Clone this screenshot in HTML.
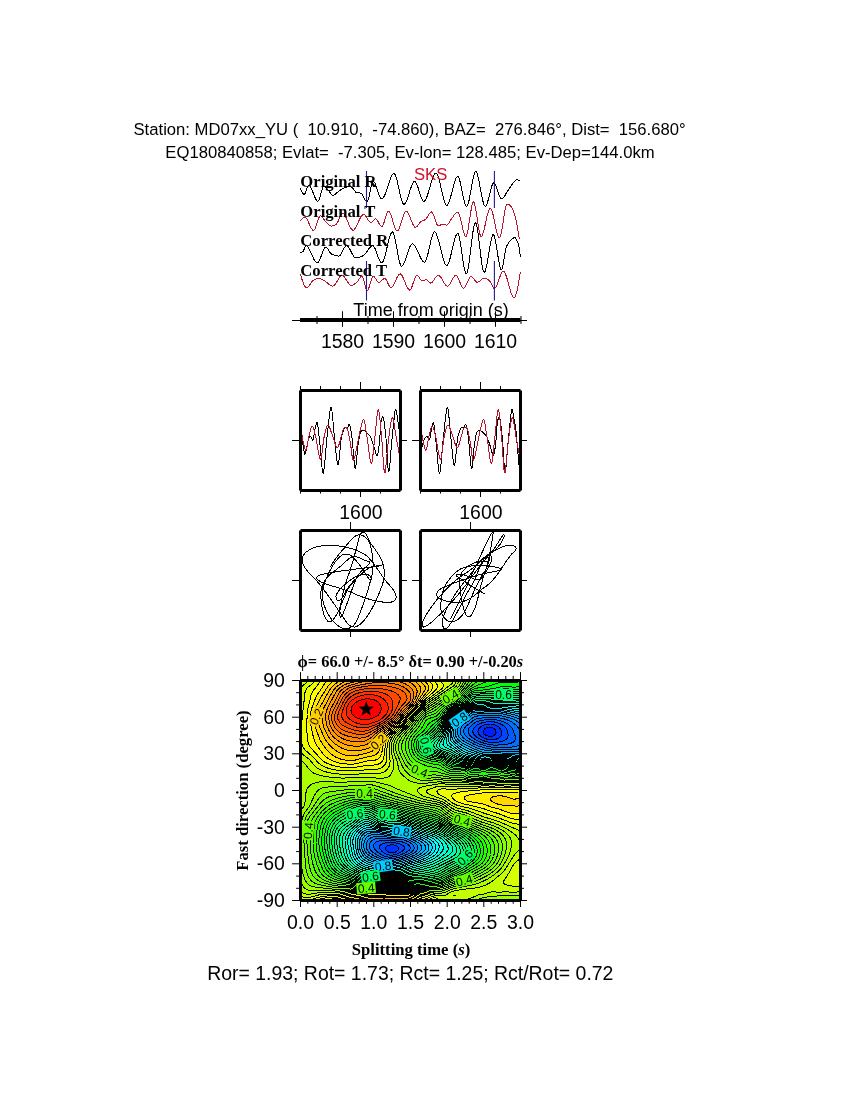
<!DOCTYPE html>
<html><head><meta charset="utf-8"><title>SWS</title><style>html,body{margin:0;padding:0;background:#fff}body{width:850px;height:1100px;position:relative;overflow:hidden}</style></head><body>
<svg width="850" height="1100" viewBox="0 0 850 1100" style="position:absolute;left:0;top:0">
<rect width="850" height="1100" fill="#fff"/>
<text x="409.6" y="135.4" font-family='"Liberation Sans",sans-serif' font-size="16.67" font-weight="normal" text-anchor="middle" fill="#000" xml:space="preserve" style="white-space:pre" >Station: MD07xx_YU (  10.910,  -74.860), BAZ=  276.846°, Dist=  156.680°</text>
<text x="410" y="157.6" font-family='"Liberation Sans",sans-serif' font-size="16.67" font-weight="normal" text-anchor="middle" fill="#000" xml:space="preserve" style="white-space:pre" >EQ180840858; Evlat=  -7.305, Ev-lon= 128.485; Ev-Dep=144.0km</text>
<path d="M300.3 187.6L300.8 189.2L301.3 190.6L301.8 191.8L302.3 192.7L302.8 193.4L303.3 193.9L303.8 194.2L304.3 194.3L304.8 193.9L305.3 192.9L305.8 191.7L306.3 190.2L306.8 188.8L307.3 187.4L307.8 186.2L308.3 185.5L308.8 185.3L309.3 185.5L309.8 185.9L310.3 186.6L310.8 187.4L311.3 188.4L311.8 189.5L312.3 190.7L312.8 192.0L313.3 193.3L313.8 194.5L314.3 195.8L314.8 197.0L315.3 198.1L315.8 199.1L316.3 199.9L316.8 200.6L317.3 201.0L317.8 201.2L318.3 201.0L318.8 200.3L319.3 199.2L319.8 197.7L320.3 196.0L320.8 194.2L321.3 192.3L321.8 190.5L322.3 188.9L322.8 187.5L323.3 186.6L323.8 186.0L324.3 186.0L324.8 186.3L325.3 186.7L325.8 187.2L326.3 187.9L326.8 188.5L327.3 189.2L327.8 189.8L328.3 190.4L328.8 191.0L329.3 191.6L329.8 192.2L330.3 192.9L330.8 193.5L331.3 194.1L331.8 194.6L332.3 195.0L332.8 195.2L333.3 195.3L333.8 195.2L334.3 195.0L334.8 194.7L335.3 194.3L335.8 193.8L336.3 193.4L336.8 192.9L337.3 192.4L337.8 192.0L338.3 191.6L338.8 191.3L339.3 190.9L339.8 190.5L340.3 190.2L340.8 189.8L341.3 189.4L341.8 189.1L342.3 188.8L342.8 188.5L343.3 188.2L343.8 188.0L344.3 187.8L344.8 187.6L345.3 187.4L345.8 187.2L346.3 187.1L346.8 186.9L347.3 186.8L347.8 186.6L348.3 186.5L348.8 186.5L349.3 186.4L349.8 186.4L350.3 186.5L350.8 186.8L351.3 187.1L351.8 187.5L352.3 188.0L352.8 188.5L353.3 189.0L353.8 189.5L354.3 190.2L354.8 191.0L355.3 191.7L355.8 192.2L356.3 192.4L356.8 192.5L357.3 192.6L357.8 192.7L358.3 192.7L358.8 192.8L359.3 192.8L359.8 192.9L360.3 193.0L360.8 193.1L361.3 193.3L361.8 193.8L362.3 194.7L362.8 195.7L363.3 196.8L363.8 197.9L364.3 198.7L364.8 199.5L365.3 200.3L365.8 201.0L366.3 201.6L366.8 201.9L367.3 201.7L367.8 200.8L368.3 199.4L368.8 197.6L369.3 195.4L369.8 193.1L370.3 190.7L370.8 188.3L371.3 186.2L371.8 184.3L372.3 182.7L372.8 181.8L373.3 181.4L373.8 181.6L374.3 182.1L374.8 182.9L375.3 183.9L375.8 185.1L376.3 186.5L376.8 188.0L377.3 189.6L377.8 191.1L378.3 192.7L378.8 194.2L379.3 195.5L379.8 196.7L380.3 197.7L380.8 198.4L381.3 198.9L381.8 199.0L382.3 198.8L382.8 198.4L383.3 197.8L383.8 197.0L384.3 196.1L384.8 195.0L385.3 193.7L385.8 192.4L386.3 191.0L386.8 189.5L387.3 188.0L387.8 186.4L388.3 184.9L388.8 183.3L389.3 181.8L389.8 180.4L390.3 179.0L390.8 177.8L391.3 176.6L391.8 175.7L392.3 174.8L392.8 174.2L393.3 173.7L393.8 173.5L394.3 173.6L394.8 174.1L395.3 175.0L395.8 176.2L396.3 177.7L396.8 179.5L397.3 181.5L397.8 183.6L398.3 185.9L398.8 188.2L399.3 190.5L399.8 192.8L400.3 195.0L400.8 197.1L401.3 199.0L401.8 200.7L402.3 202.1L402.8 203.2L403.3 204.0L403.8 204.3L404.3 204.2L404.8 203.8L405.3 203.2L405.8 202.4L406.3 201.4L406.8 200.2L407.3 198.8L407.8 197.4L408.3 195.9L408.8 194.3L409.3 192.7L409.8 191.1L410.3 189.5L410.8 188.0L411.3 186.6L411.8 185.3L412.3 184.1L412.8 183.1L413.3 182.3L413.8 181.8L414.3 181.5L414.8 181.4L415.3 181.7L415.8 182.3L416.3 183.2L416.8 184.3L417.3 185.5L417.8 186.9L418.3 188.5L418.8 190.1L419.3 191.7L419.8 193.3L420.3 194.9L420.8 196.3L421.3 197.7L421.8 198.9L422.3 199.9L422.8 200.6L423.3 201.1L423.8 201.3L424.3 201.2L424.8 200.8L425.3 200.1L425.8 199.3L426.3 198.2L426.8 197.0L427.3 195.6L427.8 194.2L428.3 192.6L428.8 190.9L429.3 189.2L429.8 187.5L430.3 185.8L430.8 184.0L431.3 182.4L431.8 180.8L432.3 179.2L432.8 177.8L433.3 176.5L433.8 175.4L434.3 174.5L434.8 173.8L435.3 173.3L435.8 173.0L436.3 173.1L436.8 173.5L437.3 174.3L437.8 175.4L438.3 176.8L438.8 178.5L439.3 180.3L439.8 182.4L440.3 184.5L440.8 186.7L441.3 189.0L441.8 191.2L442.3 193.5L442.8 195.6L443.3 197.7L443.8 199.6L444.3 201.2L444.8 202.7L445.3 203.9L445.8 204.8L446.3 205.3L446.8 205.4L447.3 205.2L447.8 204.6L448.3 203.7L448.8 202.6L449.3 201.3L449.8 199.8L450.3 198.1L450.8 196.3L451.3 194.5L451.8 192.5L452.3 190.6L452.8 188.6L453.3 186.7L453.8 184.8L454.3 183.1L454.8 181.5L455.3 180.0L455.8 178.8L456.3 177.8L456.8 177.0L457.3 176.6L457.8 176.5L458.3 176.9L458.8 177.8L459.3 179.1L459.8 180.7L460.3 182.7L460.8 184.9L461.3 187.3L461.8 189.8L462.3 192.3L462.8 194.8L463.3 197.3L463.8 199.5L464.3 201.6L464.8 203.4L465.3 204.9L465.8 205.9L466.3 206.5L466.8 206.5L467.3 206.0L467.8 204.9L468.3 203.4L468.8 201.4L469.3 199.2L469.8 196.6L470.3 193.9L470.8 191.1L471.3 188.2L471.8 185.3L472.3 182.5L472.8 179.9L473.3 177.5L473.8 175.5L474.3 173.7L474.8 172.5L475.3 171.7L475.8 171.5L476.3 171.9L476.8 172.8L477.3 174.1L477.8 175.8L478.3 177.9L478.8 180.2L479.3 182.7L479.8 185.4L480.3 188.1L480.8 190.8L481.3 193.5L481.8 196.1L482.3 198.6L482.8 200.8L483.3 202.7L483.8 204.3L484.3 205.4L484.8 206.1L485.3 206.3L485.8 206.0L486.3 205.2L486.8 204.2L487.3 202.8L487.8 201.2L488.3 199.4L488.8 197.4L489.3 195.4L489.8 193.4L490.3 191.4L490.8 189.5L491.3 187.7L491.8 186.1L492.3 184.8L492.8 183.8L493.3 183.1L493.8 182.9L494.3 183.1L494.8 183.6L495.3 184.4L495.8 185.5L496.3 186.7L496.8 188.1L497.3 189.6L497.8 191.1L498.3 192.6L498.8 194.1L499.3 195.4L499.8 196.7L500.3 197.7L500.8 198.4L501.3 198.9L501.8 199.0L502.3 198.8L502.8 198.5L503.3 198.0L503.8 197.4L504.3 196.6L504.8 195.8L505.3 194.9L505.8 194.0L506.3 193.1L506.8 192.2L507.3 191.4L507.8 190.7L508.3 190.1L508.8 189.4L509.3 188.7L509.8 187.9L510.3 187.1L510.8 186.3L511.3 185.5L511.8 184.8L512.3 184.0L512.8 183.3L513.3 182.6L513.8 182.0L514.3 181.5L514.8 181.0L515.3 180.6L515.8 180.2L516.3 180.0L516.8 179.9L517.3 179.9L517.8 180.0L518.3 180.1L518.8 180.3L519.3 180.6L519.8 180.9L520.3 181.3L520.4 181.4" stroke="#000" stroke-width="1" fill="none" stroke-linejoin="round" shape-rendering="crispEdges"/>
<path d="M300.4 221.2L300.9 220.4L301.4 219.8L301.9 219.2L302.4 218.7L302.9 218.3L303.4 217.9L303.9 217.7L304.4 217.6L304.9 217.5L305.4 217.6L305.9 217.9L306.4 218.4L306.9 219.1L307.4 220.0L307.9 221.0L308.4 222.0L308.9 223.2L309.4 224.3L309.9 225.4L310.4 226.5L310.9 227.5L311.4 228.4L311.9 229.2L312.4 229.8L312.9 230.2L313.4 230.4L313.9 230.3L314.4 229.7L314.9 228.9L315.4 227.7L315.9 226.4L316.4 224.9L316.9 223.3L317.4 221.7L317.9 220.2L318.4 218.8L318.9 217.7L319.4 216.7L319.9 216.1L320.4 215.9L320.9 216.0L321.4 216.3L321.9 216.7L322.4 217.3L322.9 217.9L323.4 218.6L323.9 219.3L324.4 220.1L324.9 220.7L325.4 221.4L325.9 221.9L326.4 222.4L326.9 222.9L327.4 223.4L327.9 223.9L328.4 224.4L328.9 224.9L329.4 225.3L329.9 225.6L330.4 225.8L330.9 226.0L331.4 226.0L331.9 226.0L332.4 225.9L332.9 225.7L333.4 225.6L333.9 225.4L334.4 225.1L334.9 224.9L335.4 224.6L335.9 224.3L336.4 224.0L336.9 223.5L337.4 222.7L337.9 221.7L338.4 220.6L338.9 219.4L339.4 218.1L339.9 216.8L340.4 215.7L340.9 214.7L341.4 213.8L341.9 213.3L342.4 213.0L342.9 213.1L343.4 213.4L343.9 213.8L344.4 214.5L344.9 215.3L345.4 216.2L345.9 217.2L346.4 218.4L346.9 219.5L347.4 220.7L347.9 222.0L348.4 223.2L348.9 224.4L349.4 225.5L349.9 226.6L350.4 227.6L350.9 228.4L351.4 229.1L351.9 229.7L352.4 230.0L352.9 230.2L353.4 230.1L353.9 229.9L354.4 229.4L354.9 228.8L355.4 228.1L355.9 227.3L356.4 226.3L356.9 225.3L357.4 224.2L357.9 223.1L358.4 222.0L358.9 220.8L359.4 219.7L359.9 218.7L360.4 217.7L360.9 216.8L361.4 216.0L361.9 215.4L362.4 214.9L362.9 214.5L363.4 214.4L363.9 214.5L364.4 214.7L364.9 215.1L365.4 215.7L365.9 216.4L366.4 217.1L366.9 217.9L367.4 218.7L367.9 219.5L368.4 220.3L368.9 221.0L369.4 221.6L369.9 222.0L370.4 222.4L370.9 222.5L371.4 222.4L371.9 222.1L372.4 221.7L372.9 221.2L373.4 220.6L373.9 220.0L374.4 219.5L374.9 219.1L375.4 218.9L375.9 219.0L376.4 219.3L376.9 219.8L377.4 220.5L377.9 221.3L378.4 222.2L378.9 223.2L379.4 224.1L379.9 224.9L380.4 225.6L380.9 226.1L381.4 226.4L381.9 226.5L382.4 226.1L382.9 225.3L383.4 224.2L383.9 222.8L384.4 221.3L384.9 219.7L385.4 218.0L385.9 216.4L386.4 214.9L386.9 213.5L387.4 212.4L387.9 211.6L388.4 211.2L388.9 211.3L389.4 211.7L389.9 212.5L390.4 213.5L390.9 214.9L391.4 216.4L391.9 218.0L392.4 219.7L392.9 221.5L393.4 223.3L393.9 225.0L394.4 226.6L394.9 228.0L395.4 229.2L395.9 230.2L396.4 230.8L396.9 231.1L397.4 231.0L397.9 230.6L398.4 229.9L398.9 228.9L399.4 227.7L399.9 226.4L400.4 225.0L400.9 223.4L401.4 221.8L401.9 220.2L402.4 218.6L402.9 217.0L403.4 215.6L403.9 214.3L404.4 213.2L404.9 212.3L405.4 211.6L405.9 211.3L406.4 211.2L406.9 211.5L407.4 212.0L407.9 212.6L408.4 213.5L408.9 214.5L409.4 215.7L409.9 216.9L410.4 218.2L410.9 219.5L411.4 220.8L411.9 222.1L412.4 223.3L412.9 224.4L413.4 225.3L413.9 226.2L414.4 226.8L414.9 227.2L415.4 227.3L415.9 227.2L416.4 226.9L416.9 226.5L417.4 226.0L417.9 225.4L418.4 224.8L418.9 224.1L419.4 223.4L419.9 222.7L420.4 222.1L420.9 221.6L421.4 221.3L421.9 221.0L422.4 220.8L422.9 220.6L423.4 220.4L423.9 220.2L424.4 220.1L424.9 219.8L425.4 219.5L425.9 219.1L426.4 218.5L426.9 217.8L427.4 217.0L427.9 216.1L428.4 215.3L428.9 214.4L429.4 213.6L429.9 213.0L430.4 212.5L430.9 212.1L431.4 212.0L431.9 212.2L432.4 212.8L432.9 213.7L433.4 214.8L433.9 216.1L434.4 217.5L434.9 219.0L435.4 220.5L435.9 221.9L436.4 223.2L436.9 224.2L437.4 225.1L437.9 225.6L438.4 225.7L438.9 225.6L439.4 225.5L439.9 225.3L440.4 225.0L440.9 224.8L441.4 224.6L441.9 224.4L442.4 224.2L442.9 224.2L443.4 224.2L443.9 224.3L444.4 224.5L444.9 224.6L445.4 224.8L445.9 224.9L446.4 225.0L446.9 225.0L447.4 224.8L447.9 224.3L448.4 223.8L448.9 223.0L449.4 222.2L449.9 221.4L450.4 220.5L450.9 219.7L451.4 218.9L451.9 218.2L452.4 217.6L452.9 216.9L453.4 216.2L453.9 215.5L454.4 214.8L454.9 214.1L455.4 213.5L455.9 213.0L456.4 212.5L456.9 212.2L457.4 212.0L457.9 212.0L458.4 212.5L458.9 213.5L459.4 214.8L459.9 216.4L460.4 218.4L460.9 220.5L461.4 222.7L461.9 224.9L462.4 227.2L462.9 229.3L463.4 231.3L463.9 233.1L464.4 234.6L464.9 235.7L465.4 236.3L465.9 236.5L466.4 235.9L466.9 234.6L467.4 232.7L467.9 230.2L468.4 227.4L468.9 224.2L469.4 220.9L469.9 217.6L470.4 214.3L470.9 211.1L471.4 208.3L471.9 205.8L472.4 203.9L472.9 202.6L473.4 202.0L473.9 202.3L474.4 203.3L474.9 205.1L475.4 207.4L475.9 210.1L476.4 213.2L476.9 216.5L477.4 219.9L477.9 223.3L478.4 226.5L478.9 229.5L479.4 232.1L479.9 234.2L480.4 235.7L480.9 236.4L481.4 236.4L481.9 235.9L482.4 235.0L482.9 233.7L483.4 232.1L483.9 230.2L484.4 228.2L484.9 226.0L485.4 223.7L485.9 221.4L486.4 219.1L486.9 216.9L487.4 214.9L487.9 213.0L488.4 211.3L488.9 210.0L489.4 209.0L489.9 208.4L490.4 208.2L490.9 208.6L491.4 209.4L491.9 210.6L492.4 212.2L492.9 214.1L493.4 216.2L493.9 218.5L494.4 220.9L494.9 223.3L495.4 225.8L495.9 228.2L496.4 230.4L496.9 232.5L497.4 234.3L497.9 235.8L498.4 237.0L498.9 237.7L499.4 238.0L499.9 237.6L500.4 236.4L500.9 234.7L501.4 232.4L501.9 229.6L502.4 226.6L502.9 223.4L503.4 220.2L503.9 216.9L504.4 213.8L504.9 211.0L505.4 208.5L505.9 206.5L506.4 205.1L506.9 204.4L507.4 204.3L507.9 204.4L508.4 204.5L508.9 204.7L509.4 205.0L509.9 205.4L510.4 205.9L510.9 206.4L511.4 207.1L511.9 208.0L512.4 208.9L512.9 210.0L513.4 211.2L513.9 212.6L514.4 214.2L514.9 215.9L515.4 217.8L515.9 219.8L516.4 222.1L516.9 224.6L517.4 227.3L517.9 230.2L518.4 233.3L518.9 236.6L519.3 239.5" stroke="#b8142e" stroke-width="1" fill="none" stroke-linejoin="round" shape-rendering="crispEdges"/>
<path d="M300.4 252.5L300.9 252.5L301.4 252.3L301.9 252.1L302.4 251.9L302.9 251.6L303.4 251.0L303.9 249.9L304.4 248.6L304.9 247.2L305.4 246.2L305.9 245.6L306.4 245.7L306.9 245.9L307.4 246.3L307.9 246.9L308.4 247.6L308.9 248.5L309.4 249.4L309.9 250.4L310.4 251.5L310.9 252.6L311.4 253.7L311.9 254.9L312.4 256.0L312.9 257.1L313.4 258.2L313.9 259.2L314.4 260.1L314.9 260.9L315.4 261.6L315.9 262.2L316.4 262.5L316.9 262.8L317.4 262.8L317.9 262.5L318.4 262.0L318.9 261.2L319.4 260.3L319.9 259.2L320.4 258.0L320.9 256.7L321.4 255.4L321.9 254.1L322.4 252.7L322.9 251.5L323.4 250.3L323.9 249.3L324.4 248.4L324.9 247.8L325.4 247.3L325.9 247.2L326.4 247.3L326.9 247.7L327.4 248.3L327.9 249.1L328.4 249.9L328.9 250.8L329.4 251.7L329.9 252.5L330.4 253.2L330.9 253.7L331.4 254.0L331.9 254.3L332.4 254.5L332.9 254.7L333.4 254.9L333.9 255.1L334.4 255.2L334.9 255.4L335.4 255.5L335.9 255.6L336.4 255.7L336.9 255.8L337.4 255.9L337.9 256.0L338.4 256.0L338.9 256.0L339.4 255.9L339.9 255.5L340.4 255.0L340.9 254.3L341.4 253.4L341.9 252.5L342.4 251.5L342.9 250.5L343.4 249.5L343.9 248.5L344.4 247.7L344.9 246.9L345.4 246.3L345.9 245.8L346.4 245.6L346.9 245.6L347.4 245.9L347.9 246.3L348.4 246.9L348.9 247.6L349.4 248.4L349.9 249.3L350.4 250.2L350.9 251.2L351.4 252.3L351.9 253.3L352.4 254.2L352.9 255.1L353.4 255.9L353.9 256.6L354.4 257.2L354.9 257.6L355.4 257.9L355.9 257.9L356.4 257.9L356.9 257.8L357.4 257.7L357.9 257.7L358.4 257.5L358.9 257.4L359.4 257.2L359.9 257.1L360.4 256.9L360.9 256.7L361.4 256.5L361.9 256.3L362.4 256.1L362.9 255.8L363.4 255.6L363.9 255.3L364.4 254.9L364.9 254.4L365.4 253.8L365.9 253.2L366.4 252.5L366.9 251.7L367.4 251.0L367.9 250.2L368.4 249.5L368.9 248.7L369.4 248.1L369.9 247.4L370.4 246.9L370.9 246.4L371.4 246.0L371.9 245.7L372.4 245.6L372.9 245.7L373.4 246.0L373.9 246.6L374.4 247.4L374.9 248.3L375.4 249.5L375.9 250.7L376.4 252.1L376.9 253.5L377.4 254.9L377.9 256.3L378.4 257.7L378.9 258.9L379.4 260.1L379.9 261.0L380.4 261.8L380.9 262.4L381.4 262.7L381.9 262.8L382.4 262.4L382.9 261.7L383.4 260.7L383.9 259.4L384.4 257.9L384.9 256.2L385.4 254.3L385.9 252.3L386.4 250.2L386.9 248.0L387.4 245.8L387.9 243.7L388.4 241.6L388.9 239.7L389.4 237.8L389.9 236.2L390.4 234.7L390.9 233.6L391.4 232.7L391.9 232.1L392.4 231.9L392.9 232.2L393.4 233.0L393.9 234.3L394.4 236.1L394.9 238.1L395.4 240.5L395.9 243.0L396.4 245.8L396.9 248.5L397.4 251.3L397.9 254.1L398.4 256.7L398.9 259.2L399.4 261.3L399.9 263.2L400.4 264.7L400.9 265.7L401.4 266.3L401.9 266.2L402.4 265.9L402.9 265.4L403.4 264.6L403.9 263.6L404.4 262.5L404.9 261.2L405.4 259.8L405.9 258.3L406.4 256.8L406.9 255.2L407.4 253.6L407.9 252.1L408.4 250.6L408.9 249.2L409.4 247.9L409.9 246.7L410.4 245.7L410.9 244.9L411.4 244.3L411.9 243.9L412.4 243.8L412.9 243.9L413.4 244.2L413.9 244.7L414.4 245.2L414.9 245.9L415.4 246.7L415.9 247.6L416.4 248.6L416.9 249.6L417.4 250.7L417.9 251.8L418.4 252.9L418.9 254.1L419.4 255.2L419.9 256.3L420.4 257.3L420.9 258.3L421.4 259.2L421.9 260.0L422.4 260.7L422.9 261.2L423.4 261.7L423.9 262.0L424.4 262.1L424.9 262.0L425.4 261.4L425.9 260.5L426.4 259.2L426.9 257.7L427.4 256.0L427.9 254.0L428.4 251.9L428.9 249.7L429.4 247.5L429.9 245.2L430.4 243.0L430.9 240.8L431.4 238.8L431.9 237.0L432.4 235.3L432.9 234.0L433.4 232.9L433.9 232.2L434.4 231.9L434.9 232.0L435.4 232.4L435.9 233.1L436.4 234.1L436.9 235.3L437.4 236.7L437.9 238.3L438.4 240.0L438.9 241.9L439.4 243.8L439.9 245.8L440.4 247.9L440.9 249.9L441.4 252.0L441.9 254.0L442.4 255.9L442.9 257.8L443.4 259.5L443.9 261.0L444.4 262.4L444.9 263.5L445.4 264.4L445.9 265.1L446.4 265.4L446.9 265.5L447.4 265.1L447.9 264.4L448.4 263.4L448.9 262.2L449.4 260.6L449.9 258.9L450.4 257.0L450.9 255.0L451.4 252.9L451.9 250.8L452.4 248.6L452.9 246.4L453.4 244.3L453.9 242.2L454.4 240.3L454.9 238.6L455.4 237.0L455.9 235.7L456.4 234.6L456.9 233.9L457.4 233.5L457.9 233.5L458.4 234.2L458.9 235.5L459.4 237.5L459.9 240.0L460.4 242.9L460.9 246.0L461.4 249.4L461.9 252.9L462.4 256.5L462.9 259.9L463.4 263.2L463.9 266.2L464.4 268.8L464.9 271.0L465.4 272.7L465.9 273.6L466.4 273.9L466.9 273.3L467.4 271.8L467.9 269.7L468.4 267.0L468.9 263.7L469.4 260.1L469.9 256.2L470.4 252.1L470.9 247.9L471.4 243.7L471.9 239.6L472.4 235.7L472.9 232.2L473.4 229.0L473.9 226.4L474.4 224.4L474.9 223.1L475.4 222.7L475.9 223.2L476.4 224.5L476.9 226.5L477.4 229.2L477.9 232.5L478.4 236.1L478.9 240.0L479.4 244.2L479.9 248.4L480.4 252.6L480.9 256.7L481.4 260.5L481.9 264.0L482.4 267.0L482.9 269.5L483.4 271.2L483.9 272.2L484.4 272.3L484.9 271.8L485.4 270.6L485.9 268.9L486.4 266.8L486.9 264.4L487.4 261.7L487.9 258.7L488.4 255.7L488.9 252.6L489.4 249.5L489.9 246.5L490.4 243.7L490.9 241.1L491.4 238.9L491.9 237.0L492.4 235.6L492.9 234.8L493.4 234.6L493.9 235.2L494.4 236.4L494.9 238.2L495.4 240.5L495.9 243.2L496.4 246.1L496.9 249.3L497.4 252.5L497.9 255.8L498.4 258.9L498.9 261.8L499.4 264.4L499.9 266.6L500.4 268.3L500.9 269.4L501.4 269.8L501.9 269.3L502.4 267.8L502.9 265.5L503.4 262.7L503.9 259.7L504.4 256.5L504.9 253.4L505.4 250.7L505.9 248.4L506.4 247.0L506.9 245.8L507.4 244.8L507.9 243.9L508.4 243.0L508.9 242.3L509.4 241.7L509.9 241.1L510.4 240.6L510.9 240.1L511.4 239.6L511.9 239.1L512.4 238.7L512.9 238.4L513.4 238.1L513.9 237.8L514.4 237.7L514.9 237.7L515.4 238.0L515.9 238.6L516.4 239.4L516.9 240.4L517.4 241.5L517.9 242.7L518.4 244.3L518.9 246.8L519.4 249.8L519.9 253.3L520.4 257.1" stroke="#000" stroke-width="1" fill="none" stroke-linejoin="round" shape-rendering="crispEdges"/>
<path d="M300.4 273.9L300.9 275.8L301.4 277.5L301.9 279.2L302.4 280.7L302.9 282.1L303.4 283.4L303.9 284.5L304.4 285.5L304.9 286.3L305.4 286.9L305.9 287.4L306.4 287.6L306.9 287.7L307.4 287.5L307.9 287.2L308.4 286.7L308.9 286.1L309.4 285.4L309.9 284.6L310.4 283.8L310.9 283.0L311.4 282.3L311.9 281.7L312.4 281.2L312.9 280.8L313.4 280.5L313.9 280.2L314.4 280.0L314.9 279.7L315.4 279.5L315.9 279.2L316.4 279.0L316.9 278.9L317.4 278.7L317.9 278.6L318.4 278.5L318.9 278.5L319.4 278.5L319.9 278.6L320.4 278.7L320.9 278.9L321.4 279.2L321.9 279.4L322.4 279.7L322.9 280.0L323.4 280.3L323.9 280.5L324.4 280.8L324.9 281.1L325.4 281.4L325.9 281.8L326.4 282.1L326.9 282.5L327.4 283.0L327.9 283.4L328.4 283.8L328.9 284.2L329.4 284.6L329.9 285.0L330.4 285.3L330.9 285.6L331.4 285.8L331.9 286.0L332.4 286.1L332.9 286.1L333.4 286.0L333.9 285.7L334.4 285.2L334.9 284.7L335.4 284.0L335.9 283.3L336.4 282.5L336.9 281.6L337.4 280.8L337.9 279.9L338.4 279.0L338.9 278.2L339.4 277.5L339.9 276.8L340.4 276.3L340.9 275.8L341.4 275.5L341.9 275.4L342.4 275.5L342.9 275.7L343.4 276.0L343.9 276.5L344.4 277.1L344.9 277.8L345.4 278.5L345.9 279.3L346.4 280.1L346.9 280.9L347.4 281.7L347.9 282.5L348.4 283.2L348.9 283.8L349.4 284.4L349.9 284.9L350.4 285.2L350.9 285.4L351.4 285.4L351.9 285.3L352.4 285.2L352.9 285.0L353.4 284.7L353.9 284.4L354.4 284.1L354.9 283.7L355.4 283.3L355.9 282.9L356.4 282.5L356.9 282.1L357.4 281.6L357.9 281.0L358.4 280.3L358.9 279.5L359.4 278.7L359.9 277.9L360.4 277.2L360.9 276.7L361.4 276.3L361.9 276.2L362.4 276.6L362.9 277.6L363.4 279.0L363.9 280.8L364.4 282.8L364.9 284.9L365.4 286.8L365.9 288.5L366.4 289.8L366.9 290.6L367.4 290.7L367.9 290.2L368.4 289.2L368.9 287.9L369.4 286.4L369.9 284.7L370.4 282.9L370.9 281.2L371.4 279.5L371.9 278.1L372.4 277.1L372.9 276.4L373.4 276.2L373.9 276.4L374.4 276.9L374.9 277.5L375.4 278.3L375.9 279.1L376.4 279.9L376.9 280.7L377.4 281.4L377.9 281.9L378.4 282.2L378.9 282.3L379.4 282.2L379.9 281.9L380.4 281.6L380.9 281.2L381.4 280.7L381.9 280.3L382.4 279.8L382.9 279.4L383.4 279.0L383.9 278.7L384.4 278.5L384.9 278.5L385.4 278.7L385.9 279.3L386.4 280.1L386.9 281.0L387.4 282.1L387.9 283.2L388.4 284.3L388.9 285.4L389.4 286.3L389.9 287.0L390.4 287.5L390.9 287.7L391.4 287.6L391.9 287.2L392.4 286.7L392.9 286.0L393.4 285.2L393.9 284.3L394.4 283.2L394.9 282.1L395.4 281.0L395.9 279.9L396.4 278.8L396.9 277.7L397.4 276.8L397.9 275.9L398.4 275.1L398.9 274.5L399.4 274.1L399.9 273.9L400.4 273.9L400.9 274.2L401.4 274.7L401.9 275.4L402.4 276.2L402.9 277.2L403.4 278.3L403.9 279.5L404.4 280.7L404.9 281.9L405.4 283.2L405.9 284.4L406.4 285.6L406.9 286.7L407.4 287.7L407.9 288.5L408.4 289.2L408.9 289.7L409.4 290.0L409.9 290.0L410.4 289.6L410.9 288.9L411.4 287.9L411.9 286.7L412.4 285.4L412.9 283.9L413.4 282.4L413.9 280.9L414.4 279.5L414.9 278.2L415.4 277.0L415.9 276.2L416.4 275.6L416.9 275.4L417.4 275.5L417.9 275.9L418.4 276.5L418.9 277.1L419.4 277.9L419.9 278.6L420.4 279.4L420.9 280.0L421.4 280.5L421.9 280.8L422.4 280.8L422.9 280.7L423.4 280.6L423.9 280.4L424.4 280.2L424.9 280.0L425.4 279.9L425.9 279.8L426.4 279.9L426.9 280.1L427.4 280.5L427.9 281.0L428.4 281.5L428.9 282.0L429.4 282.5L429.9 282.8L430.4 283.0L430.9 283.0L431.4 282.8L431.9 282.4L432.4 281.9L432.9 281.4L433.4 280.7L433.9 280.0L434.4 279.3L434.9 278.5L435.4 277.8L435.9 277.2L436.4 276.6L436.9 276.1L437.4 275.7L437.9 275.5L438.4 275.4L438.9 275.5L439.4 275.8L439.9 276.3L440.4 276.8L440.9 277.5L441.4 278.2L441.9 279.0L442.4 279.9L442.9 280.7L443.4 281.6L443.9 282.5L444.4 283.3L444.9 284.0L445.4 284.7L445.9 285.2L446.4 285.7L446.9 286.0L447.4 286.1L447.9 286.0L448.4 285.8L448.9 285.3L449.4 284.7L449.9 284.0L450.4 283.2L450.9 282.3L451.4 281.3L451.9 280.4L452.4 279.4L452.9 278.5L453.4 277.7L453.9 276.9L454.4 276.3L454.9 275.8L455.4 275.5L455.9 275.4L456.4 275.6L456.9 276.0L457.4 276.7L457.9 277.6L458.4 278.6L458.9 279.8L459.4 281.0L459.9 282.3L460.4 283.5L460.9 284.7L461.4 285.7L461.9 286.6L462.4 287.4L462.9 287.9L463.4 288.1L463.9 288.0L464.4 287.7L464.9 287.1L465.4 286.3L465.9 285.4L466.4 284.4L466.9 283.3L467.4 282.2L467.9 281.1L468.4 280.0L468.9 279.0L469.4 278.1L469.9 277.4L470.4 276.8L470.9 276.6L471.4 276.5L471.9 276.7L472.4 277.1L472.9 277.6L473.4 278.2L473.9 278.9L474.4 279.6L474.9 280.3L475.4 281.0L475.9 281.5L476.4 282.0L476.9 282.2L477.4 282.3L477.9 282.2L478.4 282.0L478.9 281.7L479.4 281.3L479.9 280.9L480.4 280.5L480.9 280.0L481.4 279.5L481.9 279.1L482.4 278.7L482.9 278.4L483.4 278.2L483.9 278.0L484.4 278.0L484.9 278.1L485.4 278.2L485.9 278.4L486.4 278.6L486.9 278.9L487.4 279.2L487.9 279.6L488.4 279.9L488.9 280.3L489.4 280.7L489.9 281.2L490.4 282.0L490.9 282.9L491.4 283.9L491.9 285.0L492.4 286.0L492.9 287.0L493.4 287.7L493.9 288.2L494.4 288.4L494.9 288.2L495.4 287.8L495.9 287.1L496.4 286.2L496.9 285.1L497.4 283.9L497.9 282.5L498.4 281.1L498.9 279.7L499.4 278.3L499.9 276.9L500.4 275.6L500.9 274.4L501.4 273.3L501.9 272.4L502.4 271.8L502.9 271.4L503.4 271.3L503.9 271.5L504.4 272.1L504.9 272.9L505.4 273.9L505.9 275.2L506.4 276.6L506.9 278.2L507.4 279.9L507.9 281.7L508.4 283.5L508.9 285.4L509.4 287.2L509.9 289.0L510.4 290.7L510.9 292.3L511.4 293.7L511.9 295.0L512.4 296.0L512.9 296.8L513.4 297.4L513.9 297.6L514.4 297.5L514.9 296.9L515.4 296.0L515.9 294.7L516.4 293.0L516.9 291.1L517.4 288.9L517.9 286.4L518.4 283.8L518.9 280.9L519.4 277.9L519.9 274.8L520.4 271.6" stroke="#b8142e" stroke-width="1" fill="none" stroke-linejoin="round" shape-rendering="crispEdges"/>
<path d="M366.5 171L366.5 208" stroke="#241c8c" stroke-width="1.1" fill="none"/>
<path d="M366.5 261L366.5 300.5" stroke="#241c8c" stroke-width="1.1" fill="none"/>
<path d="M494.4 171L494.4 208" stroke="#241c8c" stroke-width="1.1" fill="none"/>
<path d="M494.4 261L494.4 300.5" stroke="#241c8c" stroke-width="1.1" fill="none"/>
<text x="300.3" y="186.8" font-family='"Liberation Serif",serif' font-size="16.67" font-weight="bold" text-anchor="start" fill="#000" xml:space="preserve" style="white-space:pre" >Original R</text>
<text x="300.3" y="216.60000000000002" font-family='"Liberation Serif",serif' font-size="16.67" font-weight="bold" text-anchor="start" fill="#000" xml:space="preserve" style="white-space:pre" >Original T</text>
<text x="300.3" y="246.4" font-family='"Liberation Serif",serif' font-size="16.67" font-weight="bold" text-anchor="start" fill="#000" xml:space="preserve" style="white-space:pre" >Corrected R</text>
<text x="300.3" y="276.20000000000005" font-family='"Liberation Serif",serif' font-size="16.67" font-weight="bold" text-anchor="start" fill="#000" xml:space="preserve" style="white-space:pre" >Corrected T</text>
<text x="430.6" y="179.8" font-family='"Liberation Sans",sans-serif' font-size="16.67" font-weight="normal" text-anchor="middle" fill="#d4102c" xml:space="preserve" style="white-space:pre" >SKS</text>
<text x="431" y="316.2" font-family='"Liberation Sans",sans-serif' font-size="18" font-weight="normal" text-anchor="middle" fill="#000" xml:space="preserve" style="white-space:pre" >Time from origin (s)</text>
<path d="M300 320L520.5 320" stroke="#000" stroke-width="4" fill="none"/>
<path d="M292 320.5L527 320.5" stroke="#000" stroke-width="1" fill="none"/>
<path d="M317.0 316L317.0 324" stroke="#000" stroke-width="1" fill="none"/>
<path d="M342.5 311.3L342.5 326.8" stroke="#000" stroke-width="1" fill="none"/>
<text x="342.5" y="348.3" font-family='"Liberation Sans",sans-serif' font-size="19.44" font-weight="normal" text-anchor="middle" fill="#000" xml:space="preserve" style="white-space:pre" >1580</text>
<path d="M368.0 316L368.0 324" stroke="#000" stroke-width="1" fill="none"/>
<path d="M393.5 311.3L393.5 326.8" stroke="#000" stroke-width="1" fill="none"/>
<text x="393.5" y="348.3" font-family='"Liberation Sans",sans-serif' font-size="19.44" font-weight="normal" text-anchor="middle" fill="#000" xml:space="preserve" style="white-space:pre" >1590</text>
<path d="M419.0 316L419.0 324" stroke="#000" stroke-width="1" fill="none"/>
<path d="M444.5 311.3L444.5 326.8" stroke="#000" stroke-width="1" fill="none"/>
<text x="444.5" y="348.3" font-family='"Liberation Sans",sans-serif' font-size="19.44" font-weight="normal" text-anchor="middle" fill="#000" xml:space="preserve" style="white-space:pre" >1600</text>
<path d="M470.0 316L470.0 324" stroke="#000" stroke-width="1" fill="none"/>
<path d="M495.5 311.3L495.5 326.8" stroke="#000" stroke-width="1" fill="none"/>
<text x="495.5" y="348.3" font-family='"Liberation Sans",sans-serif' font-size="19.44" font-weight="normal" text-anchor="middle" fill="#000" xml:space="preserve" style="white-space:pre" >1610</text>
<path d="M521.0 316L521.0 324" stroke="#000" stroke-width="1" fill="none"/>
<path d="M301.0 432.0L301.2 433.6L301.5 435.2L301.8 436.8L302.0 438.3L302.2 439.8L302.5 441.3L302.8 442.9L303.0 444.7L303.2 446.5L303.5 448.2L303.8 449.9L304.0 451.4L304.2 452.7L304.5 453.6L304.8 454.1L305.0 454.2L305.2 453.9L305.5 453.3L305.8 452.5L306.0 451.5L306.2 450.3L306.5 449.0L306.8 447.6L307.0 446.2L307.2 444.7L307.5 443.3L307.8 442.0L308.0 440.7L308.2 439.6L308.5 438.7L308.8 438.1L309.0 437.7L309.2 437.3L309.5 436.9L309.8 436.6L310.0 436.4L310.2 436.3L310.5 436.2L310.8 436.3L311.0 436.7L311.2 437.2L311.5 437.8L311.8 438.4L312.0 439.0L312.2 439.5L312.5 439.9L312.8 440.1L313.0 439.9L313.2 439.3L313.5 438.3L313.8 437.0L314.0 435.5L314.2 433.9L314.5 432.3L314.8 430.8L315.0 429.5L315.2 428.4L315.5 427.3L315.8 426.0L316.0 424.9L316.2 423.8L316.5 423.0L316.8 422.6L317.0 422.5L317.2 423.1L317.5 424.0L317.8 425.5L318.0 427.2L318.2 429.3L318.5 431.5L318.8 433.9L319.0 436.3L319.2 438.7L319.5 441.0L319.8 443.2L320.0 445.3L320.2 447.8L320.5 450.5L320.8 453.4L321.0 456.4L321.2 459.3L321.5 462.2L321.8 464.9L322.0 467.4L322.2 469.5L322.5 471.2L322.8 472.4L323.0 473.0L323.2 473.0L323.5 472.4L323.8 471.2L324.0 469.6L324.2 467.6L324.5 465.3L324.8 462.7L325.0 459.9L325.2 457.0L325.5 454.0L325.8 450.9L326.0 447.9L326.2 444.9L326.5 442.1L326.8 439.5L327.0 437.2L327.2 435.2L327.5 433.0L327.8 430.7L328.0 428.3L328.2 425.9L328.5 423.5L328.8 421.1L329.0 418.9L329.2 416.7L329.5 414.6L329.8 412.8L330.0 411.2L330.2 409.8L330.5 408.7L330.8 408.0L331.0 407.6L331.2 407.7L331.5 408.4L331.8 409.7L332.0 411.4L332.2 413.5L332.5 415.9L332.8 418.6L333.0 421.4L333.2 424.3L333.5 427.2L333.8 430.0L334.0 432.7L334.2 435.1L334.5 437.3L334.8 439.5L335.0 442.0L335.2 444.6L335.5 447.2L335.8 449.9L336.0 452.5L336.2 455.0L336.5 457.3L336.8 459.5L337.0 461.4L337.2 462.9L337.5 464.1L337.8 464.8L338.0 465.1L338.2 464.8L338.5 463.8L338.8 462.3L339.0 460.4L339.2 458.2L339.5 455.6L339.8 453.0L340.0 450.2L340.2 447.4L340.5 444.7L340.8 442.3L341.0 440.1L341.2 438.2L341.5 436.8L341.8 435.9L342.0 435.0L342.2 434.1L342.5 433.2L342.8 432.4L343.0 431.7L343.2 430.9L343.5 430.3L343.8 429.7L344.0 429.1L344.2 428.7L344.5 428.3L344.8 428.0L345.0 427.7L345.2 427.6L345.5 427.6L345.8 427.5L346.0 427.5L346.2 427.5L346.5 427.4L346.8 427.4L347.0 427.4L347.2 427.4L347.5 427.3L347.8 427.1L348.0 426.7L348.2 426.1L348.5 425.6L348.8 425.0L349.0 424.6L349.2 424.4L349.5 424.5L349.8 425.0L350.0 425.8L350.2 426.9L350.5 428.2L350.8 429.6L351.0 431.2L351.2 432.8L351.5 434.5L351.8 436.1L352.0 437.8L352.2 440.0L352.5 442.5L352.8 445.3L353.0 448.3L353.2 451.4L353.5 454.5L353.8 457.5L354.0 460.3L354.2 462.9L354.5 465.0L354.8 466.7L355.0 467.9L355.2 468.4L355.5 468.1L355.8 467.1L356.0 465.5L356.2 463.4L356.5 460.9L356.8 458.2L357.0 455.3L357.2 452.4L357.5 449.6L357.8 447.1L358.0 445.0L358.2 443.3L358.5 441.8L358.8 440.3L359.0 438.8L359.2 437.4L359.5 436.1L359.8 434.9L360.0 433.9L360.2 433.0L360.5 432.4L360.8 431.9L361.0 431.6L361.2 431.3L361.5 431.0L361.8 430.8L362.0 430.6L362.2 430.4L362.5 430.3L362.8 430.2L363.0 430.2L363.2 430.2L363.5 430.3L363.8 430.4L364.0 430.5L364.2 430.6L364.5 430.8L364.8 430.9L365.0 431.1L365.2 431.3L365.5 431.5L365.8 431.7L366.0 431.9L366.2 432.1L366.5 432.4L366.8 432.6L367.0 432.8L367.2 433.0L367.5 433.2L367.8 433.5L368.0 433.7L368.2 434.0L368.5 434.3L368.8 434.6L369.0 434.9L369.2 435.2L369.5 435.6L369.8 435.9L370.0 436.3L370.2 436.7L370.5 437.1L370.8 437.6L371.0 438.1L371.2 438.7L371.5 439.3L371.8 440.0L372.0 440.7L372.2 441.4L372.5 442.2L372.8 442.9L373.0 443.7L373.2 444.4L373.5 445.1L373.8 445.8L374.0 446.7L374.2 447.5L374.5 448.5L374.8 449.4L375.0 450.3L375.2 451.3L375.5 452.1L375.8 452.9L376.0 453.7L376.2 454.3L376.5 454.8L376.8 455.1L377.0 455.3L377.2 455.2L377.5 454.7L377.8 453.9L378.0 452.7L378.2 451.2L378.5 449.5L378.8 447.7L379.0 445.9L379.2 444.0L379.5 441.8L379.8 438.7L380.0 435.1L380.2 431.3L380.5 427.7L380.8 424.6L381.0 422.4L381.2 421.1L381.5 420.0L381.8 419.1L382.0 418.2L382.2 417.5L382.5 417.0L382.8 416.7L383.0 416.7L383.2 417.2L383.5 418.0L383.8 419.2L384.0 420.8L384.2 422.6L384.5 424.6L384.8 426.8L385.0 429.1L385.2 431.4L385.5 433.7L385.8 436.0L386.0 438.4L386.2 441.5L386.5 445.1L386.8 449.1L387.0 453.2L387.2 457.4L387.5 461.3L387.8 464.9L388.0 467.9L388.2 470.2L388.5 471.6L388.8 472.0L389.0 471.4L389.2 470.2L389.5 468.3L389.8 465.9L390.0 463.2L390.2 460.1L390.5 456.9L390.8 453.7L391.0 450.5L391.2 447.4L391.5 444.6L391.8 442.1L392.0 439.5L392.2 436.9L392.5 434.3L392.8 431.7L393.0 429.1L393.2 426.7L393.5 424.4L393.8 422.2L394.0 420.1L394.2 417.8L394.5 415.6L394.8 413.4L395.0 411.6L395.2 410.3L395.5 409.6L395.8 409.6L396.0 410.1L396.2 411.0L396.5 412.1L396.8 413.6L397.0 415.1L397.2 416.8L397.5 418.5L397.8 420.1L398.0 421.7L398.2 423.4L398.5 425.3L398.8 427.3L399.0 429.4L399.2 431.6L399.3 432.0" stroke="#000" stroke-width="1" fill="none" shape-rendering="crispEdges"/>
<path d="M301.3 430.5L301.6 432.4L301.8 434.1L302.1 435.9L302.3 437.5L302.6 439.0L302.8 440.4L303.1 441.7L303.3 442.8L303.6 443.8L303.8 444.7L304.1 445.7L304.3 446.6L304.6 447.4L304.8 448.2L305.1 448.9L305.3 449.5L305.6 449.9L305.8 450.1L306.1 450.2L306.3 449.9L306.6 449.2L306.8 448.2L307.1 447.0L307.3 445.6L307.6 444.0L307.8 442.4L308.1 440.9L308.3 439.3L308.6 438.0L308.8 436.8L309.1 435.8L309.3 434.8L309.6 433.8L309.8 432.7L310.1 431.7L310.3 430.7L310.6 429.7L310.8 428.9L311.1 428.1L311.3 427.4L311.6 426.8L311.8 426.5L312.1 426.2L312.3 426.2L312.6 426.4L312.8 426.8L313.1 427.3L313.3 428.0L313.6 428.7L313.8 429.6L314.1 430.6L314.3 431.6L314.6 432.6L314.8 433.6L315.1 434.7L315.3 435.6L315.6 436.6L315.8 437.6L316.1 438.8L316.3 440.0L316.6 441.4L316.8 442.8L317.1 444.3L317.3 445.9L317.6 447.4L317.8 448.9L318.1 450.4L318.3 451.9L318.6 453.3L318.8 454.5L319.1 455.7L319.3 456.8L319.6 457.7L319.8 458.4L320.1 458.9L320.3 459.2L320.6 459.3L320.8 459.0L321.1 458.2L321.3 457.1L321.6 455.7L321.8 454.0L322.1 452.2L322.3 450.2L322.6 448.1L322.8 446.0L323.1 443.9L323.3 441.9L323.6 440.1L323.8 438.5L324.1 437.1L324.3 436.0L324.6 434.9L324.8 433.8L325.1 432.7L325.3 431.7L325.6 430.6L325.8 429.6L326.1 428.7L326.3 427.8L326.6 427.1L326.8 426.4L327.1 425.9L327.3 425.4L327.6 425.2L327.8 425.1L328.1 425.2L328.3 425.3L328.6 425.6L328.8 426.0L329.1 426.4L329.3 426.9L329.6 427.5L329.8 428.2L330.1 428.8L330.3 429.6L330.6 430.3L330.8 431.0L331.1 431.8L331.3 432.5L331.6 433.2L331.8 433.9L332.1 434.5L332.3 435.1L332.6 435.8L332.8 436.5L333.1 437.2L333.3 438.0L333.6 438.8L333.8 439.6L334.1 440.5L334.3 441.3L334.6 442.1L334.8 442.9L335.1 443.7L335.3 444.4L335.6 445.1L335.8 445.7L336.1 446.2L336.3 446.7L336.6 447.1L336.8 447.4L337.1 447.5L337.3 447.6L337.6 447.5L337.8 447.3L338.1 446.9L338.3 446.4L338.6 445.7L338.8 445.0L339.1 444.2L339.3 443.3L339.6 442.4L339.8 441.4L340.1 440.4L340.3 439.4L340.6 438.5L340.8 437.5L341.1 436.6L341.3 435.8L341.6 435.0L341.8 434.3L342.1 433.5L342.3 432.7L342.6 431.8L342.8 430.9L343.1 430.1L343.3 429.3L343.6 428.6L343.8 428.1L344.1 427.6L344.3 427.4L344.6 427.3L344.8 427.3L345.1 427.4L345.3 427.4L345.6 427.5L345.8 427.6L346.1 427.7L346.3 427.8L346.6 427.9L346.8 428.1L347.1 428.4L347.3 428.9L347.6 429.6L347.8 430.4L348.1 431.4L348.3 432.5L348.6 433.7L348.8 435.0L349.1 436.3L349.3 437.7L349.6 439.0L349.8 440.4L350.1 441.8L350.3 443.1L350.6 444.4L350.8 446.1L351.1 448.0L351.3 450.0L351.6 452.1L351.8 454.1L352.1 456.0L352.3 457.7L352.6 459.0L352.8 460.0L353.1 460.4L353.3 460.3L353.6 460.1L353.8 459.7L354.1 459.1L354.3 458.4L354.6 457.5L354.8 456.6L355.1 455.5L355.3 454.4L355.6 453.2L355.8 452.0L356.1 450.7L356.3 449.4L356.6 448.2L356.8 446.9L357.1 445.7L357.3 444.5L357.6 443.4L357.8 442.2L358.1 441.0L358.3 439.7L358.6 438.4L358.8 437.0L359.1 435.6L359.3 434.2L359.6 432.9L359.8 431.6L360.1 430.4L360.3 429.2L360.6 428.2L360.8 427.2L361.1 426.3L361.3 425.2L361.6 424.2L361.8 423.3L362.1 422.3L362.3 421.5L362.6 420.7L362.8 420.1L363.1 419.6L363.3 419.4L363.6 419.3L363.8 419.5L364.1 420.1L364.3 420.9L364.6 422.0L364.8 423.2L365.1 424.6L365.3 426.1L365.6 427.8L365.8 429.4L366.1 431.1L366.3 432.8L366.6 434.3L366.8 435.8L367.1 437.3L367.3 438.8L367.6 440.6L367.8 442.4L368.1 444.4L368.3 446.4L368.6 448.5L368.8 450.5L369.1 452.5L369.3 454.4L369.6 456.2L369.8 457.9L370.1 459.4L370.3 460.7L370.6 461.8L370.8 462.6L371.1 463.1L371.3 463.3L371.6 463.1L371.8 462.4L372.1 461.2L372.3 459.8L372.6 458.0L372.8 456.0L373.1 453.8L373.3 451.5L373.6 449.0L373.8 446.5L374.1 444.1L374.3 441.6L374.6 439.3L374.8 437.2L375.1 435.2L375.3 432.9L375.6 430.4L375.8 427.8L376.1 425.1L376.3 422.4L376.6 419.7L376.8 417.2L377.1 415.0L377.3 413.0L377.6 411.4L377.8 410.3L378.1 409.6L378.3 409.5L378.6 410.0L378.8 411.0L379.1 412.4L379.3 414.1L379.6 416.2L379.8 418.5L380.1 421.0L380.3 423.7L380.6 426.4L380.8 429.1L381.1 431.8L381.3 434.4L381.6 436.9L381.8 439.7L382.1 442.9L382.3 446.4L382.6 450.2L382.8 454.0L383.1 457.8L383.3 461.5L383.6 464.8L383.8 467.8L384.1 470.2L384.3 471.9L384.6 472.9L384.8 473.0L385.1 472.4L385.3 471.2L385.6 469.4L385.8 467.2L386.1 464.7L386.3 461.9L386.6 459.0L386.8 456.0L387.1 453.0L387.3 450.1L387.6 447.5L387.8 445.2L388.1 443.2L388.3 441.4L388.6 439.4L388.8 437.5L389.1 435.5L389.3 433.5L389.6 431.5L389.8 429.5L390.1 427.7L390.3 425.9L390.6 424.2L390.8 422.7L391.1 421.3L391.3 420.1L391.6 419.1L391.8 418.3L392.1 417.8L392.3 417.5L392.6 417.6L392.8 417.9L393.1 418.6L393.3 419.5L393.6 420.7L393.8 422.1L394.1 423.6L394.3 425.2L394.6 426.9L394.8 428.6L395.1 430.4L395.3 432.1L395.6 433.7L395.8 435.3L396.1 436.7L396.3 438.0L396.6 439.4L396.8 440.7L397.1 442.1L397.3 443.4L397.6 444.8L397.8 446.2L398.1 447.6L398.3 448.9L398.6 450.3L398.8 451.7L399.1 453.1L399.3 454.5" stroke="#b8142e" stroke-width="1" fill="none" shape-rendering="crispEdges"/>
<path d="M420.9 451.5L421.1 450.4L421.4 449.2L421.6 448.2L421.9 447.2L422.1 446.2L422.4 445.2L422.6 444.3L422.9 443.5L423.1 442.7L423.4 441.9L423.6 441.2L423.9 440.6L424.1 440.0L424.4 439.4L424.6 438.9L424.9 438.4L425.1 438.0L425.4 437.7L425.6 437.3L425.9 437.0L426.1 436.7L426.4 436.4L426.6 436.3L426.9 436.2L427.1 436.3L427.4 436.7L427.6 437.2L427.9 437.8L428.1 438.4L428.4 439.0L428.6 439.5L428.9 439.9L429.1 440.1L429.4 439.9L429.6 439.3L429.9 438.3L430.1 437.0L430.4 435.5L430.6 433.9L430.9 432.3L431.1 430.8L431.4 429.5L431.6 428.4L431.9 427.3L432.1 426.0L432.4 424.9L432.6 423.8L432.9 423.0L433.1 422.6L433.4 422.5L433.6 423.1L433.9 424.0L434.1 425.5L434.4 427.2L434.6 429.3L434.9 431.5L435.1 433.9L435.4 436.3L435.6 438.7L435.9 441.0L436.1 443.2L436.4 445.3L436.6 447.8L436.9 450.5L437.1 453.4L437.4 456.4L437.6 459.3L437.9 462.2L438.1 464.9L438.4 467.4L438.6 469.5L438.9 471.2L439.1 472.4L439.4 473.0L439.6 473.0L439.9 472.4L440.1 471.2L440.4 469.6L440.6 467.6L440.9 465.3L441.1 462.7L441.4 459.9L441.6 457.0L441.9 454.0L442.1 450.9L442.4 447.9L442.6 444.9L442.9 442.1L443.1 439.5L443.4 437.2L443.6 435.2L443.9 433.0L444.1 430.7L444.4 428.3L444.6 425.9L444.9 423.5L445.1 421.1L445.4 418.9L445.6 416.7L445.9 414.6L446.1 412.8L446.4 411.2L446.6 409.8L446.9 408.7L447.1 408.0L447.4 407.6L447.6 407.7L447.9 408.4L448.1 409.7L448.4 411.4L448.6 413.5L448.9 415.9L449.1 418.6L449.4 421.4L449.6 424.3L449.9 427.2L450.1 430.0L450.4 432.7L450.6 435.1L450.9 437.3L451.1 439.5L451.4 442.0L451.6 444.6L451.9 447.2L452.1 449.9L452.4 452.5L452.6 455.0L452.9 457.3L453.1 459.5L453.4 461.4L453.6 462.9L453.9 464.1L454.1 464.8L454.4 465.1L454.6 464.8L454.9 463.8L455.1 462.3L455.4 460.4L455.6 458.2L455.9 455.6L456.1 453.0L456.4 450.2L456.6 447.4L456.9 444.7L457.1 442.3L457.4 440.1L457.6 438.2L457.9 436.8L458.1 435.9L458.4 435.0L458.6 434.1L458.9 433.2L459.1 432.4L459.4 431.7L459.6 430.9L459.9 430.3L460.1 429.7L460.4 429.1L460.6 428.7L460.9 428.3L461.1 428.0L461.4 427.7L461.6 427.6L461.9 427.6L462.1 427.5L462.4 427.5L462.6 427.5L462.9 427.4L463.1 427.4L463.4 427.4L463.6 427.4L463.9 427.3L464.1 427.1L464.4 426.7L464.6 426.1L464.9 425.6L465.1 425.0L465.4 424.6L465.6 424.4L465.9 424.5L466.1 425.0L466.4 425.8L466.6 426.9L466.9 428.2L467.1 429.6L467.4 431.2L467.6 432.8L467.9 434.5L468.1 436.1L468.4 437.8L468.6 440.0L468.9 442.5L469.1 445.3L469.4 448.3L469.6 451.4L469.9 454.5L470.1 457.5L470.4 460.3L470.6 462.9L470.9 465.0L471.1 466.7L471.4 467.9L471.6 468.4L471.9 468.1L472.1 467.1L472.4 465.5L472.6 463.4L472.9 460.9L473.1 458.2L473.4 455.3L473.6 452.4L473.9 449.6L474.1 447.1L474.4 445.0L474.6 443.3L474.9 441.8L475.1 440.3L475.4 438.8L475.6 437.4L475.9 436.1L476.1 434.9L476.4 433.9L476.6 433.0L476.9 432.4L477.1 431.9L477.4 431.6L477.6 431.3L477.9 431.0L478.1 430.8L478.4 430.6L478.6 430.4L478.9 430.3L479.1 430.2L479.4 430.2L479.6 430.2L479.9 430.3L480.1 430.4L480.4 430.5L480.6 430.6L480.9 430.8L481.1 430.9L481.4 431.1L481.6 431.3L481.9 431.5L482.1 431.7L482.4 431.9L482.6 432.1L482.9 432.4L483.1 432.6L483.4 432.8L483.6 433.0L483.9 433.2L484.1 433.5L484.4 433.7L484.6 434.0L484.9 434.3L485.1 434.6L485.4 434.9L485.6 435.2L485.9 435.6L486.1 435.9L486.4 436.3L486.6 436.7L486.9 437.1L487.1 437.6L487.4 438.1L487.6 438.7L487.9 439.3L488.1 440.0L488.4 440.7L488.6 441.4L488.9 442.2L489.1 442.9L489.4 443.7L489.6 444.4L489.9 445.1L490.1 445.8L490.4 446.7L490.6 447.5L490.9 448.5L491.1 449.4L491.4 450.3L491.6 451.3L491.9 452.1L492.1 452.9L492.4 453.7L492.6 454.3L492.9 454.8L493.1 455.1L493.4 455.3L493.6 455.2L493.9 454.7L494.1 453.9L494.4 452.7L494.6 451.2L494.9 449.5L495.1 447.7L495.4 445.9L495.6 444.0L495.9 441.8L496.1 438.7L496.4 435.1L496.6 431.3L496.9 427.7L497.1 424.6L497.4 422.4L497.6 421.1L497.9 420.0L498.1 419.1L498.4 418.2L498.6 417.5L498.9 417.0L499.1 416.7L499.4 416.7L499.6 417.2L499.9 418.0L500.1 419.2L500.4 420.8L500.6 422.6L500.9 424.6L501.1 426.8L501.4 429.1L501.6 431.4L501.9 433.7L502.1 436.0L502.4 438.4L502.6 441.5L502.9 445.1L503.1 449.1L503.4 453.2L503.6 457.4L503.9 461.3L504.1 464.9L504.4 467.9L504.6 470.2L504.9 471.6L505.1 472.0L505.4 471.4L505.6 470.2L505.9 468.3L506.1 465.9L506.4 463.2L506.6 460.1L506.9 456.9L507.1 453.7L507.4 450.5L507.6 447.4L507.9 444.6L508.1 442.1L508.4 439.5L508.6 436.9L508.9 434.3L509.1 431.7L509.4 429.1L509.6 426.7L509.9 424.4L510.1 422.2L510.4 420.1L510.6 417.8L510.9 415.6L511.1 413.4L511.4 411.6L511.6 410.3L511.9 409.6L512.1 409.6L512.4 410.2L512.6 411.1L512.9 412.4L513.1 413.9L513.4 415.5L513.6 417.1L513.9 418.7L514.1 420.1L514.4 421.4L514.6 422.5L514.9 423.6L515.1 424.8L515.4 426.1L515.6 427.7L515.9 429.6L516.1 431.9L516.4 434.7L516.6 437.7L516.9 440.8L517.1 443.9L517.4 446.9L517.6 449.6L517.9 452.4L518.1 455.1L518.4 457.8L518.6 460.5L518.9 463.2L519.1 465.9L519.3 467.5" stroke="#000" stroke-width="1" fill="none" shape-rendering="crispEdges"/>
<path d="M421.3 430.5L421.6 432.4L421.8 434.1L422.1 435.9L422.3 437.5L422.6 439.0L422.8 440.4L423.1 441.7L423.3 442.8L423.6 443.8L423.8 444.7L424.1 445.7L424.3 446.6L424.6 447.4L424.8 448.2L425.1 448.9L425.3 449.5L425.6 449.9L425.8 450.1L426.1 450.2L426.3 449.9L426.6 449.2L426.8 448.2L427.1 447.0L427.3 445.6L427.6 444.0L427.8 442.4L428.1 440.9L428.3 439.3L428.6 438.0L428.8 436.8L429.1 435.8L429.3 434.8L429.6 433.8L429.8 432.7L430.1 431.7L430.3 430.7L430.6 429.7L430.8 428.9L431.1 428.1L431.3 427.4L431.6 426.8L431.8 426.5L432.1 426.2L432.3 426.2L432.6 426.4L432.8 426.8L433.1 427.3L433.3 428.0L433.6 428.7L433.8 429.6L434.1 430.6L434.3 431.6L434.6 432.6L434.8 433.6L435.1 434.7L435.3 435.6L435.6 436.6L435.8 437.6L436.1 438.8L436.3 440.0L436.6 441.4L436.8 442.8L437.1 444.3L437.3 445.9L437.6 447.4L437.8 448.9L438.1 450.4L438.3 451.9L438.6 453.3L438.8 454.5L439.1 455.7L439.3 456.8L439.6 457.7L439.8 458.4L440.1 458.9L440.3 459.2L440.6 459.3L440.8 459.0L441.1 458.2L441.3 457.1L441.6 455.7L441.8 454.0L442.1 452.2L442.3 450.2L442.6 448.1L442.8 446.0L443.1 443.9L443.3 441.9L443.6 440.1L443.8 438.5L444.1 437.1L444.3 436.0L444.6 434.9L444.8 433.8L445.1 432.7L445.3 431.7L445.6 430.6L445.8 429.6L446.1 428.7L446.3 427.8L446.6 427.1L446.8 426.4L447.1 425.9L447.3 425.4L447.6 425.2L447.8 425.1L448.1 425.2L448.3 425.3L448.6 425.6L448.8 426.0L449.1 426.4L449.3 426.9L449.6 427.5L449.8 428.2L450.1 428.8L450.3 429.6L450.6 430.3L450.8 431.0L451.1 431.8L451.3 432.5L451.6 433.2L451.8 433.9L452.1 434.5L452.3 435.1L452.6 435.8L452.8 436.5L453.1 437.2L453.3 438.0L453.6 438.8L453.8 439.6L454.1 440.5L454.3 441.3L454.6 442.1L454.8 442.9L455.1 443.7L455.3 444.4L455.6 445.1L455.8 445.7L456.1 446.2L456.3 446.7L456.6 447.1L456.8 447.4L457.1 447.5L457.3 447.6L457.6 447.5L457.8 447.3L458.1 446.9L458.3 446.4L458.6 445.7L458.8 445.0L459.1 444.2L459.3 443.3L459.6 442.4L459.8 441.4L460.1 440.4L460.3 439.4L460.6 438.5L460.8 437.5L461.1 436.6L461.3 435.8L461.6 435.0L461.8 434.3L462.1 433.5L462.3 432.7L462.6 431.8L462.8 430.9L463.1 430.1L463.3 429.3L463.6 428.6L463.8 428.1L464.1 427.6L464.3 427.4L464.6 427.3L464.8 427.3L465.1 427.4L465.3 427.4L465.6 427.5L465.8 427.6L466.1 427.7L466.3 427.8L466.6 427.9L466.8 428.1L467.1 428.4L467.3 428.9L467.6 429.6L467.8 430.4L468.1 431.4L468.3 432.5L468.6 433.7L468.8 435.0L469.1 436.3L469.3 437.7L469.6 439.0L469.8 440.4L470.1 441.8L470.3 443.1L470.6 444.4L470.8 446.1L471.1 448.0L471.3 450.0L471.6 452.1L471.8 454.1L472.1 456.0L472.3 457.7L472.6 459.0L472.8 460.0L473.1 460.4L473.3 460.3L473.6 460.1L473.8 459.7L474.1 459.1L474.3 458.4L474.6 457.5L474.8 456.6L475.1 455.5L475.3 454.4L475.6 453.2L475.8 452.0L476.1 450.7L476.3 449.4L476.6 448.2L476.8 446.9L477.1 445.7L477.3 444.5L477.6 443.4L477.8 442.2L478.1 441.0L478.3 439.7L478.6 438.4L478.8 437.0L479.1 435.6L479.3 434.2L479.6 432.9L479.8 431.6L480.1 430.4L480.3 429.2L480.6 428.2L480.8 427.2L481.1 426.3L481.3 425.2L481.6 424.2L481.8 423.3L482.1 422.3L482.3 421.5L482.6 420.7L482.8 420.1L483.1 419.6L483.3 419.4L483.6 419.3L483.8 419.5L484.1 420.1L484.3 420.9L484.6 422.0L484.8 423.2L485.1 424.6L485.3 426.1L485.6 427.8L485.8 429.4L486.1 431.1L486.3 432.8L486.6 434.3L486.8 435.8L487.1 437.3L487.3 438.8L487.6 440.6L487.8 442.4L488.1 444.4L488.3 446.4L488.6 448.5L488.8 450.5L489.1 452.5L489.3 454.4L489.6 456.2L489.8 457.9L490.1 459.4L490.3 460.7L490.6 461.8L490.8 462.6L491.1 463.1L491.3 463.3L491.6 463.1L491.8 462.4L492.1 461.2L492.3 459.8L492.6 458.0L492.8 456.0L493.1 453.8L493.3 451.5L493.6 449.0L493.8 446.5L494.1 444.1L494.3 441.6L494.6 439.3L494.8 437.2L495.1 435.2L495.3 432.9L495.6 430.4L495.8 427.8L496.1 425.1L496.3 422.4L496.6 419.7L496.8 417.2L497.1 415.0L497.3 413.0L497.6 411.4L497.8 410.3L498.1 409.6L498.3 409.5L498.6 410.0L498.8 411.0L499.1 412.4L499.3 414.1L499.6 416.2L499.8 418.5L500.1 421.0L500.3 423.7L500.6 426.4L500.8 429.1L501.1 431.8L501.3 434.4L501.6 436.9L501.8 439.7L502.1 442.9L502.3 446.4L502.6 450.2L502.8 454.0L503.1 457.8L503.3 461.5L503.6 464.8L503.8 467.8L504.1 470.2L504.3 471.9L504.6 472.9L504.8 473.0L505.1 472.4L505.3 471.2L505.6 469.4L505.8 467.2L506.1 464.7L506.3 461.9L506.6 459.0L506.8 456.0L507.1 453.0L507.3 450.1L507.6 447.5L507.8 445.2L508.1 443.2L508.3 441.4L508.6 439.4L508.8 437.5L509.1 435.5L509.3 433.5L509.6 431.5L509.8 429.5L510.1 427.7L510.3 425.9L510.6 424.2L510.8 422.7L511.1 421.3L511.3 420.1L511.6 419.1L511.8 418.3L512.0 417.8L512.3 417.5L512.5 417.6L512.8 417.9L513.0 418.6L513.3 419.5L513.5 420.7L513.8 422.1L514.0 423.6L514.3 425.2L514.5 426.9L514.8 428.6L515.0 430.4L515.3 432.1L515.5 433.7L515.8 435.3L516.0 436.7L516.3 438.0L516.5 439.4L516.8 440.7L517.0 442.1L517.3 443.4L517.5 444.8L517.8 446.2L518.0 447.6L518.3 448.9L518.5 450.3L518.8 451.7L519.0 453.1L519.3 454.5" stroke="#b8142e" stroke-width="1" fill="none" shape-rendering="crispEdges"/>
<path d="M365.1 570.8L364.0 571.8L362.9 572.7L361.8 573.7L360.7 574.6L359.7 575.5L358.7 576.4L357.6 577.3L356.6 578.2L355.7 579.1L354.7 580.0L353.8 580.9L352.9 581.7L352.1 582.7L351.2 583.7L350.4 584.7L349.6 585.7L348.9 586.7L348.2 587.8L347.5 588.9L346.8 589.9L346.3 591.0L345.7 592.0L345.1 593.0L344.6 594.0L344.0 594.9L343.5 595.8L342.9 596.7L342.4 597.4L341.8 598.2L341.3 598.8L340.8 599.4L340.3 599.9L339.8 600.2L339.3 600.5L338.9 600.7L338.4 600.7L338.0 600.8L337.7 600.6L337.3 600.4L337.0 600.2L336.7 599.9L336.5 599.5L336.3 599.0L336.1 598.6L336.0 598.0L336.0 597.4L335.9 596.8L336.0 596.1L336.2 595.4L336.4 594.7L336.8 593.9L337.2 593.1L337.6 592.3L338.2 591.5L338.8 590.6L339.5 589.8L340.3 588.9L341.1 588.1L341.9 587.2L342.7 586.4L343.6 585.5L344.6 584.7L345.5 583.9L346.4 583.1L347.4 582.3L348.3 581.6L349.2 580.9L350.2 580.2L351.1 579.6L352.0 579.0L352.8 578.5L353.6 577.9L354.3 577.5L355.0 577.2L355.7 576.8L356.3 576.6L356.9 576.3L357.5 576.1L358.1 575.9L358.7 575.7L359.3 575.5L359.9 575.3L360.5 575.1L361.1 574.9L361.7 574.8L362.3 574.6L363.0 574.5L363.6 574.4L364.2 574.3L364.8 574.3L365.3 574.2L365.9 574.2L366.4 574.3L367.0 574.3L367.5 574.5L367.9 574.7L368.4 574.9L368.8 575.2L369.3 575.5L369.7 575.8L370.0 576.2L370.3 576.5L370.6 576.9L370.8 577.3L371.0 577.6L371.2 578.0L371.3 578.3L371.4 578.7L371.4 579.0L371.4 579.2L371.3 579.5L371.2 579.7L371.0 579.8L370.8 579.9L370.6 579.9L370.3 579.8L370.0 579.7L369.6 579.3L369.2 579.0L368.8 578.5L368.4 577.9L367.9 577.3L367.4 576.5L366.9 575.7L366.4 574.9L365.8 574.0L365.2 573.1L364.7 572.2L364.1 571.2L363.5 570.3L362.9 569.4L362.3 568.4L361.6 567.5L361.0 566.7L360.4 565.8L359.8 565.1L359.2 564.3L358.6 563.7L358.0 563.0L357.4 562.4L356.9 561.7L356.3 561.0L355.7 560.2L355.1 559.5L354.5 558.8L353.9 558.1L353.2 557.4L352.5 556.8L351.7 556.2L351.0 555.7L350.1 555.2L349.3 554.7L348.5 554.4L347.7 554.2L346.8 554.0L345.9 554.0L345.0 554.0L344.1 554.3L343.2 554.6L342.3 555.0L341.4 555.6L340.5 556.2L339.6 557.0L338.7 557.9L337.8 558.8L336.9 559.9L336.0 560.9L335.1 562.1L334.3 563.3L333.4 564.6L332.6 565.9L331.8 567.2L331.0 568.7L330.2 570.1L329.5 571.5L328.8 572.9L328.1 574.3L327.4 575.8L326.8 577.2L326.2 578.6L325.6 580.0L325.1 581.3L324.6 582.6L324.2 583.9L323.8 585.2L323.5 586.4L323.2 587.7L322.9 589.1L322.7 590.6L322.5 592.1L322.5 593.7L322.5 595.3L322.5 597.1L322.7 598.8L322.9 600.5L323.4 602.3L323.8 604.0L324.4 605.8L325.0 607.5L325.7 609.3L326.5 611.0L327.3 612.7L328.2 614.3L329.2 615.9L330.2 617.5L331.3 618.9L332.4 620.4L333.6 621.6L334.7 622.9L335.9 624.0L337.1 625.0L338.4 626.0L339.6 626.8L340.9 627.5L342.1 628.0L343.3 628.4L344.6 628.7L345.8 628.7L346.9 628.7L348.1 628.5L349.2 628.1L350.3 627.7L351.3 627.0L352.3 626.4L353.3 625.5L354.1 624.6L354.9 623.7L355.6 622.5L356.3 621.3L356.9 620.0L357.6 618.7L358.2 617.3L358.8 615.8L359.5 614.2L360.1 612.6L360.8 611.0L361.4 609.3L362.0 607.6L362.7 605.8L363.3 604.1L363.9 602.3L364.5 600.5L365.2 598.7L365.7 596.8L366.3 595.0L366.9 593.2L367.4 591.4L368.0 589.7L368.5 588.0L369.0 586.3L369.5 584.6L369.9 583.0L370.3 581.4L370.7 579.9L371.1 578.5L371.4 577.1L371.8 575.7L372.1 574.5L372.3 573.3L372.5 572.0L372.7 570.7L372.8 569.4L372.9 568.1L373.0 566.7L373.0 565.3L373.0 563.9L373.0 562.5L372.9 561.1L372.8 559.7L372.7 558.3L372.5 556.8L372.4 555.4L372.2 554.0L372.0 552.6L371.7 551.2L371.5 549.9L371.2 548.5L370.9 547.2L370.6 545.9L370.3 544.7L370.0 543.5L369.6 542.3L369.3 541.2L368.9 540.1L368.5 539.1L368.1 538.1L367.7 537.1L367.3 536.3L366.9 535.5L366.4 534.8L366.0 534.2L365.6 533.5L365.1 533.1L364.7 532.7L364.3 532.3L363.8 532.1L363.4 531.9L363.0 532.0L362.5 532.0L362.1 532.2L361.7 532.6L361.2 533.1L360.8 533.8L360.4 534.5L360.0 535.4L359.6 536.4L359.3 537.4L358.9 538.7L358.5 539.9L358.2 541.3L357.8 542.7L357.4 544.1L357.0 545.7L356.6 547.3L356.2 548.9L355.8 550.6L355.3 552.2L354.9 554.0L354.4 555.7L353.9 557.4L353.5 559.1L353.0 560.8L352.5 562.5L352.0 564.2L351.5 565.8L351.0 567.4L350.5 568.9L350.1 570.4L349.6 571.8L349.1 573.2L348.6 574.5L348.1 575.7L347.6 577.1L347.2 578.4L346.7 579.9L346.2 581.3L345.8 582.8L345.3 584.3L344.9 585.8L344.5 587.4L344.1 588.9L343.7 590.5L343.3 592.1L342.9 593.6L342.6 595.2L342.3 596.7L341.9 598.3L341.6 599.8L341.4 601.3L341.1 602.7L340.9 604.1L340.6 605.5L340.4 606.7L340.3 608.0L340.1 609.2L340.0 610.3L339.9 611.4L339.8 612.3L339.8 613.3L339.7 614.1L339.8 614.8L339.8 615.5L339.9 615.9L340.1 616.3L340.2 616.6L340.5 616.8L340.7 617.0L341.0 616.8L341.3 616.6L341.6 616.2L342.0 615.6L342.3 615.1L342.7 614.2L343.2 613.3L343.6 612.3L344.1 611.2L344.6 610.0L345.1 608.7L345.6 607.4L346.1 605.9L346.7 604.5L347.2 603.0L347.8 601.4L348.4 599.8L348.9 598.2L349.5 596.5L350.1 594.9L350.7 593.2L351.3 591.6L351.8 590.0L352.4 588.4L353.0 586.8L353.5 585.4L354.1 583.9L354.7 582.5L355.2 581.2L355.7 579.9L356.2 578.8L356.7 577.7L357.2 576.7L357.7 575.9L358.1 575.1L358.5 574.5L359.0 574.0L359.4 573.4L359.9 572.9L360.3 572.3L360.8 571.8L361.3 571.3L361.8 570.8L362.4 570.3L362.9 569.8L363.4 569.3L363.9 568.8L364.4 568.4L364.9 567.9L365.4 567.5L365.9 567.0L366.3 566.6L366.8 566.2L367.2 565.8L367.6 565.4L368.0 565.1L368.3 564.7L368.7 564.4L368.9 564.1L369.2 563.7L369.4 563.5L369.5 563.2L369.7 562.9L369.7 562.7L369.8 562.5L369.8 562.3L369.8 562.1L369.8 561.9L369.7 561.8L369.7 561.7L369.7 561.6L369.7 561.5L369.6 561.5L369.6 561.4L369.5 561.4L369.5 561.4L369.4 561.3L369.4 561.3L369.3 561.3L369.3 561.3L369.2 561.3L369.1 561.3L369.1 561.3L369.0 561.2L368.9 561.2L368.8 561.2L368.7 561.2L368.6 561.2L368.5 561.2L368.3 561.2L368.0 561.1L367.7 561.1L367.4 561.1L367.0 561.0L366.6 561.0L366.1 560.9L365.6 560.8L365.1 560.6L364.5 560.3L364.0 560.1L363.4 559.8L362.7 559.5L362.1 559.1L361.4 558.8L360.7 558.4L359.9 558.1L359.2 557.8L358.4 557.5L357.7 557.3L356.9 557.0L356.1 556.9L355.3 556.8L354.5 556.8L353.7 556.8L352.8 556.9L352.0 557.2L351.2 557.5L350.4 557.9L349.6 558.3L348.8 558.8L348.0 559.5L347.2 560.1L346.4 560.8L345.6 561.6L344.8 562.3L344.0 563.2L343.0 564.0L342.0 564.9L340.9 565.9L339.8 566.8L338.6 567.8L337.4 568.7L336.2 569.7L335.0 570.7L333.7 571.6L332.5 572.6L331.3 573.5L330.1 574.5L329.0 575.5L327.8 576.6L326.8 577.8L325.8 579.1L324.8 580.5L324.0 582.0L323.2 583.5L322.5 585.2L322.0 586.8L321.4 588.6L321.2 590.3L320.9 592.1L320.8 593.9L320.9 595.8L320.9 597.6L321.0 599.4L321.2 601.3L321.4 603.0L321.6 604.8L321.9 606.5L322.2 608.2L322.6 609.9L323.0 611.4L323.4 612.9L323.8 614.3L324.3 615.6L324.8 616.8L325.3 617.9L325.9 618.9L326.5 619.7L327.1 620.4L327.7 621.1L328.3 621.4L329.0 621.7L329.7 621.7L330.4 621.6L331.1 621.5L331.8 620.9L332.5 620.3L333.3 619.5L334.0 618.5L334.8 617.6L335.5 616.3L336.3 615.1L337.0 613.7L337.8 612.2L338.5 610.8L339.3 609.1L340.0 607.5L340.8 605.8L341.5 604.1L342.2 602.4L342.9 600.7L343.6 599.0L344.3 597.4L345.0 595.7L345.7 594.1L346.3 592.6L347.0 591.1L347.7 589.7L348.4 588.4L349.2 587.2L349.9 586.2L350.7 585.2L351.4 584.2L352.2 583.4L353.0 582.5L353.8 581.6L354.6 580.7L355.5 579.8L356.3 578.9L357.1 578.1L357.9 577.2L358.7 576.4L359.5 575.6L360.3 574.8L361.1 574.0L361.9 573.3L362.6 572.6L363.4 572.0L364.1 571.4L364.9 570.7L365.6 570.2L366.3 569.7L366.9 569.3L367.6 568.9L368.2 568.5L368.8 568.2L369.3 568.0L369.9 567.8L370.5 567.6L371.1 567.4L371.6 567.2L372.2 567.0L372.8 566.8L373.4 566.7L374.0 566.5L374.6 566.4L375.2 566.2L375.8 566.1L376.3 566.0L376.9 565.8L377.4 565.7L377.9 565.6L378.4 565.6L378.8 565.5L379.3 565.4L379.7 565.4L380.1 565.3L380.4 565.3L380.7 565.3L381.0 565.3L381.2 565.3L381.4 565.3L381.5 565.4L381.6 565.4L381.6 565.4L381.5 565.5L381.4 565.5L381.3 565.6L380.9 565.7L380.6 565.7L380.2 565.8L379.7 565.9L379.3 566.0L378.6 566.0L378.0 566.1L377.3 566.2L376.6 566.3L375.9 566.4L375.0 566.5L374.2 566.6L373.3 566.8L372.4 566.9L371.5 567.0L370.5 567.1L369.6 567.2L368.6 567.4L367.6 567.5L366.6 567.6L365.7 567.7L364.7 567.9L363.7 568.0L362.7 568.1L361.7 568.2L360.8 568.4L359.8 568.5L358.9 568.6L358.0 568.8L357.2 568.9L356.3 569.0L355.5 569.1L354.6 569.3L353.6 569.4L352.7 569.5L351.7 569.7L350.6 569.8L349.6 569.9L348.5 570.1L347.4 570.2L346.2 570.4L345.1 570.5L343.9 570.7L342.7 570.8L341.5 571.0L340.3 571.2L339.1 571.3L337.9 571.5L336.7 571.7L335.5 571.9L334.3 572.1L333.1 572.2L332.0 572.4L330.8 572.6L329.7 572.8L328.6 573.0L327.5 573.2L326.5 573.4L325.5 573.7L324.5 573.9L323.6 574.1L322.7 574.3L321.9 574.6L321.1 574.8L320.3 575.0L319.7 575.3L319.0 575.5L318.5 575.8L318.0 576.1L317.5 576.4L317.2 576.7L316.9 577.0L316.7 577.3L316.6 577.7L316.5 578.0L316.7 578.4L316.8 578.8L317.1 579.2L317.5 579.6L317.9 580.0L318.6 580.4L319.2 580.9L320.0 581.3L320.8 581.7L321.7 582.2L322.7 582.6L323.8 583.0L324.9 583.5L326.1 583.9L327.3 584.4L328.6 584.8L329.9 585.2L331.2 585.7L332.6 586.1L334.0 586.5L335.5 586.9L336.9 587.4L338.4 587.8L339.8 588.2L341.3 588.7L342.8 589.2L344.2 589.7L345.7 590.2L347.1 590.7L348.6 591.2L349.9 591.8L351.3 592.3L352.6 592.9L353.9 593.4L355.1 594.0L356.3 594.6L357.5 595.1L358.8 595.7L360.2 596.2L361.5 596.7L363.0 597.2L364.4 597.8L366.0 598.2L367.5 598.7L369.1 599.2L370.7 599.6L372.3 600.0L373.9 600.4L375.5 600.8L377.1 601.1L378.7 601.4L380.2 601.7L381.7 601.9L383.2 602.1L384.7 602.2L386.0 602.3L387.3 602.4L388.6 602.4L389.8 602.3L390.9 602.2L391.9 601.9L392.8 601.6L393.6 601.1L394.3 600.6L395.0 600.0L395.4 599.2L395.8 598.5L396.0 597.7L396.0 596.8L396.1 595.9L395.8 594.9L395.5 593.9L395.1 592.9L394.5 591.8L393.9 590.7L393.1 589.6L392.3 588.5L391.3 587.4L390.3 586.3L389.3 585.0L388.0 583.7L386.8 582.4L385.5 580.6L384.1 578.8L382.8 576.8L381.3 574.7L379.8 572.5L378.3 570.3L376.7 568.0L375.1 565.9L373.5 563.7L371.9 561.6L370.3 559.7L368.7 557.9L367.1 556.3L365.5 555.0L363.9 553.7L362.3 553.0L360.8 552.2L359.2 551.5L357.8 550.9L356.3 550.3L354.8 549.7L353.1 549.1L351.5 548.6L349.6 548.1L347.7 547.6L345.7 547.2L343.6 546.8L341.5 546.4L339.3 546.1L337.0 545.8L334.8 545.6L332.5 545.5L330.2 545.4L328.0 545.4L325.7 545.4L323.5 545.6L321.4 545.9L319.2 546.3L317.2 546.8L315.3 547.3L313.4 548.0L311.7 548.7L309.9 549.5L308.5 550.5L307.0 551.4L305.8 552.4L304.8 553.5L303.7 554.6L303.1 555.8L302.5 557.0L302.2 558.3L302.2 559.6L302.1 560.9L302.5 562.3L302.8 563.6L303.4 565.0L304.1 566.4L304.9 567.7L305.9 569.1L306.9 570.5L308.1 571.8L309.4 573.2L310.7 574.6L312.2 576.0L313.7 577.4L315.3 579.3L316.9 581.1L318.6 583.1L320.3 585.3L322.1 587.4L323.8 589.8L325.6 592.1L327.4 594.5L329.1 597.0L330.9 599.4L332.6 601.9L334.3 604.3L336.0 606.7L337.5 609.0L339.1 611.3L340.6 613.5L341.9 615.6L343.3 617.5L344.5 619.3L345.6 621.1L346.8 622.5L347.9 623.8L349.0 624.9L350.1 625.8L351.2 626.6L352.4 626.8L353.6 627.0L354.7 627.0L355.9 626.6L357.1 626.3L358.3 625.6L359.5 624.8L360.7 623.9L361.8 622.8L363.0 621.7L364.2 620.3L365.3 618.9L366.5 617.3L367.6 615.7L368.7 614.1L369.8 612.3L370.8 610.5L371.9 608.7L372.9 606.8L373.9 604.9L374.8 602.9L375.7 601.0L376.6 599.1L377.4 597.2L378.3 595.3L379.0 593.5L379.7 591.7L380.5 589.9L381.0 588.3L381.6 586.6L382.2 585.2L382.6 583.7L383.1 582.2L383.4 580.6L383.7 579.1L383.9 577.6L384.1 576.0L384.3 574.5L384.2 572.9L384.2 571.4L384.1 569.8L383.9 568.3L383.6 566.7L383.2 565.2L382.8 563.7L382.4 562.3L381.8 560.8L381.3 559.4L380.6 558.0L379.9 556.7L379.1 555.4L378.3 554.1L377.5 552.9L376.6 551.6L375.7 550.4L374.8 549.0L373.9 547.7L372.9 546.3L371.9 545.0L370.9 543.6L369.9 542.4L368.8 541.1L367.8 540.0L366.8 538.9L365.7 537.8L364.7 537.0L363.7 536.2L362.7 535.6L361.7 535.2L360.7 534.8L359.8 534.8L358.9 534.8L358.0 534.9L357.2 535.2L356.3 535.5L355.5 536.1L354.7 536.6L353.9 537.2L353.1 537.9L352.3 538.6L351.5 539.4L350.7 540.3L349.9 541.1L349.1 542.1L348.3 543.0L347.5 544.0L346.7 545.0L345.9 546.0L345.1 547.0L344.3 548.0L343.5 548.9L342.7 549.9L341.8 550.8L341.0 551.8L340.2 552.7L339.4 553.7L338.6 554.8L337.8 555.8L336.9 556.9L336.1 558.0L335.3 559.2L334.5 560.4L333.7 561.6L332.8 562.9L332.0 564.1L331.2 565.4L330.4 566.7" stroke="#000" stroke-width="1" fill="none" shape-rendering="crispEdges"/>
<path d="M485.1 594.1L484.0 593.5L482.9 592.9L481.8 592.2L480.7 591.6L479.7 591.0L478.7 590.4L477.6 589.8L476.6 589.2L475.7 588.7L474.7 588.1L473.8 587.6L472.9 587.0L472.1 586.5L471.2 586.0L470.4 585.5L469.6 585.0L468.9 584.5L468.2 584.0L467.5 583.6L466.8 583.1L466.3 582.7L465.7 582.3L465.1 581.8L464.6 581.4L464.0 581.0L463.5 580.7L462.9 580.3L462.4 579.9L461.8 579.6L461.3 579.3L460.8 578.9L460.3 578.6L459.8 578.3L459.3 578.0L458.9 577.8L458.4 577.5L458.0 577.2L457.7 577.0L457.3 576.8L457.0 576.6L456.7 576.3L456.5 576.1L456.3 575.9L456.1 575.7L456.0 575.5L456.0 575.3L455.9 575.1L456.0 575.0L456.2 574.8L456.4 574.7L456.8 574.5L457.2 574.4L457.6 574.3L458.2 574.3L458.8 574.2L459.5 574.2L460.3 574.3L461.1 574.3L461.9 574.5L462.7 574.7L463.6 574.9L464.6 575.2L465.5 575.5L466.4 575.8L467.4 576.2L468.3 576.5L469.2 576.9L470.2 577.3L471.1 577.6L472.0 578.0L472.8 578.3L473.6 578.7L474.3 579.0L475.0 579.2L475.7 579.5L476.3 579.7L476.9 579.8L477.5 579.9L478.1 579.9L478.7 579.8L479.3 579.7L479.9 579.3L480.5 579.0L481.1 578.5L481.7 577.9L482.3 577.3L483.0 576.5L483.6 575.7L484.2 574.9L484.8 574.0L485.3 573.1L485.9 572.2L486.4 571.2L487.0 570.3L487.5 569.4L487.9 568.4L488.4 567.5L488.8 566.7L489.3 565.8L489.7 565.1L490.0 564.3L490.3 563.7L490.6 563.0L490.8 562.4L491.0 561.7L491.2 561.0L491.3 560.2L491.4 559.5L491.4 558.8L491.4 558.1L491.3 557.4L491.2 556.8L491.0 556.2L490.8 555.7L490.6 555.2L490.3 554.7L490.0 554.4L489.6 554.2L489.2 554.0L488.8 554.0L488.4 554.0L487.9 554.3L487.4 554.6L486.9 555.0L486.4 555.6L485.8 556.2L485.2 557.0L484.7 557.9L484.1 558.8L483.5 559.9L482.9 560.9L482.3 562.1L481.6 563.3L481.0 564.6L480.4 565.9L479.8 567.2L479.2 568.7L478.6 570.1L478.0 571.5L477.4 572.9L476.9 574.3L476.3 575.8L475.7 577.2L475.1 578.6L474.5 580.0L473.9 581.3L473.2 582.6L472.5 583.9L471.7 585.2L471.0 586.4L470.1 587.7L469.3 589.1L468.5 590.6L467.7 592.1L466.8 593.7L465.9 595.3L465.0 597.1L464.1 598.8L463.2 600.5L462.3 602.3L461.4 604.0L460.5 605.8L459.6 607.5L458.7 609.3L457.8 611.0L456.9 612.7L456.0 614.3L455.1 615.9L454.3 617.5L453.4 618.9L452.6 620.4L451.8 621.6L451.0 622.9L450.2 624.0L449.5 625.0L448.8 626.0L448.1 626.8L447.4 627.5L446.8 628.0L446.2 628.4L445.6 628.7L445.1 628.7L444.6 628.7L444.2 628.5L443.8 628.1L443.5 627.7L443.2 627.0L442.9 626.4L442.7 625.5L442.5 624.6L442.5 623.7L442.5 622.5L442.5 621.3L442.7 620.0L442.9 618.7L443.4 617.3L443.8 615.8L444.4 614.2L445.0 612.6L445.7 611.0L446.5 609.3L447.3 607.6L448.2 605.8L449.2 604.1L450.2 602.3L451.3 600.5L452.4 598.7L453.6 596.8L454.7 595.0L455.9 593.2L457.1 591.4L458.4 589.7L459.6 588.0L460.9 586.3L462.1 584.6L463.3 583.0L464.6 581.4L465.8 579.9L466.9 578.5L468.1 577.1L469.2 575.7L470.3 574.5L471.3 573.3L472.3 572.0L473.3 570.7L474.1 569.4L474.9 568.1L475.6 566.7L476.3 565.3L476.9 563.9L477.6 562.5L478.2 561.1L478.8 559.7L479.5 558.3L480.1 556.8L480.8 555.4L481.4 554.0L482.0 552.6L482.7 551.2L483.3 549.9L483.9 548.5L484.5 547.2L485.2 545.9L485.7 544.7L486.3 543.5L486.9 542.3L487.4 541.2L488.0 540.1L488.5 539.1L489.0 538.1L489.5 537.1L489.9 536.3L490.3 535.5L490.7 534.8L491.1 534.2L491.4 533.5L491.8 533.1L492.1 532.7L492.3 532.3L492.5 532.1L492.7 531.9L492.8 532.0L492.9 532.0L493.0 532.2L493.0 532.6L493.0 533.1L493.0 533.8L492.9 534.5L492.8 535.4L492.7 536.4L492.5 537.4L492.4 538.7L492.2 539.9L492.0 541.3L491.7 542.7L491.5 544.1L491.2 545.7L490.9 547.3L490.6 548.9L490.3 550.6L490.0 552.2L489.6 554.0L489.3 555.7L488.9 557.4L488.5 559.1L488.1 560.8L487.7 562.5L487.3 564.2L486.9 565.8L486.4 567.4L486.0 568.9L485.6 570.4L485.1 571.8L484.7 573.2L484.3 574.5L483.8 575.7L483.4 577.1L483.0 578.4L482.5 579.9L482.1 581.3L481.7 582.8L481.2 584.3L480.8 585.8L480.4 587.4L480.0 588.9L479.6 590.5L479.3 592.1L478.9 593.6L478.5 595.2L478.2 596.7L477.8 598.3L477.4 599.8L477.0 601.3L476.6 602.7L476.2 604.1L475.8 605.5L475.3 606.7L474.9 608.0L474.4 609.2L473.9 610.3L473.5 611.4L473.0 612.3L472.5 613.3L472.0 614.1L471.5 614.8L471.0 615.5L470.5 615.9L470.1 616.3L469.6 616.6L469.1 616.8L468.6 617.0L468.1 616.8L467.6 616.6L467.2 616.2L466.7 615.6L466.2 615.1L465.8 614.2L465.3 613.3L464.9 612.3L464.5 611.2L464.1 610.0L463.7 608.7L463.3 607.4L462.9 605.9L462.6 604.5L462.3 603.0L461.9 601.4L461.6 599.8L461.4 598.2L461.1 596.5L460.9 594.9L460.6 593.2L460.4 591.6L460.3 590.0L460.1 588.4L460.0 586.8L459.9 585.4L459.8 583.9L459.8 582.5L459.7 581.2L459.8 579.9L459.8 578.8L459.9 577.7L460.1 576.7L460.2 575.9L460.5 575.1L460.7 574.5L461.0 574.0L461.3 573.4L461.6 572.9L462.0 572.3L462.3 571.8L462.7 571.3L463.2 570.8L463.6 570.3L464.1 569.8L464.6 569.3L465.1 568.8L465.6 568.4L466.1 567.9L466.7 567.5L467.2 567.0L467.8 566.6L468.4 566.2L468.9 565.8L469.5 565.4L470.1 565.1L470.7 564.7L471.3 564.4L471.8 564.1L472.4 563.7L473.0 563.5L473.5 563.2L474.1 562.9L474.7 562.7L475.2 562.5L475.7 562.3L476.2 562.1L476.7 561.9L477.2 561.8L477.7 561.7L478.1 561.6L478.5 561.5L479.0 561.5L479.4 561.4L479.9 561.4L480.3 561.4L480.8 561.3L481.3 561.3L481.8 561.3L482.4 561.3L482.9 561.3L483.4 561.3L483.9 561.3L484.4 561.2L484.9 561.2L485.4 561.2L485.9 561.2L486.3 561.2L486.8 561.2L487.2 561.2L487.6 561.1L488.0 561.1L488.3 561.1L488.7 561.0L488.9 561.0L489.2 560.9L489.4 560.8L489.5 560.6L489.7 560.3L489.7 560.1L489.8 559.8L489.8 559.5L489.8 559.1L489.8 558.8L489.7 558.4L489.7 558.1L489.7 557.8L489.7 557.5L489.6 557.3L489.6 557.0L489.5 556.9L489.5 556.8L489.4 556.8L489.4 556.8L489.3 556.9L489.3 557.2L489.2 557.5L489.1 557.9L489.1 558.3L489.0 558.8L488.9 559.5L488.8 560.1L488.7 560.8L488.6 561.6L488.5 562.3L488.3 563.2L488.0 564.0L487.7 564.9L487.4 565.9L487.0 566.8L486.6 567.8L486.1 568.7L485.6 569.7L485.1 570.7L484.5 571.6L484.0 572.6L483.4 573.5L482.7 574.5L482.1 575.5L481.4 576.6L480.7 577.8L479.9 579.1L479.2 580.5L478.4 582.0L477.7 583.5L476.9 585.2L476.1 586.8L475.3 588.6L474.5 590.3L473.7 592.1L472.8 593.9L472.0 595.8L471.2 597.6L470.4 599.4L469.6 601.3L468.8 603.0L468.0 604.8L467.2 606.5L466.4 608.2L465.6 609.9L464.8 611.4L464.0 612.9L463.0 614.3L462.0 615.6L460.9 616.8L459.8 617.9L458.6 618.9L457.4 619.7L456.2 620.4L455.0 621.1L453.7 621.4L452.5 621.7L451.3 621.7L450.1 621.6L449.0 621.5L447.8 620.9L446.8 620.3L445.8 619.5L444.8 618.5L444.0 617.6L443.2 616.3L442.5 615.1L442.0 613.7L441.4 612.2L441.2 610.8L440.9 609.1L440.8 607.5L440.9 605.8L440.9 604.1L441.0 602.4L441.2 600.7L441.4 599.0L441.6 597.4L441.9 595.7L442.2 594.1L442.6 592.6L443.0 591.1L443.4 589.7L443.8 588.4L444.3 587.2L444.8 586.2L445.3 585.2L445.9 584.2L446.5 583.4L447.1 582.5L447.7 581.6L448.3 580.7L449.0 579.8L449.7 578.9L450.4 578.1L451.1 577.2L451.8 576.4L452.5 575.6L453.3 574.8L454.0 574.0L454.8 573.3L455.5 572.6L456.3 572.0L457.0 571.4L457.8 570.7L458.5 570.2L459.3 569.7L460.0 569.3L460.8 568.9L461.5 568.5L462.2 568.2L462.9 568.0L463.6 567.8L464.3 567.6L465.0 567.4L465.7 567.2L466.3 567.0L467.0 566.8L467.7 566.7L468.4 566.5L469.2 566.4L469.9 566.2L470.7 566.1L471.4 566.0L472.2 565.8L473.0 565.7L473.8 565.6L474.6 565.6L475.5 565.5L476.3 565.4L477.1 565.4L477.9 565.3L478.7 565.3L479.5 565.3L480.3 565.3L481.1 565.3L481.9 565.3L482.6 565.4L483.4 565.4L484.1 565.4L484.9 565.5L485.6 565.5L486.3 565.6L486.9 565.7L487.6 565.7L488.2 565.8L488.8 565.9L489.3 566.0L489.9 566.0L490.5 566.1L491.1 566.2L491.6 566.3L492.2 566.4L492.8 566.5L493.4 566.6L494.0 566.8L494.6 566.9L495.2 567.0L495.8 567.1L496.3 567.2L496.9 567.4L497.4 567.5L497.9 567.6L498.4 567.7L498.8 567.9L499.3 568.0L499.7 568.1L500.1 568.2L500.4 568.4L500.7 568.5L501.0 568.6L501.2 568.8L501.4 568.9L501.5 569.0L501.6 569.1L501.6 569.3L501.5 569.4L501.4 569.5L501.3 569.7L500.9 569.8L500.6 569.9L500.2 570.1L499.7 570.2L499.3 570.4L498.6 570.5L498.0 570.7L497.3 570.8L496.6 571.0L495.9 571.2L495.0 571.3L494.2 571.5L493.3 571.7L492.4 571.9L491.5 572.1L490.5 572.2L489.6 572.4L488.6 572.6L487.6 572.8L486.6 573.0L485.7 573.2L484.7 573.4L483.7 573.7L482.7 573.9L481.7 574.1L480.8 574.3L479.8 574.6L478.9 574.8L478.0 575.0L477.2 575.3L476.3 575.5L475.5 575.8L474.6 576.1L473.6 576.4L472.7 576.7L471.7 577.0L470.6 577.3L469.6 577.7L468.5 578.0L467.4 578.4L466.2 578.8L465.1 579.2L463.9 579.6L462.7 580.0L461.5 580.4L460.3 580.9L459.1 581.3L457.9 581.7L456.7 582.2L455.5 582.6L454.3 583.0L453.1 583.5L452.0 583.9L450.8 584.4L449.7 584.8L448.6 585.2L447.5 585.7L446.5 586.1L445.5 586.5L444.5 586.9L443.6 587.4L442.7 587.8L441.9 588.2L441.1 588.7L440.3 589.2L439.7 589.7L439.0 590.2L438.5 590.7L438.0 591.2L437.5 591.8L437.2 592.3L436.9 592.9L436.7 593.4L436.6 594.0L436.5 594.6L436.7 595.1L436.8 595.7L437.1 596.2L437.5 596.7L437.9 597.2L438.6 597.8L439.2 598.2L440.0 598.7L440.8 599.2L441.7 599.6L442.7 600.0L443.8 600.4L444.9 600.8L446.1 601.1L447.3 601.4L448.6 601.7L449.9 601.9L451.2 602.1L452.6 602.2L454.0 602.3L455.5 602.4L456.9 602.4L458.4 602.3L459.8 602.2L461.3 601.9L462.8 601.6L464.2 601.1L465.7 600.6L467.1 600.0L468.6 599.2L469.9 598.5L471.3 597.7L472.6 596.8L473.9 595.9L475.1 594.9L476.3 593.9L477.5 592.9L478.8 591.8L480.2 590.7L481.5 589.6L483.0 588.5L484.4 587.4L486.0 586.3L487.5 585.0L489.1 583.7L490.7 582.4L492.3 580.6L493.9 578.8L495.5 576.8L497.1 574.7L498.7 572.5L500.2 570.3L501.7 568.0L503.2 565.9L504.7 563.7L506.0 561.6L507.3 559.7L508.6 557.9L509.8 556.3L510.9 555.0L511.9 553.7L512.8 553.0L513.6 552.2L514.3 551.5L515.0 550.9L515.4 550.3L515.8 549.7L516.0 549.1L516.0 548.6L516.1 548.1L515.8 547.6L515.5 547.2L515.1 546.8L514.5 546.4L513.9 546.1L513.1 545.8L512.3 545.6L511.3 545.5L510.3 545.4L509.3 545.4L508.0 545.4L506.8 545.6L505.5 545.9L504.1 546.3L502.8 546.8L501.3 547.3L499.8 548.0L498.3 548.7L496.7 549.5L495.1 550.5L493.5 551.4L491.9 552.4L490.3 553.5L488.7 554.6L487.1 555.8L485.5 557.0L483.9 558.3L482.3 559.6L480.8 560.9L479.2 562.3L477.8 563.6L476.3 565.0L474.8 566.4L473.1 567.7L471.5 569.1L469.6 570.5L467.7 571.8L465.7 573.2L463.6 574.6L461.5 576.0L459.3 577.4L457.0 579.3L454.8 581.1L452.5 583.1L450.2 585.3L448.0 587.4L445.7 589.8L443.5 592.1L441.4 594.5L439.2 597.0L437.2 599.4L435.3 601.9L433.4 604.3L431.7 606.7L429.9 609.0L428.5 611.3L427.0 613.5L425.8 615.6L424.8 617.5L423.7 619.3L423.1 621.1L422.5 622.5L422.2 623.8L422.2 624.9L422.1 625.8L422.5 626.6L422.8 626.8L423.4 627.0L424.1 627.0L424.9 626.6L425.9 626.3L426.9 625.6L428.1 624.8L429.4 623.9L430.7 622.8L432.2 621.7L433.7 620.3L435.3 618.9L436.9 617.3L438.6 615.7L440.3 614.1L442.1 612.3L443.8 610.5L445.6 608.7L447.4 606.8L449.1 604.9L450.9 602.9L452.6 601.0L454.3 599.1L456.0 597.2L457.5 595.3L459.1 593.5L460.6 591.7L461.9 589.9L463.3 588.3L464.5 586.6L465.6 585.2L466.8 583.7L467.9 582.2L469.0 580.6L470.1 579.1L471.2 577.6L472.4 576.0L473.6 574.5L474.7 572.9L475.9 571.4L477.1 569.8L478.3 568.3L479.5 566.7L480.7 565.2L481.8 563.7L483.0 562.3L484.2 560.8L485.3 559.4L486.5 558.0L487.6 556.7L488.7 555.4L489.8 554.1L490.8 552.9L491.9 551.6L492.9 550.4L493.9 549.0L494.8 547.7L495.7 546.3L496.6 545.0L497.4 543.6L498.3 542.4L499.0 541.1L499.7 540.0L500.5 538.9L501.0 537.8L501.6 537.0L502.2 536.2L502.6 535.6L503.1 535.2L503.4 534.8L503.7 534.8L503.9 534.8L504.1 535.0L504.3 535.3L504.2 535.6L504.2 536.2L504.1 536.8L503.9 537.4L503.6 538.2L503.2 538.9L502.8 539.8L502.4 540.7L501.8 541.6L501.3 542.6L500.6 543.5L499.9 544.5L499.1 545.5L498.3 546.5L497.5 547.4L496.6 548.3L495.7 549.2L494.8 550.0L493.9 550.8L492.9 551.5L491.9 552.2L490.9 552.9L489.9 553.6L488.8 554.2L487.8 554.9L486.8 555.6L485.7 556.3L484.7 557.0L483.7 557.7L482.7 558.5L481.7 559.3L480.7 560.2L479.8 561.1L478.9 562.1L478.0 563.2L477.2 564.4L476.3 565.8L475.5 567.2L474.7 568.7L473.9 570.3L473.1 572.0L472.3 573.7L471.5 575.5L470.7 577.3L469.9 579.2L469.1 581.0L468.3 582.8L467.5 584.7L466.7 586.5L465.9 588.2L465.1 590.0L464.3 591.6L463.5 593.3L462.7 594.9L461.8 596.5L461.0 598.1L460.2 599.7L459.4 601.3L458.6 603.0L457.8 604.6L456.9 606.2L456.1 607.8L455.3 609.4L454.5 611.0L453.7 612.6L452.8 614.2L452.0 615.7L451.2 617.3L450.4 618.9" stroke="#000" stroke-width="1" fill="none" shape-rendering="crispEdges"/>
<path d="M300.5 386.0L300.5 390.5" stroke="#000" stroke-width="1" fill="none"/>
<path d="M300.5 490.4L300.5 493.59999999999997" stroke="#000" stroke-width="1" fill="none"/>
<path d="M320.5 386.0L320.5 390.5" stroke="#000" stroke-width="1" fill="none"/>
<path d="M320.5 490.4L320.5 493.59999999999997" stroke="#000" stroke-width="1" fill="none"/>
<path d="M340.5 386.0L340.5 390.5" stroke="#000" stroke-width="1" fill="none"/>
<path d="M340.5 490.4L340.5 493.59999999999997" stroke="#000" stroke-width="1" fill="none"/>
<path d="M360.5 382.0L360.5 390.5" stroke="#000" stroke-width="1" fill="none"/>
<path d="M360.5 490.4L360.5 497.0" stroke="#000" stroke-width="1" fill="none"/>
<path d="M380.5 386.0L380.5 390.5" stroke="#000" stroke-width="1" fill="none"/>
<path d="M380.5 490.4L380.5 493.59999999999997" stroke="#000" stroke-width="1" fill="none"/>
<path d="M292.0 440.5L300.5 440.5" stroke="#000" stroke-width="1" fill="none"/>
<path d="M400.5 440.5L407.0 440.5" stroke="#000" stroke-width="1" fill="none"/>
<text x="360.9" y="518.6" font-family='"Liberation Sans",sans-serif' font-size="19.44" font-weight="normal" text-anchor="middle" fill="#000" xml:space="preserve" style="white-space:pre" >1600</text>
<path d="M300.5 390.5H400.5M300.5 490.4H400.5M300.5 390.5V490.4M400.5 390.5V490.4" fill="none" stroke="#000" stroke-width="3"/>
<path d="M350.5 522.0L350.5 530.5" stroke="#000" stroke-width="1" fill="none"/>
<path d="M350.5 630.4L350.5 637.0" stroke="#000" stroke-width="1" fill="none"/>
<path d="M292.0 580.5L300.5 580.5" stroke="#000" stroke-width="1" fill="none"/>
<path d="M400.5 580.5L407.0 580.5" stroke="#000" stroke-width="1" fill="none"/>
<path d="M300.5 530.5H400.5M300.5 630.4H400.5M300.5 530.5V630.4M400.5 530.5V630.4" fill="none" stroke="#000" stroke-width="3"/>
<path d="M420.5 386.0L420.5 390.5" stroke="#000" stroke-width="1" fill="none"/>
<path d="M420.5 490.4L420.5 493.59999999999997" stroke="#000" stroke-width="1" fill="none"/>
<path d="M440.5 386.0L440.5 390.5" stroke="#000" stroke-width="1" fill="none"/>
<path d="M440.5 490.4L440.5 493.59999999999997" stroke="#000" stroke-width="1" fill="none"/>
<path d="M460.5 386.0L460.5 390.5" stroke="#000" stroke-width="1" fill="none"/>
<path d="M460.5 490.4L460.5 493.59999999999997" stroke="#000" stroke-width="1" fill="none"/>
<path d="M480.5 382.0L480.5 390.5" stroke="#000" stroke-width="1" fill="none"/>
<path d="M480.5 490.4L480.5 497.0" stroke="#000" stroke-width="1" fill="none"/>
<path d="M500.5 386.0L500.5 390.5" stroke="#000" stroke-width="1" fill="none"/>
<path d="M500.5 490.4L500.5 493.59999999999997" stroke="#000" stroke-width="1" fill="none"/>
<path d="M412.0 440.5L420.5 440.5" stroke="#000" stroke-width="1" fill="none"/>
<path d="M520.5 440.5L527.0 440.5" stroke="#000" stroke-width="1" fill="none"/>
<text x="480.9" y="518.6" font-family='"Liberation Sans",sans-serif' font-size="19.44" font-weight="normal" text-anchor="middle" fill="#000" xml:space="preserve" style="white-space:pre" >1600</text>
<path d="M420.5 390.5H520.5M420.5 490.4H520.5M420.5 390.5V490.4M520.5 390.5V490.4" fill="none" stroke="#000" stroke-width="3"/>
<path d="M470.5 522.0L470.5 530.5" stroke="#000" stroke-width="1" fill="none"/>
<path d="M470.5 630.4L470.5 637.0" stroke="#000" stroke-width="1" fill="none"/>
<path d="M412.0 580.5L420.5 580.5" stroke="#000" stroke-width="1" fill="none"/>
<path d="M520.5 580.5L527.0 580.5" stroke="#000" stroke-width="1" fill="none"/>
<path d="M420.5 530.5H520.5M420.5 630.4H520.5M420.5 530.5V630.4M520.5 530.5V630.4" fill="none" stroke="#000" stroke-width="3"/>
<rect x="300.5" y="680.5" width="220" height="220" fill="#ff0000"/>
<defs>
<path id="c0" d="M300.5 680.5l220 0 0 220-220 0 0-219zM362.5 699.4l-3 1-2 1-2 1.3-2 1.8-1.5 2-0.8 2-0.2 2 0.4 2 1 2 1.9 2 2.2 1.4 2 0.8 3 0.8 2 0.2 3-0.1 3-0.5 2.2-0.6 4.6-2 1.2-0.7 1-0.9 1-1.4 1.5-3 0.3-2-0.3-2-0.9-2-1.5-2-2.1-1.5-2-1-2-0.6-3-0.5-3-0.1-3 0.4z"/>
<path id="c1" d="M300.5 680.5l220 0 0 220-220 0 0-219zM362.5 695.3l-4 1.1-3 1.4-3 2-3 2.8-1 1.3-0.9 1.6-1 3-0.5 3 0.2 3 0.8 2 1.7 2 2.7 2.1 3.6 1.9 3.4 1.2 3 0.6 4 0.2 3-0.3 2.5-0.7 8.4-3 3.7-3 2.9-3 1.3-2 0.8-3 0-3-0.9-3-1.7-2.6-2.5-2.4-1.5-1-1.9-1-4.1-1.3-4-0.6-4 0-4 0.5z"/>
<path id="c2" d="M300.5 680.5l220 0 0 220-220 0 0-219zM365.5 691.5l-6 1.2-4 1.3-3 1.6-2 1.5-1.5 1.4-2.5 3-2.1 4-2.1 6-0.4 2-0.2 2 0.3 2 0.3 1 1.4 2 2.3 2 3.5 2 5 2 4 1 4 0.5 4-0.2 4-1.1 9-3.7 2.6-1.5 3.9-3 3.2-3 2-3 1.2-3 0.4-2 0.1-2-0.4-4-0.6-2-0.5-1-1.6-2-3-2-4.3-1.7-5-1.2-6-0.5-5 0.2z"/>
<path id="c3" d="M300.5 680.5l220 0 0 220-220 0 0-219zM366.5 688.5l-8 1.6-4 1.1-3 1.4-2 1.5-1.6 1.4-2.6 3-2.3 4-4.1 9-0.9 3-0.4 2 0.1 2 0.3 1 1.5 2.7 2.1 2.3 2.9 2 4.5 2 7.5 2.1 4 0.6 4-0.1 3-0.6 3-1.1 10-4.9 4.8-3 5.1-4 2-2 2-3 5.1-11 0.7-2 0-1-0.2-1-0.4-1-1.7-2-3-2-3.4-1.5-5.5-1.5-5.5-1-6-0.3-7 0.2z"/>
<path id="c4" d="M300.5 680.5l220 0 0 220-220 0 0-219zM373.5 685.5l-8 0.7-11 2.2-3 1.1-3.2 2-3.3 3-2.5 3.5-6.3 12.5-1.4 4-0.3 2 0 2 0.4 2 0.6 1.7 2 3.3 1 1.2 2 1.8 2 1.3 2 1 4 1.5 8 1.8 3 0.4 2 0 4-0.5 2-0.7 3-1.3 13-7.4 7.4-5.1 2.4-2 1.2-1.3 5.1-7.7 1.9-2.4 4.4-4.6 1-2 0.2-1-0.3-2-0.3-1-1.3-2-1.7-1.7-1.8-1.3-4-2-4.2-1.3-8-1.4-5-0.4-6 0z"/>
<path id="c5" d="M300.5 680.5l220 0 0 220-220 0 0-219zM378.5 682.5l-6 0.4-12 1.9-8 1.9-3 1.2-2.8 1.6-2.2 1.7-1.4 1.3-2.3 3-1.6 3-1.7 4.1-3.4 5.9-1.3 3-0.9 3-0.2 2 0 3 0.4 2 1 3 1.1 2 1.3 2 2 2.2 2 1.7 1.7 1.1 4.3 1.9 3 0.9 5 1.1 3 0.5 3 0.2 3-0.2 2-0.4 2-0.6 2-0.9 3-1.8 6-4.2 9-5.5 5.7-4 3.5-3 5.8-7.8 2.1-2.2 4.9-4.3 1-1.2 0.7-1.5 0.5-2 0.1-2-0.3-2-0.3-1-0.7-1.3-1.3-1.7-1.7-1.5-2-1.5-4.2-2-2.8-0.9-3-0.7-8-1.2-7-0.2z"/>
<path id="c6" d="M300.5 680.5l70.3 0-9.3 1.6-11 3.1-4 1.6-2 1.1-2.3 1.6-2.1 2-2 3-3.4 7-3.8 7-1.2 3-0.5 2-0.4 3 0.1 3 0.4 3 0.6 2 1.2 3 1.1 2 1.4 2 1.9 2.3 2 1.8 2 1.3 3 1.7 3 1.2 3 0.9 4 0.8 3 0.4 3 0.1 3-0.2 2-0.4 3-1 2-1 3-2.1 6.7-5.8 9.3-6 5.8-4 3.4-3 6.8-8.2 6.4-5.8 1.7-2 1-2 0.6-2 0.5-2 0.1-2-0.2-2-0.3-1-0.8-1.7-1-1.3-3.3-3-3.7-2.1-5-1.6-6.5-1.3 127.5 0 0 220-220 0 0-219z"/>
<path id="c7" d="M300.5 680.5l56.9 0-4.9 1.9-4 0.9-3 1.1-2.1 1.1-2.9 1.8-2.6 2.2-1.6 2-1.2 2-7.3 14-1.2 3-0.5 2-0.4 4 0.1 3 0.4 3 0.7 3 0.7 2 1.4 3 1.5 2.6 2 2.7 2 2.2 4 3 3 1.7 3 1.4 3 1 3 0.7 6 0.5 4-0.3 4-0.8 3-1.1 3-1.9 2-1.9 5.1-5.8 2.1-2 11.8-8.1 5.1-3.9 1.9-2 6-7 6-5.4 2-2.2 2-3.4 1.9-5 0.6-3 0-2-0.2-1-0.4-1-0.9-1.5-2.4-2.5-2.6-2-3.9-2 113.9 0 0 220-220 0 0-219z"/>
<path id="c8" d="M300.5 680.5l47.6 0-4.6 1.8-4 2.3-3 2.1-2.5 2.8-2.5 4-7.5 14-1.2 3-0.6 2-0.3 2 0 2 0.4 4 0.5 3 1.5 5 1.8 4 1.6 3 1.8 2.7 2 2.4 2 2 2.4 1.9 3.6 2.3 3 1.7 2 0.8 3 1 3 0.5 3 0.1 5-0.3 6-1.1 4-1.4 3-1.7 2-2 4.4-6.9 2.6-3.3 2-1.7 11.1-8 3.8-3 2.1-2.1 6-6.9 7.4-7 2.3-3 2.7-5 2.4-5 0.7-3-0.3-2-1.3-2-2.9-3-2.6-2 106.6 0 0 220-109.8 0-3.2-0.9-4-0.4-20-0.2-12 0.2-12.3 1.3-58.7 0 0-219z"/>
<path id="c9" d="M300.5 680.5l39.7 0-4.7 3.2-2 1.6-2 2.2-2.1 3-5.8 10-3.7 7-2.9 7-0.5 2 0.1 1 3.3 10 3.6 8.5 2.5 4.5 3.5 4.6 2 2 3 2.5 3 2.1 3 1.7 2.7 1.1 2.3 0.7 3 0.6 3 0.2 2-0.1 3-0.4 12-2.9 3.2-1.1 1.8-1 1-0.8 1-1 1-1.5 3-7.7 1.1-2 1.4-2 2-2 2.4-2 9.1-6.9 3-2.5 2.6-2.6 5.3-6 7.3-7 2.5-3 7.3-11 1.2-2 0.8-2-0.1-1-0.4-1-0.7-1-4.9-5 101.1 0 0 220-104.3 0-4.7-1.7-3-0.8-3-0.3-5-0.1-21 0-10 0.2-24 2.7-45 0 0-219z"/>
<path id="c10" d="M300.5 680.5l33.1 0-3.1 2.7-2.7 3.3-6.4 10-3.7 7-3.1 7-1.1 3.6-0.3 3.4 0.7 4 1.3 5 1.7 5 2.2 6 1.3 3 3.1 5.1 2.2 2.9 2.6 3 2.2 2.1 2.6 1.9 2.4 1.5 3 1.4 3 0.9 3 0.6 4 0.5 3 0.2 2-0.2 2-0.4 10-2.7 8-1.7 2-0.9 2-1.6 1-1.4 1.1-2.2 0.6-2 0.6-4 0.9-3 1.4-3 1.5-2 4.1-4 7.8-6.1 3-2.5 7.7-8.4 7.2-7 2.6-3 4.5-6 5.2-6 1.4-2 0.8-2 0.1-1-0.6-2-0.9-1.4-3.5-3.6 96.5 0 0 118.8-1-0.5-1-0.3-1.2 0-2.8 0.8-1 0-4.8-1.8-3.5-1-2.7-0.5-3-0.2-4 0.4-3 0.8-1.2 0.5-1 1 0 1 0.6 1 1.2 1 2.4 1.4 3 1.1 5 1.1 4 0.5 5 0.1 5 0.4 2-0.1 2-0.7 0 95.2-99.5 0-10.5-3.8-3-0.4-4-0.1-35 0.2-7 0.9-10 0.9-18.6 2.3-32.4 0 0-219z"/>
<path id="c11" d="M300.5 680.5l26.6 0-2.4 3-2.4 4-4.3 6-1.5 2.6-1.5 3.4-1.5 3.9-1.8 5.1-0.9 3-0.3 2-0.2 3 0.3 7 0.9 5.5 2.2 9.5 1.4 4 2.3 4 6.1 7.9 2 2.1 2 1.6 2.2 1.4 2.8 1.4 5 1.8 6 1.1 7 0.4 3-0.1 3-0.5 11-2.8 6-0.4 2-0.4 2-0.7 1.1-0.8 1.6-2 1.3-3 1-4 0.8-6 0.8-3 1.4-3 1.5-2 3.9-4 7.6-6.1 3-2.8 6.4-7.1 8.2-8 6.4-7.7 6.3-6.3 2.6-3 1-2 0.3-1-0.1-2-1-2-2.5-3 91.4 0 0 111.7-2-0.2-8 0.7-12-0.4-15 0.4-15 2.4-1.5 0.4-1.5 0.7-0.4 0.3-0.7 1 0 1 0.7 1 1.2 1 2.1 1 6.1 0.8 9 1.9 8 2.9 7 1.7 8 3.1 5 1.5 4 0.6 5-0.2 0 86.7-94.7 0-3.3-1.4-11-3.6-2-0.5-4-0.1-37 0.2-8 1-9 0.6-10 1.3-13.6 1.5-5.5 1-21.9 0 0-219z"/>
<path id="c12" d="M300.5 680.5l20.2 0-3.3 5-4.1 5-1.7 3-1 3-1.1 6-2.1 8-0.4 4 0 4-0.4 6 0 4 1.1 12 0.7 3 1.1 2.5 1.8 2.5 4.2 4.4 5.7 6.6 1.3 1.2 2.8 1.8 4.5 2 5.7 1.7 6 1 7 0.4 7-0.4 12-1.9 7-0.3 2-0.3 3-1 2-1.5 1.2-1.7 1.1-3 0.6-4 1.1-10 0.8-3 1.5-3 1.4-2 2.7-3 7.6-6.3 3-2.8 6.1-6.9 8.1-8 7.8-8.6 8.5-7.4 3.9-4 0.6-1 0.2-1-0.2-1-1-2-2.2-3 86.2 0 0 109-3-0.1-9 0.6-25-0.3-17 1.4-6 0.8-6 1.4-1 0.3-1.4 0.9-0.5 1 0.2 1 0.5 1 1.6 2 1.3 1 1.8 1 3.5 1.4 4 1.2 5 1.1 14 3.4 6 2.3 9 2.7 9 3.6 4 1.3 2 0.5 2 0.2 5-0.1 0 81.4-90.1 0-3.8-2-2.9-1-6.2-1.4-7-2.1-5-0.3-37 0.3-8 0.9-8 0.2-14 1.9-13 1-4 0.7-5.6 1.8-15.4 0 0-219z"/>
<path id="c13" d="M300.5 680.5l14.1 0-1.4 2-1.7 1.9-4 3.1-0.9 1-1 2-0.6 2-0.7 4-0.4 7-1 7-0.6 8-1.4 9-0.4 3.8 0-49.8zM439.7 680.5l80.8 0 0 107.1-4-0.1-9 0.4-8-0.2-8 0.1-8-0.3-8 0.7-9 0.1-14 1-11-0.5-2.7 0.7-1.3 1-0.5 1 0.1 1 0.4 0.7 1.4 1.3 6.6 3.3 2 1.3 5 3.9 4 2 4 1.3 7 1.4 2 0.5 17 5.8 11 3.4 15 5.9 3 0.6 5 0.5 0 76.1-85.4 0-5.6-2.9-4-1.5-8-1.3-7-1.9-3-0.3-3-0.1-35 0.5-9 0.7-8 0.1-15 1.9-10 0.3-5 0.4-4 0.9-8 2.5-3 0.6-3.3 0.1-3.7-0.7 0-166 0.3 4.7 0.7 4 0.9 3 1.6 3 1.7 2 6.8 6 6 6.5 3 2.3 3 1.6 4 1.5 5 1.2 5 0.8 6 0.5 8-0.1 14-1 8-0.3 3-0.4 2.3-0.6 1.7-0.7 2-1.5 1.5-1.8 1-2 0.6-2 0.3-2 0.1-10 0.4-4 1-4 0.9-2 1.3-2 1.5-2 1.9-2 6.5-5.5 2.7-2.5 7.1-8 7.1-7 7.1-7.5 3-2.6 13-9.6 1.4-1.3 0.8-1 0.4-1 0.2-1-0.2-1-0.6-1-2-2z"/>
<path id="c14" d="M300.5 680.5l7.8 0-1.6 2-4 3-2.2 2.7 0-6.7zM451.9 680.5l68.6 0 0 105.4-4-0.1-8 0.3-9-0.2-8 0.2-8-0.3-8 0.6-8-0.3-13 0.5-11-0.5-3 0-3 0.4-2 0.5-7.1 2.5-1.8 1-0.5 1 0.6 1 1.4 1 2 1 4.8 2 6.6 2.4 3 1.5 7 4.9 4 2.1 3.1 1.1 8.9 2.1 16 6.2 13 3.9 5 1.9 9 4.1 10 4.2 0 27.7-4 2.8-2 2-0.9 1.1-5.1 9.1-4.5 6.9-0.4 1-0.1 1 0.4 1 1.3 1 3.2 1 6.1 0.8 6-0.2 0 14.4-79.2 0-6.5-3-5.5-2-2.8-0.8-8-0.9-9-2-5-0.3-24 0.2-12 0.4-7 0.5-9 0-4 0.3-11 1.4-10-0.1-4 0.1-5 0.7-8 2.1-3 0.5-3-0.2-2-0.5-2-0.8 0-143.5 8 6.1 1.7 1.8 4.2 5 3.1 2.7 2.2 1.3 2.8 1.3 6 1.8 7 1.1 6 0.6 4 0.1 8-0.3 23-0.4 4-0.4 3-1 2-1.2 2-2.1 1.5-2.5 0.7-2 0.3-2 0.1-2-1-10 0.1-5 0.6-3 0.7-2 1-2.1 1.9-2.9 2.1-2.4 8-7.1 7.5-8.5 14.5-14.5 4-3 13-9 5-4.1 3.3-2.4 1.2-1 0.5-0.8 0-1.4zM454.5 895.2l-1 0.3 1 0.5 1-0.5z"/>
<path id="c15" d="M455.8 680.5l64.7 0 0 103.9-4-0.1-9 0.1-8-0.1-8 0.3-8-0.3-6 0.5-3 0-7-0.4-13 0.1-12-0.6-4 0.1-4 0.5-10 1.8-4 1.2-1.9 1-0.9 1-0.2 1 0.2 1 0.7 1 0.9 1 1.3 1 1.6 1 2.3 1 3.2 1 10.8 2.8 4 1.5 2.9 1.7 6.1 4.5 4 2.1 3 0.9 8 2 16 6.6 11 3.3 6 2.3 4 1.9 4.2 2.4 4.7 3 2.5 2 2.8 3 1.4 2 1 2 0.4 1.2 0 5.3-1.1 1.5-2.9 2.9-3 3.8-8.4 13.3-3.6 4-8 6.7-4 2.8-4 2.1-5 1.8-4 1-9 0.8-13 2.1-3 1-6 3.4-3 0.7-2 0.1-3-0.3-11-2.5-8-0.6-8-1.6-5-0.5-25 0.1-19 1-10-0.2-4 0.3-10 1.1-11-0.5-4 0-4 0.4-8 1.4-3 0.2-2-0.3-1.3-0.5-1.8-1-1.9-1.6 0-130.4 3 2 1.2 1 4.8 6.2 1.8 1.8 1.4 1 1.8 1 3 1.2 8 1.8 7 1 10 0.6 11-0.4 14 0 14 0.5 3-0.2 3-0.8 2-1.2 1.3-1.5 1.7-3 1-3.2 0.4-3.8-0.2-3-2.2-9-0.4-3 0-2 0.3-3 0.8-3 1.3-2.8 1.3-2.2 2.6-3 5.1-4.5 3-3 8.3-9.5 11.7-11.4 3-2.4 8-5.4 16.3-10.8 2.1-2 0.6-1.1 0.4-1.9zM488.6 892.5l1.9-0.4 2-0.2 6 0.2 8-0.2 8 0.3 6-0.4 0 8.7-56 0 2-1 5.8-2 5.2-2.3 2-0.5 4-0.6 5-1.6z"/>
<path id="c16" d="M458.5 681.5l0.1-1 61.9 0 0 102.5-4-0.1-17 0-8 0.3-8-0.2-8 0.4-8-0.5-15-0.3-13-0.7-4 0.2-10 1.2-4 0.1-3-0.2-5-0.9-2-0.7-2-0.9-2-1.4-4.4-3.8-2.1-2-0.8-1-1.3-3-1.8-8-2.9-8-1-4 0-3 0.6-3 1-3 1.7-3 2.4-3 8.1-8 7.6-9 3.9-4 4-3.8 5-4.1 11.7-8.1 8.3-5.4 4.6-2.6 2.4-1.6 2.3-2.4 0.7-1 0.8-2zM363.4 781.5l5.1-0.2 5 0.3 4.9 0.9 7.1 1.8 5 1.6 7.9 3.6 22.1 8.8 4.3 1.2 11.7 2.4 4 1.1 3 1.5 7 5.5 2 1.3 2 0.9 2 0.7 6 1.4 3 0.9 7.3 3.3 8.7 3.5 11 3.5 6 2.5 4 2.3 2.9 2.2 2.2 2 2.4 3 1.4 3 0.4 2 0 2-1 5-1.7 5-3.4 7-3 5-3.2 3.7-4 3.5-4 2.9-4 2.5-4 1.9-6 2.5-7 1.9-16 3.1-3.1 1-6.9 3-2 0.5-3 0.4-4-0.1-9-1.3-9-0.5-8-1.6-6-0.5-22 0.2-18 1-13-0.4-13 1-15-1-12 0.2-2-0.2-2-0.8-2-1.5-1.2-1.4-1.7-3-1.1-2.9 0-68.1 1-2.2 2.6-4.8 0.7-2 0.5-3 0.4-7 1.2-4 1-2 2-2 1.5-1 2-1 3.1-1 4-0.7 4-0.1 15 0.5 23-0.6zM490.4 896.5l4.1-0.4 11-0.4 15 0.3 0 4.5-45.5 0 6.5-2.4 8-1.5z"/>
<path id="c17" d="M461.2 680.5l59.3 0 0 101.1-16-0.1-13 0.4-16 0.2-4-0.2-11-1-8-0.1-10-0.8-5-0.2-4 0.2-6 0.7-4 0-3-0.6-3-1-4-1.7-3-1.7-2-1.6-2.6-2.6-1.6-2-1.3-2-1.5-3-5-12-0.7-2-0.4-2 0.2-3 0.8-3 1.1-2.4 1.6-2.6 2.4-3 7.5-8 7.5-9 5-5.1 5-4.1 8-5.3 7-5 6-3.8 6-3.3 2-1.3 2.2-2.1 1.6-2 1-2 0.7-2zM361.9 785.5l6.6-0.8 3 0.1 3 0.6 5 1.6 17 6.5 18.7 6 7.3 1.9 14 2.6 4 1.1 2.5 1.4 6.5 5.4 3 2 3 1.2 6 1.1 2 0.5 8 3.8 9 3.5 8 2.8 4.3 1.7 4 2 2.7 1.7 2.6 2.3 1.7 2 1.7 3 0.7 2 0.4 2-0.1 4-0.9 5-2.2 6-2.5 5-2.4 3.2-4 3.8-4 3-4 2.5-6 3-6 2.5-4 1.4-3 0.8-13 2.8-3 1-7 2.8-2 0.6-3 0.5-4 0.2-9-0.8-9-0.3-9-1.6-6-0.5-21 0.2-17 1.1-14-0.7-11 0.5-4-0.1-19-2.1-4-0.7-3-1.2-2-1.7-1-1.2-1.7-3-1.3-3.6-1.1-4.4-0.6-4-0.2-5 0.3-11-1-10-0.2-5 0.7-12 0.7-5 1.2-4 1.6-3 4.3-6 5.3-11.2 2-3.1 2-2.2 2.3-1.5 2.9-1 4.8-0.6 9-0.2 12-0.8 12-0.3zM493.7 899.5l5.8-0.5 14 0 7 0.8 0 0.7-36.2 0 9.2-1z"/>
<path id="c18" d="M463.5 681.5l0.3-1 56.7 0 0 99.8-8 0-8-0.3-7 0.4-11 0.4-8 0.1-9-0.4-9-1.3-9-0.1-14-1.5-4 0.1-6 0.7-3-0.2-2-0.6-2.3-1.1-8.7-5.5-2-1.7-2-2-1.4-1.8-1.6-2.5-5-10.5-0.7-2-0.5-2 0-2 0.5-3 1.2-3 1.8-3 2.4-3 7-8 7.2-9 3.9-4 4.2-3.2 8-4.9 8-6 6.2-3.9 4.8-2.4 3-1.9 2-1.8 1.7-1.9 1.4-2 1.5-3zM365.8 788.5l2.7-0.6 2 0 2 0.4 3 0.9 8.7 3.3 11.3 3.9 13.9 4.1 10.1 2.5 16 2.9 4 1 2 1.1 7 5.9 4 2.6 3 1 5 0.6 3 0.8 6 3.1 19.2 7.5 4.8 2.5 3.5 2.5 2 2 1.9 3 1.1 3 0.5 4-0.3 4-0.9 4-1.5 4-2 4-1.5 2-2.8 3-3 2.6-3 2.1-7 3.8-7 3.3-4 1.7-4 1.2-7 1.5-4 1-9 3.5-3 0.9-3 0.6-4 0.3-9-0.4-9-0.1-2-0.2-7-1.4-7-0.5-20 0.2-17 1.2-14-1-14-0.1-8.2-1.2-9.6-2-4.2-1.5-3-2-2.1-2.5-1.1-2-0.8-2-1.4-5-0.8-6-0.5-10-0.8-11-0.1-6 0.6-8 0-7 0.8-3 1.2-2.5 5.5-7.5 6.6-10 2.9-3.2 1-0.8 2-1.2 2-0.8 3-0.6 16-2.1 6-0.4 10 0.1 2-0.3 2-0.6z"/>
<path id="c19" d="M466.5 680.5l54 0 0 98.4-8 0.1-8-0.5-6 0.7-7 0.1-7 0.5-3 0-13-0.6-2-0.4-4-1.1-2-0.4-7 0.2-2-0.1-16-2.5-3 0.1-5 0.6-2-0.1-2-1-4.9-4-4.1-2.4-3-2-3-3-2.4-3.6-2-4-1.6-4-0.8-3-0.1-2 0.4-3 1-3 1.7-3 2.1-3 6.8-8 6.8-9 2.1-2.3 2-1.6 2-1.3 8-4.4 9-6.9 7-4.2 4-1.9 2-1.3 3-2.7 2.9-3.4 2.1-3 1.6-3zM367.8 791.5l0.7-0.2 2-0.1 3 0.6 10.4 3.7 9.6 3 18.5 5 7.5 1.7 14 2.5 4 1 2 0.8 1.6 1 7.5 6 3.9 2.5 2 0.7 6 0.4 2 0.5 7 3.5 16 6.6 4 2.2 3.5 2.6 2 2 2 3 1.1 3 0.5 3 0 3-0.6 4-1.3 4-1.5 3-1.7 2.7-2 2.3-2.1 2-2.5 2-5.4 3.2-12 6-5 1.7-6 1.4-4 1.2-9 3.5-3 1-4 0.8-5 0.3-17-0.1-8-1.5-7-0.5-20 0.1-16 1.4-4-0.2-11-1.2-12-0.5-7-1.1-8-2.1-3-1.1-2-1-3-2.1-2-2.2-1.2-2-1.4-3-0.9-3-1.1-5-1.7-14-0.2-6 0-7 0.2-3 0.8-6-0.6-4-0.1-2 0.3-1 0.9-2 2.1-3 9.9-12.6 3-2.9 2-1.5 2-1.1 3-1.1 3-0.8 13-2.5 4-0.4 4-0.1 10 0.4 1.7-0.4 1.3-0.9z"/>
<path id="c20" d="M469 681.5l0.6-1 50.9 0 0 97.1-3-0.2-5 0.3-5-0.7-3-0.1-6 0.9-7 0.1-7 0.8-2 0.1-6-0.6-8-0.3-2-0.6-3-1.4-2-0.5-2-0.1-6 0.4-3-0.3-5-1.2-9-2.5-3-0.3-5-0.2-2-0.5-13-7.5-3-2.7-1.9-3-1.8-4-1.4-5-0.3-2 0-2 0.6-3 1.3-3 1.8-3 1.7-2.3 5.7-6.7 5.4-8 1.9-2.1 2-1.5 2-1.1 5-2.1 2-1 2-1.4 5-4.4 2-1.5 2-1.2 6-2.8 5-3.3 3-2.7 4.4-4.9 2.4-3 2.2-3.3zM370.3 794.5l2.2 0.1 2 0.4 10.5 3.5 12.5 3.5 13 3.2 7 1.6 14 2.7 5 1.3 2 0.8 2 1.2 8 5.9 4 2.4 2 0.6 6 0.5 2 0.6 21 9.5 2.1 1.2 2.7 2 2.1 2 1.6 2 1.6 3 0.9 3 0.4 3-0.4 4-1 4-1.9 4-2.1 3-2.9 3-2.1 1.6-3 1.8-11 5.8-3.8 1.8-3.2 1.1-9 2.7-9 3.6-3 1.1-3 0.7-4 0.5-19 0.3-7-1.3-3-0.4-5-0.3-7 0-14 0.2-14 1.4-5-0.3-11-1.4-12-1.1-4-0.7-3-0.8-5-1.6-4-1.9-2.5-1.8-2.8-3-1.2-2-1-2-2-6-1.6-8-1.3-9-0.1-9 0.3-4 0.7-6 0-6 0.6-2 1.6-3 5.3-7 4-4.5 4-3.3 2.1-1.2 2.9-1.4 4-1.3 5-1.4 8-1.7 7-0.6 9 0.3 5-0.8z"/>
<path id="c21" d="M472.5 681.5l0.9-1 47.1 0 0 95.7-4-0.4-3 0.5-7-1.1-3-0.1-2 0.3-3 1-8 0-7 1.2-7-1-8-0.2-1.8-0.9-2.2-1.9-1-0.4-1-0.1-8 0.6-3-0.1-3-0.8-3-1-6-2.9-2-0.8-2-0.5-7-1.2-2-0.6-6-2.5-3-1.4-3-2.1-2-2-1.4-2.3-1.6-4-1-5 0-3 0.6-3 0.8-2 1.8-3 6.8-8.1 5.5-8.9 0.9-1 1.6-1.1 2-0.7 5-1.5 2-1 2-1.5 4.1-4.2 2.9-2.3 2-1.2 5-1.8 2-1 3-2.5 3-2.8 12.1-13.4zM353.8 797.5l3.7-0.2 7-0.1 5-0.3 3 0.2 3 0.8 7 2.3 15 3.8 16 3.8 16 3.3 5 1.3 3 1.2 2 1 8.7 5.9 3.3 1.9 3 1 6 0.9 4 1.4 10.3 4.8 5.9 3 3.1 2 2.2 2 2.4 3 1.5 3 0.9 3 0.2 4-0.5 4-1.4 4-1.7 3-2.5 3-1.4 1.2-3 1.9-12 6.6-3 1.5-12 4.2-10 4.3-3 0.9-4 0.6-19 0.8-2-0.2-6-1.1-4-0.4-17-0.3-9 0.3-12 1.3-4 0-13-2-10-1.3-5-1.1-4-1.2-4-1.8-3-1.9-2-1.8-1.3-1.5-1.3-2-1.4-3-1.2-3-2.4-8-1.5-8-0.4-6 0.2-7 1.3-12 0.4-2 0.7-2 2.3-4 3.9-5 3.7-3.6 4-2.9 5-2.4 7-2.5 6-1.6 6-1z"/>
<path id="c22" d="M477.4 681.5l1.4-1 41.7 0 0 94.3-4-0.8-1-0.1-3 0.5-9-1.4-2-0.1-1 0.3-2 0.9-1 0.3-9 0.4-5 1.4-5-1.2-7-0.3-2-0.3-1-0.6-2.2-2.3-0.8-0.5-1-0.3-2 0.1-7 1-2 0-2-0.3-2-0.5-3-1.3-2.1-1.2-3.9-2.7-2-1-2-0.4-4-0.5-3-0.6-6-2-3-1.2-2-1.1-2.1-1.5-1.8-2-1.2-2-1.2-3-0.9-5 0.1-3 0.9-3 1-2 1.4-2 6.7-7 1.3-2 2.5-5 1.3-1.8 2-1.2 5-1.2 3-1.3 2-1.8 3.8-4.7 2.2-2.1 3-1.9 5-1.9 2.1-1.1 4.9-4.2 5.8-6.8 2.2-2.1 5-4.3 4-3zM355.1 799.5l4.4-0.4 7-0.2 3 0 2 0.2 3 0.7 7 2.4 9 1.8 6 1.6 18 4.3 15 3.3 4 1.1 3 1.1 2 0.9 10 6.2 3 1.5 2 0.7 8 1.8 4 1.7 5 2.3 3.8 2 4.2 2.5 2.1 1.5 2.1 2 1.6 2 1.6 3 1 3 0.4 4-0.5 4-0.9 3-1.5 3-1.9 2.4-2 1.6-3 2-13 7.3-11 4.4-10 4.5-3 0.9-3 0.6-5 0.5-15 0.6-2-0.1-6-1-4-0.4-19-0.3-7 0.3-12 1.4-4-0.1-20.6-3.6-5.4-1.3-4-1.4-2.7-1.3-3.1-2-2.2-2-1.5-2-1.2-2-3.2-8-1.9-6-1.3-7-0.4-6 0.2-6 1.2-10 0.7-3 0.7-2 2.2-4 2.5-3.3 3-3 4-3 5-2.7 7.4-3 5.6-1.7 6-1.2z"/>
<path id="c23" d="M487 681.5l2.9-1 30.6 0 0 92.9-4-0.9-6 0-9-1.5-2 0.2-3 1.1-3 0.3-3 0.1-3-0.3-4-1.1-4 1.3-5 0.2-2-0.2-2-0.5-3-2-2-0.8-3-0.1-7 0.8-2-0.1-2-0.4-2-0.6-2-1-2.1-1.4-3.9-3.1-1.7-0.9-1.3-0.4-8-1.1-6-1.9-3-1.3-2.2-1.3-1.8-1.6-1.7-2.4-1-2-0.7-3-0.3-3 0.4-3 0.8-2 1.2-2 1.8-2 5.1-4 1-1 1.5-2 2.4-4 1.5-1.7 2-1.3 5-2.4 2-1.4 1.1-1.2 2.5-4 1.4-1.9 1-1.1 2-1.6 2.4-1.4 5.6-2.5 4.9-3.5 2.2-2 4.9-6.2 2-1.8 2-1.5 3-1.9 2-1 5-2 3-1.4 3-1zM355.2 801.5l4.3-0.6 5-0.3 3-0.1 3 0.3 3 0.8 7 2.5 10 1.6 42 10.3 3 1.1 3 1.3 12 6.6 3 1.1 7 2 6 2.5 3.7 1.9 3.3 2 2.8 2 2.3 2 1.8 2 1.8 3 1 3 0.5 4-0.2 3-0.8 3-1.5 3-1.6 2-3.7 3-9.4 5.9-3 1.7-11 4.7-9 4.4-2 0.8-3 0.7-7 0.7-13 0.7-3-0.1-6-0.9-4-0.3-21-0.3-6 0.4-10 1.3-4 0-6-1-14-3-5-1.4-3-1.1-2.6-1.2-2.4-1.5-2-1.6-2.5-2.9-2.2-4-3.4-9-0.9-3-0.8-4-0.7-6 0-6 1.2-10 1.3-5 1.9-4 2.1-3 2.9-3 3.1-2.5 4.3-2.5 7.7-3.5 6-2.2 5-1.2z"/>
<path id="c24" d="M520.3 681.5l0.2-0.1 0 90.7-4-0.9-6-0.2-9-1.4-2 0.1-5 1.1-3 0.1-3-0.3-4-1.1-1-0.1-1 0.1-5 1.3-3 0.1-3-0.6-4-1.7-2-0.6-3-0.1-7 0.4-3-0.3-2-0.7-2-0.9-2-1.3-4.4-3.6-1.6-0.8-10-1.7-5-1.7-3.6-1.8-2.4-1.9-1.6-2.1-1.3-3-0.5-3 0.1-2 0.5-2 0.8-1.7 1-1.5 2-1.9 4.5-2.9 1.2-1 4.3-5.4 1.5-1.6 7.5-6.2 1.5-1.8 2.9-5 1.6-2 3-2.3 7-3.5 4.9-3.2 2.1-1.8 1-1.1 3.7-5.1 1.3-1.2 2-1.5 3-1.6 3-1 2-0.4 5-0.4 1-0.2 9.4-2.7 5.6-2 5-0.3 7 0.5 3-0.1 2-0.1 3-0.8zM360.6 802.5l5.9-0.4 4 0.5 2.9 0.9 6.1 2.5 2 0.3 6 0.6 4 0.7 17 4.2 25 6.5 5 2 12 6.1 10 3.5 5 2.2 2.6 1.4 3.1 2 2.5 2 2.1 2 1.6 2 1.7 3 0.9 3 0.3 3-0.2 3-0.5 2-1.4 3-1.6 2-3.6 3-7.5 5.1-3.3 1.9-9.7 4.5-10 5.1-3 0.9-4 0.7-9 0.8-8 0.4-3-0.1-9-1-22-0.3-6 0.4-10 1.4-4-0.1-6-1.1-13-3.4-4.1-1.2-2.9-1.2-3-1.5-2-1.4-2.2-1.9-1.7-2-1.3-2-1.5-3-1.2-3-2.2-7-1.3-7-0.4-5 0.2-6 1.1-8 0.9-3 0.7-2 2.2-4 2.5-3 3.2-2.8 3-2 7-3.6 6-2.6 6-1.9 6-1.1z"/>
<path id="c25" d="M501.3 686.5l2.2-0.5 3 0 7 1.4 1 0 3-0.8 3-1 0 85.3-4-0.8-6-0.5-9-1.2-2 0.1-5 0.8-2 0.1-3-0.1-4.1-0.8-1.9-0.2-2 0.2-4 0.7-3 0.1-2-0.4-5-1.6-2-0.4-3-0.2-6 0.1-3-0.3-2-0.5-2-0.9-2-1.3-4.3-3.3-1.7-1-2-0.6-6-1-3-0.7-3-1-3-1.4-2-1.3-2-2-1.3-2-0.7-2-0.3-2 0.2-2 0.6-2 1.3-2 2.1-2 4.1-2.7 1.6-1.3 11.4-11.9 2-2.4 2.6-4.7 2.2-3 1.2-1.1 2-1.5 6.8-3.4 6.4-4 2.1-2 2.5-4 2.2-2.3 3-1.7 3-1 3-0.4 5-0.1 3-0.3 11-2 3-0.9zM358.8 804.5l3.7-0.6 3-0.2 2 0 2 0.4 2 0.6 6 2.6 2 0.6 2 0.3 6 0.2 4 0.7 17 4.3 25 6.7 5 1.9 12 5.9 8 3 3.7 1.6 5.3 3 3.8 3 1.9 2 2.1 3 0.9 2 0.8 3 0.2 3-0.5 3-0.7 2-1.5 2.4-1.5 1.6-1.5 1.3-6 4.4-3 2-11 5.4-9 4.8-2 0.8-2 0.5-10 1.3-7 0.5-5 0-10-0.7-21-0.3-6 0.3-11 1.5-3 0-3-0.4-4-1-14.5-4.4-3.5-1.4-2.9-1.6-2.1-1.5-1.7-1.5-2.5-3-1.2-2-1.4-3-2.4-7-1.3-6-0.6-6 0-6 1-7 1.4-5 1.4-3 2.1-3 3-3 2.7-2 5.5-3.1 7.8-3.9 5.2-1.9 4-1z"/>
<path id="c26" d="M500.7 689.5l2.8-0.7 2-0.2 2 0.2 5 0.9 2 0.2 2.9-0.4 3.1-0.8 0 81.1-5-0.9-14-1.5-2 0-7 0.7-3-0.1-6-0.6-6 0.5-3-0.1-2-0.3-7-1.7-3-0.3-6-0.1-3-0.4-2-0.6-2-1.1-5-3.5-2.3-1.3-2.7-0.9-8-1.8-3-1.1-2-0.9-2.1-1.3-1.9-1.7-1-1.3-0.9-2-0.3-2 0.2-2 0.8-2 0.7-1 2.1-2 5.6-4 3.2-3 2.6-2.7 6-7.6 3.9-6.7 1.5-2 1.6-1.5 2-1.4 7.8-4.1 6.7-4 1.5-1.8 2-3.6 2-1.9 2-1 3-0.8 3-0.3 7-0.1 7-0.6 4-0.6 4-1.2zM363.4 805.5l3.1-0.2 2 0.2 2.9 1 5.1 2.4 3 0.9 2 0.2 6 0 4 0.7 17 4.2 16.1 4.6 9.9 2.6 5 1.9 10 4.8 8.6 3.7 3.4 1.6 2.4 1.4 2.6 1.8 3.4 3.2 1.5 2 1.6 3 1 3 0.2 3-0.4 3-0.8 2-1.2 2-1.9 2-4.4 3.5-3 2-11 5.5-10 5.5-2 0.8-2 0.5-8.4 1.2-4.6 0.5-6 0.2-10-0.4-25-0.2-6 0.4-9 1.3-3-0.1-3-0.5-4.5-1.2-12.5-4.3-3.7-1.7-2.3-1.3-2.3-1.7-2.1-2-1.6-2-1-1.7-2-4.3-1.9-6-1.3-7-0.5-6 0.2-5 0.9-6 1.3-4 1.6-3 2.2-3 2.5-2.4 3-2.1 9.7-5.5 4-2 5.3-1.9 5-1z"/>
<path id="c27" d="M501.5 691.5l2-0.5 2-0.2 7 1 2 0.1 3-0.2 3-0.6 0 77.6-5-0.8-13-1.5-3 0-8 0.5-8-0.4-8 0.2-3-0.4-7-1.6-8-0.5-3-0.4-2-0.6-2-0.9-5.7-3.8-2.3-1.2-2-0.6-8-2.2-4.7-2-2.3-1.5-1.5-1.5-0.8-1-0.8-2-0.1-2 0.2-1 1.1-2 2-2 6.8-5 4.1-3.9 2-2.7 4-6.1 3.5-6.3 2.4-3 3.1-2.4 12.6-6.6 2.4-1.4 0.7-0.6 0.6-1 1.3-3 1.4-1.6 2-1.1 3-0.7 10-0.2 8-0.3 4-0.7 3-1.1zM361.8 807.5l3.7-0.4 3 0.3 2.9 1.1 5.1 2.5 3 0.8 2 0.1 5-0.4 4 0.5 17 4.2 18 5.2 9 2.3 7 2.7 16 7.6 4.4 2.5 3.8 3 1.9 2 2 3 0.9 2 0.8 3 0.1 3-0.3 2-0.7 2-1.3 2-1.9 2-1.7 1.4-5 3.1-9 4.4-11 6-3 1-4 0.8-7 1.1-5 0.4-12-0.1-10 0.2-16-0.2-6 0.3-9 1.3-2 0-3-0.5-4-1.1-11.3-4.1-2.7-1.2-3.2-1.8-4-3-2.6-3-2.2-4-2.1-6-1.3-6-0.8-6 0-5 0.5-5 0.7-2.9 0.7-2.1 1.4-3 1.9-2.7 2-2.1 2-1.6 14.1-8.6 3.9-1.6 5-1.3z"/>
<path id="c28" d="M501.9 693.5l1.6-0.5 1-0.2 2 0.1 5 0.7 3 0.2 3-0.1 3-0.4 0 74.3-7-1-11-1.2-3 0-8 0.5-16-0.4-3-0.4-7-1.4-8-0.8-3-0.5-3-1.1-5-3.2-3-1.6-9.5-3-4.5-2-3-2.2-1.6-1.8-0.5-1-0.2-1 0.1-1 0.3-1 0.9-1.4 1.7-1.6 7.9-6 2.1-2 1.3-1.6 5-8.7 3-5.7 2.3-3 1.7-1.6 2.2-1.4 13.9-7 1.6-1 0.7-1 1.6-3.4 1-1 2-0.8 3-0.4 7-0.1 13-0.4 2-0.4 3-1.3zM361.3 809.5l4.2-0.5 3 0.5 2.6 1 5.4 2.8 3 0.9 2-0.1 5-1 2 0.1 1.7 0.3 16.3 3.9 18 5.3 9 2.2 6 2.1 5.5 2.5 11.7 6 3.2 2 2.6 2 2 2 2.2 3 0.9 2 0.9 3 0.3 3-0.2 2-0.7 2-1.3 2-2.1 2-4 2.4-9 4.2-11 6.1-3 1.2-3 0.8-8 1.4-6 0.5-10 0.2-10 0.5-13-0.3-5 0.1-6 0.3-8 1.1-2 0-3-0.5-3.3-1-9.7-3.8-3-1.4-3-1.8-4-3-2.6-3-1.8-3-1.9-5-1.5-6-0.8-6-0.2-5 0.4-5 1.1-4 1.3-3 1.3-2 1.7-2 2-1.8 8-4.9 6-4.4 3-1.5 4-1.2z"/>
<path id="c29" d="M502.8 695.5l0.7-0.3 2-0.3 8 0.8 3-0.1 4-0.4 0 71.4-9-1.3-9-0.9-3 0-10 0.5-13-0.4-21-3.2-3-1.1-5-3.1-3-1.5-8-2.7-4-1.8-2.6-1.6-1.3-1-1.7-2-0.4-1 0.1-1 0.6-1 0.8-1 8.5-7 2.9-3 1.1-1.9 5.5-11.1 1.6-3 1.9-2.4 3-2.4 9-4.7 7-3.4 1.2-1.1 1.8-2.5 1-1.1 2-0.9 3-0.4 5 0.1 16-0.4 2-0.5 2-1.1zM361.4 811.5l2.1-0.3 2-0.1 3 0.5 3 1.3 6 3.4 2 0.7 2-0.1 5-1.9 2 0 2.7 0.5 15.3 3.4 17 5 11 2.8 6 2.1 5.5 2.7 8.9 5 3.1 2 2.5 2 1.9 2 1.4 2 1.1 2 1 3 0.3 2 0 2-0.4 2-1 2-1.3 1.3-2.7 1.7-9.3 4.3-11 6-4 1.7-3.6 1-5.4 1.1-5 0.7-20 1.4-4 0.1-15-0.2-7 0.3-10 0.7-2-0.3-3-0.8-7.6-3-5.8-3-4.2-3-3-3-2-3-1.7-4-1.5-5-1.1-6-0.4-5 0.1-5 0.8-4 0.8-2 1.6-2.7 1-1.3 2.1-2 2.7-2 6.2-3.8 4.8-4.2 1.2-0.8 2.6-1.2 2.4-0.8z"/>
<path id="c30" d="M505 697.5l2.5-0.2 8 0.2 5-0.4 0 68.5-10-1.4-8-0.7-4 0-11 0.4-9-0.2-5-0.6-16-2.8-4-1.2-7-4-8-2.9-3-1.4-3.4-2.3-1.6-2-0.4-1 0.1-1 0.5-1 0.7-1 7.1-6.6 2-2.3 1-1.8 4.5-10.3 2.1-4 2.3-3 2.5-2 3.6-2 12.2-6 1.5-1 3.3-3 2-0.8 2-0.3 6 0.1 9-0.6 8 0.3 4-1.6zM362.2 813.5l3.3-0.2 2 0.2 2 0.7 3 1.5 5 3.3 2 0.9 1 0.2 1-0.2 4-1.9 2-0.6 2-0.1 3 0.3 8 1.4 5 1.1 17 5 11 2.8 6 2 4 1.8 9.7 5.8 4.3 3.2 1.8 1.8 1.6 2 1.2 2 0.8 2 0.6 3-0.1 2-0.6 2-0.7 1-1.6 1.4-2.6 1.6-7.4 3.5-12 6.2-5 1.9-5.7 1.4-6.3 1.1-20 2.1-16-0.2-19 0.6-2-0.3-3-0.9-6-2.4-5.5-3-4-3-2.8-3-2-3-1.7-4-1.2-4-1-5-0.6-6 0.1-4 0.7-3.7 1-2.3 1-1.7 1-1.3 2-2 2.8-2 6.2-3.8 4-4 1.6-1.2 1.9-1 2.5-0.8z"/>
<path id="c31" d="M505.7 699.5l2.8-0.3 6 0.1 6-0.3 0 65.6-10-1.4-8-0.7-4 0-13 0.6-5-0.2-7-0.9-13.7-2.5-4.3-1.2-2-1-6-3.3-7.2-2.5-2.2-1-2.7-2-1.4-2-0.3-1 0-1 1-2 5.8-6.4 1.7-2.6 4-10 1.8-4 1.1-2 1.5-2 2.9-2.4 3-1.7 12-5.9 5-3.2 2-0.8 2-0.4 6 0.1 9-0.8 8 0.2 5-1.1zM363.4 815.5l3.1 0 3 0.8 3 1.5 5 3.3 2 0.8 1 0.2 2-0.3 5-1.9 2-0.4 3 0 6 0.7 4 0.6 4 1 15 4.5 12.2 3.2 5.8 1.9 4 2 7.8 5.1 4.2 3.4 2.4 2.6 1.2 2 0.8 2 0.4 2 0 2-0.3 1-0.5 1-0.8 1-1.1 1-3.2 2-17.9 9.1-5.6 1.9-8.6 2-18.8 2.9-3 0.3-34-0.2-4-0.9-5.2-2.1-5.4-3-3.8-3-2.7-3-1.8-3-1.3-3-1.3-4-1-5-0.6-5 0.1-4 0.5-3 0.7-2 1.1-2 2.7-3.1 2.4-1.9 6-4 3.6-3.5 1.8-1.5 2.2-1.2 2-0.6z"/>
<path id="c32" d="M504 701.5l3.5-0.4 7 0 6-0.4 0 62.9-10-1.4-8-0.6-5 0-12 0.7-3-0.1-5.7-0.7-12.3-2.2-3.6-0.8-3.4-1.1-2.1-0.9-6.9-3.7-8-2.8-1-0.5-1.2-1-0.9-1-0.5-1-0.2-1 0.1-1 0.3-1 1.2-2 3.2-4.2 1.7-2.8 3.6-10 2.2-5 1.9-3 2.6-2.3 2.9-1.7 7.7-4 9.4-4.8 2-0.8 3-0.4 5 0.2 9-1 8 0.1 3-0.2zM364.9 817.5l2.6 0.2 2 0.6 2 1 5 3 3 1.1 1 0.1 2-0.1 6-1.6 3-0.3 5 0.1 5 0.5 5 1.1 14 4.3 14.6 4 5.4 2 3.4 2 4.1 3 3.7 3 2 2 1.6 2 1.1 2 0.3 1 0.2 2-0.5 2-1.4 2-1.5 1.3-2.8 1.7-12.2 6.5-3 1.4-3 1.2-9 2.5-19 3.9-4 0.6-21 0-11-0.5-4-0.6-3-1-2.4-1-5.3-3-3.6-3-1.8-2-1.4-2-1.5-3-1.1-3-1-4-0.9-5-0.3-3 0-3 0.5-3 0.7-2 1.9-3 1.8-2 7.4-5.8 4-3.6 3-1.8 3-0.8z"/>
<path id="c33" d="M487.4 703.5l7.1-0.6 7 0.1 6-0.3 7 0.1 6-0.3 0 60.1-10-1.4-8-0.5-6 0-11 0.7-3-0.1-16-2.7-4-1-3.3-1.1-2.7-1.2-6-3.6-3-1.2-6-2-1.2-1-0.5-1-0.2-1 0.3-2 4.3-8 3.3-10 2-5 1.7-3 1.3-1.4 2-1.5 2-1.2 10-5.2 7-3.3 2-0.7 2-0.3 6 0 3-0.3zM366.3 819.5l1.2 0.1 2 0.6 6.4 3.3 1.6 0.6 2 0.5 3 0.1 7-1.1 4-0.4 5 0.1 5 0.6 4 1 11 3.5 14.5 4.1 5.6 2 3.5 2 2.6 2 3.4 3 1.9 2 1.6 2 1.1 2 0.3 2-0.5 1.9-0.7 1.1-2 2-2.9 2-9.4 5.4-5 2.3-11 3.4-18 4.3-4 0.6-19 0.1-11-1-4-0.7-2-0.5-3-1.2-4.7-2.7-3.6-3-2.3-3-1.6-3-1.1-3-1.8-8-0.3-3-0.1-3 0.4-3 0.7-2 1.7-3 1.7-2 9-7.8 2-1.4 1.4-0.8 1.6-0.6 2-0.4z"/>
<path id="c34" d="M489.4 704.5l8.1-0.4 23 0.3 0 57.1-10-1.3-7-0.5-8 0-12 0.8-3-0.4-14-2.7-4-1.1-4-1.8-7-4.5-5.8-2.5-1.2-0.7-1.2-1.3-0.3-1 0.3-2 2.2-6.5 3.1-10.5 2.5-6 1.3-2 1-1 3.1-2 11.1-6 5.9-2.5 2-0.6 2-0.3 6 0 5-0.5zM366.3 821.5l2.2 0.2 7 3 2 0.7 2 0.4 4 0.1 9-0.8 6-0.3 4 0.3 4 0.9 10 3.3 14.3 4.2 5.7 2.1 3.5 1.9 2.5 2 1.9 2 2.4 3 1 2 0.4 2-0.1 1-1 2-1.7 2-2.4 2-2.8 2-3.7 2.3-5 2.4-11 3.7-9 2.2-8 2.4-4 0.7-18 0.4-8.6-1.1-5.9-1-4.5-1.5-4-2.1-3.1-2.4-2.6-3-1.2-2-1.3-3-0.8-3-1.3-6-0.5-5 0.3-3 0.6-2 0.9-2 1.2-2 1.8-2 2.1-2 3.9-3.3 2.3-1.7 2.7-1.4 2-0.5z"/>
<path id="c35" d="M492 705.5l6.5-0.2 22 0.9 0 54.2-10-1.2-7-0.4-9 0-11 0.7-3-0.5-8-1.8-6-1.1-2-0.5-2-0.8-4-2.3-5-3.7-5.5-3.3-0.9-1-0.6-1-0.3-2 0.2-2 2.1-10 1.2-4 1.5-4 1.3-2.5 1.3-1.5 2.7-1.9 6-3.2 5-3 2-1 3-1.1 3-0.8 2-0.3 7-0.1 7-0.6zM363.1 824.5l2.4-0.8 2-0.1 1 0.1 8 2.7 2 0.4 3 0.3 5 0 13-0.8 4 0.4 3 0.7 8 2.8 14 4.3 4 1.5 3 1.4 3.2 2.1 1.1 1 1.7 2 1.5 3 0.3 2-0.1 1-0.2 1-1 2-2.5 3-3.8 3-3.5 2-3.7 1.6-9 3.2-8 2.1-8 2.6-4 0.7-14 0.9-4-0.1-13-2.5-3-0.8-3-1.3-2.5-1.4-2.5-2-2-2.2-1.8-2.8-0.8-2-0.8-3-1.4-7-0.3-4 0.1-2 0.4-2 0.8-2 1.1-2 1.6-2 3.1-3 3-2.5 2-1.2z"/>
<path id="c36" d="M476 707.5l22.5-1 9 0.5 13 1.1 0 51.2-10-1.2-5-0.3-11-0.1-10 0.7-4-0.5-8-2-6.6-1.4-2.4-1-4.7-3-7.3-5.5-1.6-1.5-0.6-1-0.7-2-0.2-3 0.3-3 0.8-4 1.1-4 1.4-4 1.5-3 1-1.2 2-1.5 7-3.8 5.5-3.5 2.5-1 4-0.9zM363.7 826.5l2.8-0.8 2 0 9 2.1 6 0.6 9 0.1 8-0.7 3 0.3 3 0.7 6 2.3 12 3.8 4.3 1.6 2.7 1.2 3.1 1.8 1.2 1 1.9 2 0.6 1 0.7 2 0.2 1-0.2 2-0.6 2-0.5 1-2.5 3-1.9 1.6-2 1.3-4.3 2.1-7.7 2.9-9 2.5-8 2.7-3 0.6-13 1.3-3 0.1-3-0.3-12-3.1-3-1.1-2-0.9-2.7-1.7-2.2-2-1.6-2-1.2-2-0.8-2-0.8-3-1.2-7-0.2-3 0.2-2 0.5-2 0.8-2 1.2-2 1.6-2 2.1-2 2.3-1.8 2-1.1z"/>
<path id="c37" d="M477.2 708.5l18.3-0.7 4 0 8.4 0.7 12.6 1.6 0 47.9-3-0.1-7-0.9-4-0.2-12-0.2-10 0.5-4-0.5-13-3.6-3-1.1-2.4-1.4-2.8-2-5.1-4-2-2-1.3-2-0.6-2-0.2-2 0.1-3 0.5-3 1.4-5 1.2-3 1.2-2.3 1-1.1 2-1.5 6-3.3 6-4.1 3-1.1 4-0.6zM364.2 828.5l2.3-0.8 3-0.1 10 1.6 13 1 3-0.2 4-0.7 3 0 4 1 5 2 11 3.6 5 2.1 4 2.3 2.4 2.2 1.2 2 0.3 1 0.2 2-0.4 2-0.4 1-1.3 2-1 1.2-2 1.6-3.6 2.2-4.5 2-3.9 1.5-8 2.3-8 2.7-3 0.6-13 1.8-3 0.2-2-0.3-5-1.7-7-2-3-1.2-3-1.6-1.8-1.3-2-2-1.4-2-1-2-0.9-3-1.2-7-0.1-3 0.3-2 0.5-2 0.9-2 1.4-2 1.8-2 1.5-1.3 2-1.4z"/>
<path id="c38" d="M483.2 709.5l13.3-0.4 5 0.1 11 1.5 8 1.4 0 44.5-1 0-3-0.1-6-0.6-4-0.3-12-0.2-9 0.4-2-0.1-2-0.3-12.1-3.9-4.9-2.1-2-1.1-3-2.1-3.4-2.7-2-2-1.3-2-0.8-2-0.3-2 0-3 0.8-3.9 1-3.2 1.2-2.9 1.4-2 2.3-2 6.1-3.3 4.5-3.7 1.5-0.9 2-0.5 2-0.3 8-0.3zM367.9 829.5l3.6 0 22 2.3 2-0.1 5-1 3 0.2 2.1 0.6 5.9 2.4 7.7 2.6 4.9 2 2.4 1.3 2.6 1.7 1.4 1.4 1.1 1.6 0.4 1 0.3 2-0.4 2-0.4 1-1 1.5-1.4 1.5-1.6 1.2-3 1.8-6.8 3-8.2 2.5-6 2.1-3 0.8-5 0.7-9 1.6-2 0.2-2-0.1-1-0.3-4-1.9-6-1.8-4-1.6-2.3-1.2-2.6-2-1.7-2-1.2-2-1.5-4-0.9-5 0-4 0.7-3 1.4-3 1.1-1.5 1.4-1.5 2.6-1.9 3-1z"/>
<path id="c39" d="M492.4 710.5l6.1-0.1 4 0.3 11 1.9 7 1.7 0 40.7-3 0.2-11-0.8-6 0-7-0.3-8 0.2-2-0.1-2-0.4-9-3.3-9-4.1-3-2-2.4-1.9-2.1-2-1.4-2-0.9-2-0.4-2-0.1-2 0.3-2 1-3.6 1-2.6 1-1.8 2-2.2 1.1-0.8 5.9-3.2 4-3.8 1-0.7 1-0.4 4-0.5 16-0.4zM367.8 831.5l1.7-0.3 2-0.1 7 0.5 16 1.9 2-0.3 4-1 2 0 3 0.9 14 5.4 4 2 2.8 2 1.8 2 0.5 1 0.4 2-0.3 2-0.5 1-0.7 1-2 1.9-3.3 2.1-4.7 2.2-12 4.2-4 1.2-6 1-8 1.7-4 0.2-1.7-0.5-1.4-1-1.9-0.9-6-1.9-3-1.2-3-1.6-2-1.6-2.4-2.8-1.5-3-0.6-2-0.5-2.9-0.1-4.1 0.3-2 0.6-2 1.8-3 2.4-2.4 1-0.7 2-0.8z"/>
<path id="c40" d="M473.3 712.5l13.2-0.6 14 0.1 3.6 0.5 9.4 2 3.5 1 3.5 1.3 0 36.4-2 0.3-3 0-7-0.4-8-0.1-6-0.3-8-0.1-3-0.2-5.6-1.9-4.9-2-8.5-4.1-2-1.2-2.3-1.7-1.7-1.5-1.3-1.5-1.2-2-0.7-2-0.2-2 0.2-2 1.2-4.3 1.5-2.7 1.5-1.7 1.8-1.3 5.6-3 1.1-1 2.5-2.8 1-0.7 1-0.3zM368.3 833.5l2.2-0.5 2-0.1 7 0 12 1.8 3 0.2 2-0.1 4-0.9 2 0.1 2 0.4 2 0.7 8.4 3.4 3.6 1.7 3.8 2.3 2.1 2 1.1 2 0.2 2-0.4 1-0.6 1-2 2-3.2 2.2-5 2.4-9 3.2-4 1.2-7 1.3-5 1.1-4 0.5-2-0.2-4-2.1-7-2.4-2.6-1.2-3.4-2.2-1-0.9-1.5-1.9-1.5-3-0.6-2-0.3-2-0.1-2 0.1-2 0.5-2 0.8-2 1.3-2 0.9-1 2.4-1.7z"/>
<path id="c41" d="M484.5 713.5l3-0.1 11 0.1 3 0.2 12 3 3 1.1 4 2 0 31.3-3 0.6-3 0-7-0.2-7-0.1-11-0.5-4-0.5-7-1.9-6-2.6-6-3-2.5-1.4-2.6-2-1.9-1.9-1-1.5-0.8-1.6-0.4-2 0.1-2 0.5-2 0.7-2 0.9-1.5 1.2-1.5 1.8-1.3 6-3.4 3-3.3 1.7-1 2.3-0.4 6-0.3 3-0.3zM374.8 834.5l5.7 0 13 1.8 3-0.1 4-0.5 3 0.3 2 0.5 4.9 2 6.2 3 2.8 2 1.7 2 0.4 1 0.2 1 0 1-0.4 1-0.6 1-2 2-1.4 1-3.5 2-5 2-7.3 2.4-11 2.3-3 0.4-2 0-2-0.4-4-1.9-8-3.3-2-1.2-2-1.5-1.6-1.8-1.1-2-0.9-3-0.2-3 0.6-3 1.2-2.7 1-1.3 1-0.9 2-1.1 2-0.6 3-0.4z"/>
<path id="c42" d="M484 715.5l3.5-0.3 5 0 7 0.4 4 0.6 5 1.4 5 1.7 3.9 2.2 3.1 2.2 0 24.8-4 1-3 0.1-12 0-9-0.4-5-0.6-9-2.5-4-1.6-7.6-4-2.4-1.7-1.5-1.3-1.5-1.8-0.7-1.2-0.4-1-0.3-2 0-1 0.5-2 0.9-1.9 0.9-1.1 2.1-1.8 5-3.1 3-2.7 2-1.3 3-0.6 6-0.4zM374.7 836.5l2.8-0.3 3 0 12 1.4 3 0.1 5-0.2 3 0.4 4 1.3 4.9 2.3 3 2 1.8 2 0.4 1 0.2 1 0 1-0.4 1-1.4 2-2.6 2-4.1 2-6.8 2.5-4 1.1-7 1.4-3 0.3-2 0-3-0.7-8.2-3.6-2.8-1.4-3-2.2-2-2.2-1-2.2-0.3-2 0.2-3 0.7-2 1.3-2 1.1-1 2-1.1 3-0.9z"/>
<path id="c43" d="M485.5 717.5l4-0.4 4 0.1 7 0.9 3 0.6 4 1.3 3.4 1.5 3.1 2 2.3 2 1.9 2 2.3 3 0 13.4-2.1 1.6-1.9 0.8-2 0.4-4 0.5-8 0.2-9-0.1-5-0.6-9-2.6-4-1.6-5.4-3-2.6-1.8-1.3-1.2-1.7-2.1-0.8-1.9-0.1-1 0.2-2 0.4-1 1.5-2 7.8-6.2 2-1.2 3-0.8 5-0.4 2-0.4zM376.8 838.5l2.7-0.3 2 0 11 0.9 9 0.4 3 0.7 3.3 1.3 2.7 1.5 2 1.5 0.9 1 0.5 1 0.3 1-0.1 1-0.3 1-0.6 1-1 1-3.2 2-4.6 2-4.9 1.7-5 1.2-3 0.4-3 0.3-2-0.2-2-0.5-3-1.3-5.2-2.6-3.1-2-2.3-2-1.3-2-0.3-1-0.1-2 0.4-2 0.9-1.5 1.4-1.5 1.6-1 3-0.9z"/>
<path id="c44" d="M486.8 719.5l3.7-0.3 3 0.2 3 0.5 5 1.2 3 1 2.7 1.4 1.5 1 2.1 2 2 3 2.2 6 0.4 2-0.2 2-0.4 1-0.8 1-1.3 1-2.4 1-3.8 0.8-5 0.6-7 0.2-4-0.3-3-0.6-6-1.8-4.6-1.9-4.8-3-2.6-2.5-1-1.5-0.4-1-0.1-2 0.8-2 0.7-1 1.9-2 3.1-2.5 3-1.7 2-0.5 7-1.3zM381.8 840.5l3.7-0.1 5 0.2 7 0.5 3.2 0.4 2.8 0.8 2.8 1.2 2.2 1.5 1.4 1.5 0.4 1 0.1 1-0.5 1-0.9 1-1.5 1-3.7 2-4.9 2-3.5 1-3.9 0.6-2 0.1-2-0.2-2-0.5-2.4-1-3.5-2-2.7-2-2.1-2-0.7-1-0.6-2 0-1 0.4-1 0.6-1 1-1 1.8-1 2.2-0.7 2-0.3z"/>
<path id="c45" d="M489.3 721.5l3.2 0.1 3 0.6 4 1.3 2.2 1 1.8 1.2 2 1.8 1.4 2 0.8 2 0.4 3-0.1 2-1 2-1 1-1.6 1-2.7 1-3.2 0.7-3 0.3-4 0-3-0.4-4-1.1-3.9-1.5-2.1-1.1-2.6-1.9-1.9-2-1-2-0.1-2 0.8-2 1.6-2 1.2-1.1 2-1.2 2-0.9 4-1.1 4-0.6zM388.3 842.5l5.2 0.1 5.3 0.9 2.6 1 1.6 1 1 1 0.5 1 0 1-0.5 1-0.9 1-2.8 2-3.8 1.7-2 0.6-2 0.3-2 0.1-2-0.2-2-0.6-1.8-0.9-2.7-2-0.9-1-1.2-2-0.3-1 0-1 0.4-1 0.9-1 2.6-1.2 4-0.7z"/>
<path id="c46" d="M486 724.5l2.5-0.4 2-0.1 2 0.2 2 0.5 1.9 0.8 1.7 1 1.2 1 1.6 2 0.5 1 0.5 2-0.2 2-0.4 1-0.7 1-1.1 1.1-1.5 0.9-2.5 0.9-2 0.3-2 0.1-3-0.3-2-0.5-2-0.7-2-0.9-2-1.4-1.5-1.5-0.6-1-0.5-2 0.4-2 0.6-1 0.9-1 1.7-1.3 1.5-0.7 2.5-0.9zM387.8 845.5l2.7-0.7 3 0 2.5 0.7 1.5 1 0.8 1 0.2 1-0.2 1-0.7 1-1.2 1-0.9 0.5-2 0.7-2 0.1-2-0.3-2-1-1.1-1-0.7-1-0.2-1 0.1-1 0.7-1 1.2-0.8z"/>
<path id="c47" d="M487.1 727.5l2.4-0.4 2 0.2 2 0.8 1.6 1.4 0.6 1 0.3 1 0 1-0.3 1-0.6 1-1.6 1.2-2 0.7-1 0-2-0.2-2-0.6-1-0.6-0.8-0.5-0.9-1-0.5-1-0.1-1 0.2-1 1.1-1.5 2-1.3z"/>
</defs>
<g stroke="none">
<use href="#c0" fill="#ff1f00"/>
<use href="#c1" fill="#ff3300"/>
<use href="#c2" fill="#ff4700"/>
<use href="#c3" fill="#ff5c00"/>
<use href="#c4" fill="#ff7000"/>
<use href="#c5" fill="#ff8500"/>
<use href="#c6" fill="#ff9900"/>
<use href="#c7" fill="#ffad00"/>
<use href="#c8" fill="#ffc200"/>
<use href="#c9" fill="#ffd600"/>
<use href="#c10" fill="#ffeb00"/>
<use href="#c11" fill="#ffff00"/>
<use href="#c12" fill="#ebff00"/>
<use href="#c13" fill="#d6ff00"/>
<use href="#c14" fill="#c2ff00"/>
<use href="#c15" fill="#adff00"/>
<use href="#c16" fill="#99ff00"/>
<use href="#c17" fill="#85ff00"/>
<use href="#c18" fill="#70ff00"/>
<use href="#c19" fill="#5cff00"/>
<use href="#c20" fill="#47ff00"/>
<use href="#c21" fill="#33ff00"/>
<use href="#c22" fill="#1fff00"/>
<use href="#c23" fill="#0aff00"/>
<use href="#c24" fill="#00ff0a"/>
<use href="#c25" fill="#00ff1f"/>
<use href="#c26" fill="#00ff33"/>
<use href="#c27" fill="#00ff47"/>
<use href="#c28" fill="#00ff5c"/>
<use href="#c29" fill="#00ff70"/>
<use href="#c30" fill="#00ff85"/>
<use href="#c31" fill="#00ff99"/>
<use href="#c32" fill="#00ffad"/>
<use href="#c33" fill="#00ffc2"/>
<use href="#c34" fill="#00ffd6"/>
<use href="#c35" fill="#00ffeb"/>
<use href="#c36" fill="#00ffff"/>
<use href="#c37" fill="#00ebff"/>
<use href="#c38" fill="#00d6ff"/>
<use href="#c39" fill="#00c2ff"/>
<use href="#c40" fill="#00adff"/>
<use href="#c41" fill="#0099ff"/>
<use href="#c42" fill="#0085ff"/>
<use href="#c43" fill="#0070ff"/>
<use href="#c44" fill="#005cff"/>
<use href="#c45" fill="#0047ff"/>
<use href="#c46" fill="#0033ff"/>
<use href="#c47" fill="#001fff"/>
</g>
<g fill="none" stroke="#000" stroke-width="1" stroke-linejoin="round" shape-rendering="crispEdges">
<use href="#c0"/>
<use href="#c1"/>
<use href="#c2"/>
<use href="#c3"/>
<use href="#c4"/>
<use href="#c5"/>
<use href="#c6"/>
<use href="#c7"/>
<use href="#c8"/>
<use href="#c9"/>
<use href="#c10"/>
<use href="#c11"/>
<use href="#c12"/>
<use href="#c13"/>
<use href="#c14"/>
<use href="#c15"/>
<use href="#c16"/>
<use href="#c17"/>
<use href="#c18"/>
<use href="#c19"/>
<use href="#c20"/>
<use href="#c21"/>
<use href="#c22"/>
<use href="#c23"/>
<use href="#c24"/>
<use href="#c25"/>
<use href="#c26"/>
<use href="#c27"/>
<use href="#c28"/>
<use href="#c29"/>
<use href="#c30"/>
<use href="#c31"/>
<use href="#c32"/>
<use href="#c33"/>
<use href="#c34"/>
<use href="#c35"/>
<use href="#c36"/>
<use href="#c37"/>
<use href="#c38"/>
<use href="#c39"/>
<use href="#c40"/>
<use href="#c41"/>
<use href="#c42"/>
<use href="#c43"/>
<use href="#c44"/>
<use href="#c45"/>
<use href="#c46"/>
<use href="#c47"/>
</g>
<g transform="translate(316.3 716.6) rotate(-65)"><rect x="-9.5" y="-5.6" width="19" height="11.2" fill="#ffcc00"/><text x="0" y="4.3" font-family='"Liberation Sans",sans-serif' font-size="12" text-anchor="middle">0.2</text></g>
<g transform="translate(378.4 742.0) rotate(-43)"><rect x="-9.5" y="-5.6" width="19" height="11.2" fill="#ffcc00"/><text x="0" y="4.3" font-family='"Liberation Sans",sans-serif' font-size="12" text-anchor="middle">0.2</text></g>
<g transform="translate(450.5 696.5) rotate(-30)"><rect x="-9.5" y="-5.6" width="19" height="11.2" fill="#66ff00"/><text x="0" y="4.3" font-family='"Liberation Sans",sans-serif' font-size="12" text-anchor="middle">0.4</text></g>
<g transform="translate(503.5 694.5) rotate(0)"><rect x="-9.5" y="-5.6" width="19" height="11.2" fill="#00ff66"/><text x="0" y="4.3" font-family='"Liberation Sans",sans-serif' font-size="12" text-anchor="middle">0.6</text></g>
<g transform="translate(459.5 719.5) rotate(-35)"><rect x="-9.5" y="-5.6" width="19" height="11.2" fill="#00ccff"/><text x="0" y="4.3" font-family='"Liberation Sans",sans-serif' font-size="12" text-anchor="middle">0.8</text></g>
<g transform="translate(426.1 745.5) rotate(75)"><rect x="-9.5" y="-5.6" width="19" height="11.2" fill="#00ff66"/><text x="0" y="4.3" font-family='"Liberation Sans",sans-serif' font-size="12" text-anchor="middle">0.6</text></g>
<g transform="translate(419.5 771.0) rotate(22)"><rect x="-9.5" y="-5.6" width="19" height="11.2" fill="#66ff00"/><text x="0" y="4.3" font-family='"Liberation Sans",sans-serif' font-size="12" text-anchor="middle">0.4</text></g>
<g transform="translate(364.5 793.5) rotate(0)"><rect x="-9.5" y="-5.6" width="19" height="11.2" fill="#66ff00"/><text x="0" y="4.3" font-family='"Liberation Sans",sans-serif' font-size="12" text-anchor="middle">0.4</text></g>
<g transform="translate(355.0 813.9) rotate(-8)"><rect x="-9.5" y="-5.6" width="19" height="11.2" fill="#00ff66"/><text x="0" y="4.3" font-family='"Liberation Sans",sans-serif' font-size="12" text-anchor="middle">0.6</text></g>
<g transform="translate(387.5 814.5) rotate(5)"><rect x="-9.5" y="-5.6" width="19" height="11.2" fill="#00ff66"/><text x="0" y="4.3" font-family='"Liberation Sans",sans-serif' font-size="12" text-anchor="middle">0.6</text></g>
<g transform="translate(401.5 831.5) rotate(8)"><rect x="-9.5" y="-5.6" width="19" height="11.2" fill="#00ccff"/><text x="0" y="4.3" font-family='"Liberation Sans",sans-serif' font-size="12" text-anchor="middle">0.8</text></g>
<g transform="translate(308.3 830.5) rotate(-85)"><rect x="-9.5" y="-5.6" width="19" height="11.2" fill="#66ff00"/><text x="0" y="4.3" font-family='"Liberation Sans",sans-serif' font-size="12" text-anchor="middle">0.4</text></g>
<g transform="translate(383.1 866.1) rotate(-8)"><rect x="-9.5" y="-5.6" width="19" height="11.2" fill="#00ccff"/><text x="0" y="4.3" font-family='"Liberation Sans",sans-serif' font-size="12" text-anchor="middle">0.8</text></g>
<g transform="translate(370.5 876.5) rotate(-8)"><rect x="-9.5" y="-5.6" width="19" height="11.2" fill="#00ff66"/><text x="0" y="4.3" font-family='"Liberation Sans",sans-serif' font-size="12" text-anchor="middle">0.6</text></g>
<g transform="translate(366.1 888.0) rotate(-5)"><rect x="-9.5" y="-5.6" width="19" height="11.2" fill="#66ff00"/><text x="0" y="4.3" font-family='"Liberation Sans",sans-serif' font-size="12" text-anchor="middle">0.4</text></g>
<g transform="translate(462.1 820.3) rotate(15)"><rect x="-9.5" y="-5.6" width="19" height="11.2" fill="#66ff00"/><text x="0" y="4.3" font-family='"Liberation Sans",sans-serif' font-size="12" text-anchor="middle">0.4</text></g>
<g transform="translate(465.0 857.5) rotate(-45)"><rect x="-9.5" y="-5.6" width="19" height="11.2" fill="#00ff66"/><text x="0" y="4.3" font-family='"Liberation Sans",sans-serif' font-size="12" text-anchor="middle">0.6</text></g>
<g transform="translate(464.3 880.3) rotate(-15)"><rect x="-9.5" y="-5.6" width="19" height="11.2" fill="#66ff00"/><text x="0" y="4.3" font-family='"Liberation Sans",sans-serif' font-size="12" text-anchor="middle">0.4</text></g>
<polygon points="366.2,701.0 368.1,706.5 374.0,706.7 369.3,710.2 371.0,715.8 366.2,712.5 361.4,715.8 363.1,710.2 358.4,706.7 364.3,706.5" fill="#000"/>
<path d="M300.5 680.5H520.5M300.5 900.5H520.5M300.5 680.5V900.5M520.5 680.5V900.5" fill="none" stroke="#000" stroke-width="3"/>
<path d="M300.5 672.1L300.5 680.5" stroke="#000" stroke-width="1" fill="none"/>
<path d="M300.5 900.5L300.5 907.0" stroke="#000" stroke-width="1" fill="none"/>
<text x="300.5" y="929.1" font-family='"Liberation Sans",sans-serif' font-size="19.44" font-weight="normal" text-anchor="middle" fill="#000" xml:space="preserve" style="white-space:pre" >0.0</text>
<path d="M307.8 675.9L307.8 680.5" stroke="#000" stroke-width="1" fill="none"/>
<path d="M307.8 900.5L307.8 903.8" stroke="#000" stroke-width="1" fill="none"/>
<path d="M315.2 675.9L315.2 680.5" stroke="#000" stroke-width="1" fill="none"/>
<path d="M315.2 900.5L315.2 903.8" stroke="#000" stroke-width="1" fill="none"/>
<path d="M322.5 675.9L322.5 680.5" stroke="#000" stroke-width="1" fill="none"/>
<path d="M322.5 900.5L322.5 903.8" stroke="#000" stroke-width="1" fill="none"/>
<path d="M329.8 675.9L329.8 680.5" stroke="#000" stroke-width="1" fill="none"/>
<path d="M329.8 900.5L329.8 903.8" stroke="#000" stroke-width="1" fill="none"/>
<path d="M337.2 672.1L337.2 680.5" stroke="#000" stroke-width="1" fill="none"/>
<path d="M337.2 900.5L337.2 907.0" stroke="#000" stroke-width="1" fill="none"/>
<text x="337.2" y="929.1" font-family='"Liberation Sans",sans-serif' font-size="19.44" font-weight="normal" text-anchor="middle" fill="#000" xml:space="preserve" style="white-space:pre" >0.5</text>
<path d="M344.5 675.9L344.5 680.5" stroke="#000" stroke-width="1" fill="none"/>
<path d="M344.5 900.5L344.5 903.8" stroke="#000" stroke-width="1" fill="none"/>
<path d="M351.8 675.9L351.8 680.5" stroke="#000" stroke-width="1" fill="none"/>
<path d="M351.8 900.5L351.8 903.8" stroke="#000" stroke-width="1" fill="none"/>
<path d="M359.2 675.9L359.2 680.5" stroke="#000" stroke-width="1" fill="none"/>
<path d="M359.2 900.5L359.2 903.8" stroke="#000" stroke-width="1" fill="none"/>
<path d="M366.5 675.9L366.5 680.5" stroke="#000" stroke-width="1" fill="none"/>
<path d="M366.5 900.5L366.5 903.8" stroke="#000" stroke-width="1" fill="none"/>
<path d="M373.8 672.1L373.8 680.5" stroke="#000" stroke-width="1" fill="none"/>
<path d="M373.8 900.5L373.8 907.0" stroke="#000" stroke-width="1" fill="none"/>
<text x="373.8" y="929.1" font-family='"Liberation Sans",sans-serif' font-size="19.44" font-weight="normal" text-anchor="middle" fill="#000" xml:space="preserve" style="white-space:pre" >1.0</text>
<path d="M381.2 675.9L381.2 680.5" stroke="#000" stroke-width="1" fill="none"/>
<path d="M381.2 900.5L381.2 903.8" stroke="#000" stroke-width="1" fill="none"/>
<path d="M388.5 675.9L388.5 680.5" stroke="#000" stroke-width="1" fill="none"/>
<path d="M388.5 900.5L388.5 903.8" stroke="#000" stroke-width="1" fill="none"/>
<path d="M395.8 675.9L395.8 680.5" stroke="#000" stroke-width="1" fill="none"/>
<path d="M395.8 900.5L395.8 903.8" stroke="#000" stroke-width="1" fill="none"/>
<path d="M403.2 675.9L403.2 680.5" stroke="#000" stroke-width="1" fill="none"/>
<path d="M403.2 900.5L403.2 903.8" stroke="#000" stroke-width="1" fill="none"/>
<path d="M410.5 672.1L410.5 680.5" stroke="#000" stroke-width="1" fill="none"/>
<path d="M410.5 900.5L410.5 907.0" stroke="#000" stroke-width="1" fill="none"/>
<text x="410.5" y="929.1" font-family='"Liberation Sans",sans-serif' font-size="19.44" font-weight="normal" text-anchor="middle" fill="#000" xml:space="preserve" style="white-space:pre" >1.5</text>
<path d="M417.8 675.9L417.8 680.5" stroke="#000" stroke-width="1" fill="none"/>
<path d="M417.8 900.5L417.8 903.8" stroke="#000" stroke-width="1" fill="none"/>
<path d="M425.2 675.9L425.2 680.5" stroke="#000" stroke-width="1" fill="none"/>
<path d="M425.2 900.5L425.2 903.8" stroke="#000" stroke-width="1" fill="none"/>
<path d="M432.5 675.9L432.5 680.5" stroke="#000" stroke-width="1" fill="none"/>
<path d="M432.5 900.5L432.5 903.8" stroke="#000" stroke-width="1" fill="none"/>
<path d="M439.8 675.9L439.8 680.5" stroke="#000" stroke-width="1" fill="none"/>
<path d="M439.8 900.5L439.8 903.8" stroke="#000" stroke-width="1" fill="none"/>
<path d="M447.2 672.1L447.2 680.5" stroke="#000" stroke-width="1" fill="none"/>
<path d="M447.2 900.5L447.2 907.0" stroke="#000" stroke-width="1" fill="none"/>
<text x="447.2" y="929.1" font-family='"Liberation Sans",sans-serif' font-size="19.44" font-weight="normal" text-anchor="middle" fill="#000" xml:space="preserve" style="white-space:pre" >2.0</text>
<path d="M454.5 675.9L454.5 680.5" stroke="#000" stroke-width="1" fill="none"/>
<path d="M454.5 900.5L454.5 903.8" stroke="#000" stroke-width="1" fill="none"/>
<path d="M461.8 675.9L461.8 680.5" stroke="#000" stroke-width="1" fill="none"/>
<path d="M461.8 900.5L461.8 903.8" stroke="#000" stroke-width="1" fill="none"/>
<path d="M469.2 675.9L469.2 680.5" stroke="#000" stroke-width="1" fill="none"/>
<path d="M469.2 900.5L469.2 903.8" stroke="#000" stroke-width="1" fill="none"/>
<path d="M476.5 675.9L476.5 680.5" stroke="#000" stroke-width="1" fill="none"/>
<path d="M476.5 900.5L476.5 903.8" stroke="#000" stroke-width="1" fill="none"/>
<path d="M483.8 672.1L483.8 680.5" stroke="#000" stroke-width="1" fill="none"/>
<path d="M483.8 900.5L483.8 907.0" stroke="#000" stroke-width="1" fill="none"/>
<text x="483.8" y="929.1" font-family='"Liberation Sans",sans-serif' font-size="19.44" font-weight="normal" text-anchor="middle" fill="#000" xml:space="preserve" style="white-space:pre" >2.5</text>
<path d="M491.2 675.9L491.2 680.5" stroke="#000" stroke-width="1" fill="none"/>
<path d="M491.2 900.5L491.2 903.8" stroke="#000" stroke-width="1" fill="none"/>
<path d="M498.5 675.9L498.5 680.5" stroke="#000" stroke-width="1" fill="none"/>
<path d="M498.5 900.5L498.5 903.8" stroke="#000" stroke-width="1" fill="none"/>
<path d="M505.8 675.9L505.8 680.5" stroke="#000" stroke-width="1" fill="none"/>
<path d="M505.8 900.5L505.8 903.8" stroke="#000" stroke-width="1" fill="none"/>
<path d="M513.2 675.9L513.2 680.5" stroke="#000" stroke-width="1" fill="none"/>
<path d="M513.2 900.5L513.2 903.8" stroke="#000" stroke-width="1" fill="none"/>
<path d="M520.5 672.1L520.5 680.5" stroke="#000" stroke-width="1" fill="none"/>
<path d="M520.5 900.5L520.5 907.0" stroke="#000" stroke-width="1" fill="none"/>
<text x="520.5" y="929.1" font-family='"Liberation Sans",sans-serif' font-size="19.44" font-weight="normal" text-anchor="middle" fill="#000" xml:space="preserve" style="white-space:pre" >3.0</text>
<path d="M292.1 680.5L300.5 680.5" stroke="#000" stroke-width="1" fill="none"/>
<path d="M520.5 680.5L527.0 680.5" stroke="#000" stroke-width="1" fill="none"/>
<text x="284.8" y="686.9" font-family='"Liberation Sans",sans-serif' font-size="19.44" font-weight="normal" text-anchor="end" fill="#000" xml:space="preserve" style="white-space:pre" >90</text>
<path d="M296.1 692.7L300.5 692.7" stroke="#000" stroke-width="1" fill="none"/>
<path d="M520.5 692.7L524.0 692.7" stroke="#000" stroke-width="1" fill="none"/>
<path d="M296.1 704.9L300.5 704.9" stroke="#000" stroke-width="1" fill="none"/>
<path d="M520.5 704.9L524.0 704.9" stroke="#000" stroke-width="1" fill="none"/>
<path d="M292.1 717.2L300.5 717.2" stroke="#000" stroke-width="1" fill="none"/>
<path d="M520.5 717.2L527.0 717.2" stroke="#000" stroke-width="1" fill="none"/>
<text x="284.8" y="723.6" font-family='"Liberation Sans",sans-serif' font-size="19.44" font-weight="normal" text-anchor="end" fill="#000" xml:space="preserve" style="white-space:pre" >60</text>
<path d="M296.1 729.4L300.5 729.4" stroke="#000" stroke-width="1" fill="none"/>
<path d="M520.5 729.4L524.0 729.4" stroke="#000" stroke-width="1" fill="none"/>
<path d="M296.1 741.6L300.5 741.6" stroke="#000" stroke-width="1" fill="none"/>
<path d="M520.5 741.6L524.0 741.6" stroke="#000" stroke-width="1" fill="none"/>
<path d="M292.1 753.8L300.5 753.8" stroke="#000" stroke-width="1" fill="none"/>
<path d="M520.5 753.8L527.0 753.8" stroke="#000" stroke-width="1" fill="none"/>
<text x="284.8" y="760.2" font-family='"Liberation Sans",sans-serif' font-size="19.44" font-weight="normal" text-anchor="end" fill="#000" xml:space="preserve" style="white-space:pre" >30</text>
<path d="M296.1 766.1L300.5 766.1" stroke="#000" stroke-width="1" fill="none"/>
<path d="M520.5 766.1L524.0 766.1" stroke="#000" stroke-width="1" fill="none"/>
<path d="M296.1 778.3L300.5 778.3" stroke="#000" stroke-width="1" fill="none"/>
<path d="M520.5 778.3L524.0 778.3" stroke="#000" stroke-width="1" fill="none"/>
<path d="M292.1 790.5L300.5 790.5" stroke="#000" stroke-width="1" fill="none"/>
<path d="M520.5 790.5L527.0 790.5" stroke="#000" stroke-width="1" fill="none"/>
<text x="284.8" y="796.9" font-family='"Liberation Sans",sans-serif' font-size="19.44" font-weight="normal" text-anchor="end" fill="#000" xml:space="preserve" style="white-space:pre" >0</text>
<path d="M296.1 802.7L300.5 802.7" stroke="#000" stroke-width="1" fill="none"/>
<path d="M520.5 802.7L524.0 802.7" stroke="#000" stroke-width="1" fill="none"/>
<path d="M296.1 814.9L300.5 814.9" stroke="#000" stroke-width="1" fill="none"/>
<path d="M520.5 814.9L524.0 814.9" stroke="#000" stroke-width="1" fill="none"/>
<path d="M292.1 827.2L300.5 827.2" stroke="#000" stroke-width="1" fill="none"/>
<path d="M520.5 827.2L527.0 827.2" stroke="#000" stroke-width="1" fill="none"/>
<text x="284.8" y="833.6" font-family='"Liberation Sans",sans-serif' font-size="19.44" font-weight="normal" text-anchor="end" fill="#000" xml:space="preserve" style="white-space:pre" >-30</text>
<path d="M296.1 839.4L300.5 839.4" stroke="#000" stroke-width="1" fill="none"/>
<path d="M520.5 839.4L524.0 839.4" stroke="#000" stroke-width="1" fill="none"/>
<path d="M296.1 851.6L300.5 851.6" stroke="#000" stroke-width="1" fill="none"/>
<path d="M520.5 851.6L524.0 851.6" stroke="#000" stroke-width="1" fill="none"/>
<path d="M292.1 863.8L300.5 863.8" stroke="#000" stroke-width="1" fill="none"/>
<path d="M520.5 863.8L527.0 863.8" stroke="#000" stroke-width="1" fill="none"/>
<text x="284.8" y="870.2" font-family='"Liberation Sans",sans-serif' font-size="19.44" font-weight="normal" text-anchor="end" fill="#000" xml:space="preserve" style="white-space:pre" >-60</text>
<path d="M296.1 876.1L300.5 876.1" stroke="#000" stroke-width="1" fill="none"/>
<path d="M520.5 876.1L524.0 876.1" stroke="#000" stroke-width="1" fill="none"/>
<path d="M296.1 888.3L300.5 888.3" stroke="#000" stroke-width="1" fill="none"/>
<path d="M520.5 888.3L524.0 888.3" stroke="#000" stroke-width="1" fill="none"/>
<path d="M292.1 900.5L300.5 900.5" stroke="#000" stroke-width="1" fill="none"/>
<path d="M520.5 900.5L527.0 900.5" stroke="#000" stroke-width="1" fill="none"/>
<text x="284.8" y="906.9" font-family='"Liberation Sans",sans-serif' font-size="19.44" font-weight="normal" text-anchor="end" fill="#000" xml:space="preserve" style="white-space:pre" >-90</text>
<text x="410.4" y="667.3" font-family='"Liberation Serif",serif' font-size="16.4" font-weight="bold" text-anchor="middle" fill="#000" xml:space="preserve" style="white-space:pre" >ϕ= 66.0 +/- 8.5° δt= 0.90 +/-0.20<tspan font-style="italic">s</tspan></text>
<text x="411" y="955" font-family='"Liberation Serif",serif' font-size="16.67" font-weight="bold" text-anchor="middle" fill="#000" xml:space="preserve" style="white-space:pre" >Splitting time (<tspan font-style="italic">s</tspan>)</text>
<text transform="translate(247.5 790.6) rotate(-90)" font-family='"Liberation Serif",serif' font-size="16.67" font-weight="bold" text-anchor="middle">Fast direction (degree)</text>
<text x="410.3" y="980.1" font-family='"Liberation Sans",sans-serif' font-size="19.44" font-weight="normal" text-anchor="middle" fill="#000" xml:space="preserve" style="white-space:pre" >Ror= 1.93; Rot= 1.73; Rct= 1.25; Rct/Rot= 0.72</text>
</svg>
</body></html>
